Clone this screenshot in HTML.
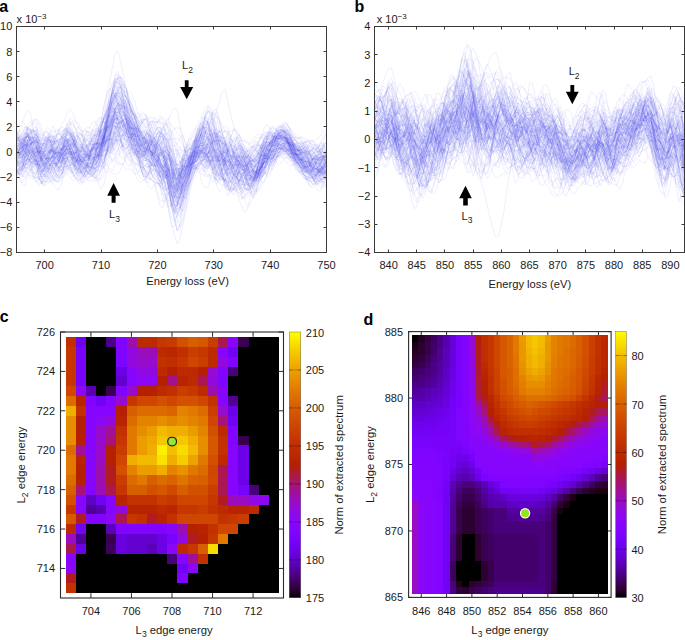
<!DOCTYPE html>
<html><head><meta charset="utf-8"><style>html,body{margin:0;padding:0;background:#fff;overflow:hidden}svg{display:block}</style></head>
<body><svg width="685" height="640" viewBox="0 0 685 640" font-family='"Liberation Sans", sans-serif'><style>.cv path{vector-effect:non-scaling-stroke}</style><g class="cv" transform="translate(16.500,0) scale(2.81818,0.25)" fill="none" stroke="#2a2ae8" stroke-opacity="0.088" stroke-width="0.9" stroke-linejoin="round" vector-effect="non-scaling-stroke"><path d="M0 681l1 12 1 0 1-26 1-13 1 16 1 22 1 13 1 14 1 9 1-2 1 1 1 0 1-17 1-17 1 9 1-6 1-39 1-25 1 9 1 15 1 11 1-1 1-17 1-12 1 3 1 1 1-6 1-6 1-4 1-14 1-44 1-65 1-46 1-31 1-20 1 0 1 8 1 9 1 19 1 21 1 9 1 4 1 23 1 43 1 45 1 22 1-8 1 0 1 13 1 3 1-2 1 8 1 29 1 41 1 45 1 37 1-7 1-47 1-58 1-34 1-3 1 10 1-8 1-27 1-19 1-9 1 15 1 42 1 16 1-19 1-7 1 6 1 7 1 14 1 5 1-2 1 8 1 5 1-5 1 10 1 35 1 44 1 32 1 12 1-18 1-40 1-47 1-53 1-46 1-21 1-2 1-6 1-5 1 6 1 7 1 5 1 7 1 19 1 20 1 9 1 9 1 25 1 33 1 10 1 11 1 16 1 5 1-21 1 14 1 17"/><path d="M0 659l1 4 1 17 1-7 1-48 1-35 1-9 1 14 1 16 1-17 1-39 1-11 1 15 1 28 1 22 1 0 1-35 1-39 1-16 1 2 1 31 1 44 1 21 1 2 1-4 1 5 1 5 1 4 1 3 1-14 1-38 1-23 1-5 1-19 1-26 1-35 1-24 1 4 1 27 1 42 1 40 1 28 1 10 1-8 1-9 1-3 1 17 1 22 1 0 1-12 1 6 1 32 1 37 1 31 1 38 1 73 1 55 1-14 1-35 1-25 1-51 1-66 1-59 1-45 1-28 1-31 1-16 1 16 1 34 1 45 1 38 1 5 1-21 1 9 1 27 1 14 1-2 1-16 1 1 1 40 1 28 1-9 1-29 1-42 1-6 1 28 1 16 1-8 1 7 1 25 1-8 1-32 1-29 1-14 1-6 1-6 1-15 1-18 1 7 1 33 1 38 1 26 1 16 1 4 1 6 1 5 1-7 1-32 1-50 1-47 1-9"/><path d="M0 683l1 18 1 8 1-25 1-17 1 22 1 23 1-1 1-5 1 1 1-14 1-26 1-15 1 2 1 7 1 11 1-6 1-29 1-31 1 1 1 22 1 13 1 3 1 12 1 15 1-8 1-43 1-46 1-15 1-3 1-23 1-17 1 5 1-6 1-25 1-18 1 4 1-3 1-24 1-9 1 24 1 39 1 30 1 10 1 8 1 15 1 28 1 42 1 26 1-2 1-2 1 6 1 11 1 21 1 10 1-15 1-13 1-3 1 16 1 47 1 27 1-16 1-32 1-23 1-10 1 5 1 8 1 8 1-6 1-9 1 1 1 10 1 12 1 11 1-3 1-36 1-47 1-8 1-12 1 10 1-2 1-12 1 4 1 16 1 10 1-2 1-11 1-15 1-22 1-35 1-31 1 0 1 7 1 0 1 7 1 12 1 11 1 11 1 19 1 19 1 18 1 25 1 20 1 7 1 7 1 14 1-3 1-26 1-31 1-19 1 5"/><path d="M0 645l1-4 1-16 1-40 1-17 1 11 1-8 1-13 1 22 1 36 1 12 1 3 1 7 1 7 1 10 1 14 1-1 1-14 1-7 1 5 1 0 1-10 1-9 1-12 1-22 1-20 1-7 1 8 1 0 1-17 1-18 1 18 1 40 1-2 1-41 1-30 1 9 1 23 1 9 1 9 1 24 1 33 1 21 1 0 1-13 1-13 1 2 1 9 1 8 1 22 1 27 1 6 1-26 1-35 1-13 1 9 1 11 1 8 1-9 1-24 1-8 1 5 1-5 1-13 1-11 1-8 1-5 1 7 1 9 1-2 1-12 1-7 1-15 1-26 1-13 1 1 1 23 1 33 1 15 1 3 1 14 1 26 1 34 1 28 1 14 1-6 1-23 1-20 1-14 1-13 1-3 1 9 1-11 1-15 1-10 1-17 1-11 1 7 1 12 1 5 1-5 1-8 1-11 1-13 1-2 1 23 1 29 1 14 1-4 1-11 1-12"/><path d="M0 648l1 2 1-16 1-32 1-25 1-3 1-8 1-1 1 21 1 19 1 13 1 23 1 24 1 8 1-12 1-12 1-3 1 1 1-1 1-5 1-5 1-7 1-12 1 5 1 31 1 35 1 13 1-6 1-33 1-46 1-24 1-28 1-65 1-60 1-26 1-21 1-25 1-17 1-5 1 11 1 34 1 43 1 49 1 64 1 56 1 19 1 2 1 5 1 8 1 14 1-3 1-26 1-16 1-3 1-1 1 28 1 69 1 63 1-1 1-35 1-35 1-36 1-23 1-5 1-12 1-16 1 16 1 27 1 0 1 2 1 21 1 26 1 25 1 1 1-25 1-24 1-12 1-22 1-38 1-29 1-4 1 0 1 6 1 6 1-6 1-2 1 9 1 23 1 19 1-2 1-24 1-30 1-22 1-11 1-8 1 4 1 28 1 39 1 29 1 11 1 2 1 9 1 5 1-2 1-2 1 11 1 19 1 11 1 2 1 2 1 1"/><path d="M0 582l1-2 1-44 1-29 1 5 1 6 1 1 1 16 1 34 1 15 1-12 1-15 1-8 1-2 1 8 1 32 1 32 1 18 1-7 1-3 1 25 1 32 1 24 1 20 1 1 1-9 1-18 1-38 1-28 1-12 1-25 1-47 1-61 1-68 1-33 1-10 1 41 1 51 1 44 1 33 1 22 1 10 1-1 1 3 1 14 1 12 1-8 1-23 1-13 1 5 1 19 1 31 1 23 1-7 1 0 1 23 1-8 1-27 1-13 1-10 1 1 1 8 1 0 1-2 1-6 1-15 1-24 1-29 1-24 1-32 1-41 1 1 1 43 1 51 1 41 1 40 1 53 1 37 1-9 1-7 1 14 1-13 1-29 1-23 1-12 1-6 1-22 1-20 1 6 1 12 1-2 1-14 1-14 1-5 1-2 1 2 1 10 1 24 1 26 1 7 1-7 1-13 1-9 1 9 1 1 1-15 1-8 1 6 1 24 1 24 1-1"/><path d="M0 555l1 10 1-4 1-12 1 0 1 11 1 23 1 53 1 57 1 15 1-7 1 6 1 17 1 7 1-20 1-21 1-12 1-16 1-30 1-18 1 10 1 18 1-8 1-11 1 17 1 20 1 1 1-15 1-28 1 4 1 42 1 9 1-60 1-63 1-35 1-15 1 13 1 19 1 11 1-15 1-23 1-10 1 3 1 36 1 31 1-7 1-4 1 31 1 30 1-7 1-1 1 36 1 28 1 8 1 37 1 54 1 26 1-12 1-45 1-54 1-36 1-12 1-16 1-41 1-52 1-33 1 4 1 39 1 35 1 29 1 56 1 42 1 0 1 7 1 26 1 23 1 3 1-1 1-17 1 4 1 12 1-2 1 0 1-9 1-21 1-15 1-28 1-44 1-28 1-21 1-24 1-7 1 10 1 12 1 8 1 11 1 17 1 8 1 3 1 12 1 8 1 7 1 27 1 31 1 15 1 0 1-13 1-7 1 12 1-1 1-16"/><path d="M0 562l1-10 1-23 1-15 1-3 1-7 1-17 1-11 1 9 1 32 1 35 1 18 1 0 1-20 1-29 1-6 1 34 1 35 1 3 1 5 1 28 1 18 1-6 1-11 1-8 1-12 1-14 1-2 1 6 1-4 1-24 1-21 1-13 1-26 1-26 1-7 1 9 1 0 1-19 1 1 1 42 1 38 1-8 1-35 1-18 1 11 1 27 1 36 1 24 1 11 1 18 1 15 1-4 1 23 1 75 1 65 1 35 1 33 1-12 1-74 1-68 1-55 1-48 1-29 1-23 1-20 1-10 1-14 1-16 1 0 1-5 1-8 1 10 1 24 1 24 1 15 1 13 1 16 1 24 1 41 1 38 1 21 1 0 1-9 1 9 1 18 1 3 1-10 1-12 1-16 1-19 1-23 1-28 1-16 1 0 1 6 1 2 1 2 1 10 1 7 1 11 1 19 1 7 1-13 1-2 1 19 1 2 1-22 1-24 1-12 1 6"/><path d="M0 620l1-19 1-41 1-32 1 6 1 26 1 4 1-2 1 12 1 2 1-2 1 6 1-1 1-2 1 14 1 22 1 6 1-3 1-8 1-11 1 5 1 19 1 6 1-26 1-50 1-24 1-2 1 13 1 12 1-6 1-16 1-14 1-37 1-56 1-45 1-37 1-26 1-6 1 14 1 32 1 37 1 32 1 31 1 28 1 9 1-11 1-3 1 39 1 61 1 46 1 33 1 41 1 51 1 41 1 35 1 46 1 20 1-30 1-40 1-32 1-39 1-40 1-32 1-11 1-4 1-5 1-11 1-18 1-16 1 6 1 42 1 17 1 19 1 6 1-7 1 5 1 29 1 27 1 5 1-5 1-4 1-8 1-19 1-22 1-7 1 0 1 0 1-7 1-19 1-27 1-27 1-19 1-21 1-28 1-21 1 1 1 10 1 10 1 20 1 26 1 10 1 0 1 8 1 18 1 23 1 18 1-7 1-27 1-16 1 4 1 7"/><path d="M0 563l1 17 1 27 1-15 1-28 1 7 1 44 1 31 1 0 1 0 1 8 1-9 1-34 1-11 1 17 1-2 1-25 1-27 1 2 1 19 1 17 1 28 1 30 1 26 1 21 1-1 1-27 1-7 1 0 1-5 1 1 1-19 1-44 1-49 1-46 1-31 1 1 1 10 1 21 1 26 1 16 1-2 1-15 1 2 1 26 1 25 1 9 1 5 1 10 1 21 1 13 1-7 1 5 1 18 1 20 1 38 1 36 1 13 1-13 1-49 1-68 1-55 1-31 1-25 1-27 1-22 1-19 1-24 1-15 1 16 1 68 1 76 1 46 1 57 1 70 1 30 1-33 1-44 1-28 1-26 1-21 1-6 1-1 1 0 1-13 1-21 1 0 1 7 1-6 1 2 1 8 1 5 1 13 1 5 1-14 1-11 1 9 1 8 1 6 1 19 1 22 1 9 1-2 1 2 1 10 1-7 1-32 1-22 1 3 1 3 1-14"/><path d="M0 592l1 12 1-1 1-44 1-46 1-13 1-17 1-8 1 29 1 32 1 8 1 10 1 15 1 2 1-7 1-2 1-11 1-14 1 3 1 1 1-10 1-1 1 17 1 20 1-6 1-11 1 5 1 17 1 4 1 0 1-3 1-30 1-38 1-12 1-16 1-40 1-25 1 7 1 15 1-5 1 8 1 34 1 30 1 23 1 51 1 89 1 57 1 29 1 7 1-19 1-7 1 13 1 12 1-2 1-6 1-16 1-43 1-47 1 5 1 32 1 8 1-10 1-12 1-14 1-19 1-12 1 13 1 26 1 9 1-17 1-21 1-7 1 5 1 9 1 3 1 12 1 28 1 21 1-18 1-38 1-13 1 20 1 31 1 30 1 13 1-17 1-36 1-27 1-16 1-18 1-21 1-13 1-12 1-13 1 1 1 7 1 12 1 24 1 32 1 29 1 21 1 15 1 1 1-12 1-9 1-5 1 4 1 8 1-4 1-9 1-12"/><path d="M0 557l1 0 1-2 1-31 1-10 1 35 1 27 1 12 1 17 1 16 1 8 1 6 1 9 1 11 1 4 1-3 1-8 1-22 1-22 1 13 1 24 1 4 1-2 1-5 1-14 1-10 1-3 1-6 1-22 1-11 1 3 1-32 1-51 1-38 1-58 1-70 1-27 1 11 1 39 1 44 1 33 1 22 1 22 1 32 1 26 1 5 1 4 1 34 1 54 1 35 1 20 1 31 1 31 1 16 1-4 1-12 1-3 1-6 1-25 1-22 1-26 1-29 1-6 1 2 1-17 1-49 1-63 1-28 1 4 1 1 1 26 1 58 1 47 1 3 1-11 1 4 1 26 1 19 1-5 1 0 1 12 1 19 1 35 1 52 1 32 1-20 1-50 1-43 1-19 1-12 1-14 1-11 1-9 1-20 1-18 1 8 1 27 1 20 1 3 1-7 1 1 1 12 1 14 1 12 1-4 1-21 1-18 1 5 1 25 1 11 1-6"/><path d="M0 534l1-12 1 34 1 28 1 2 1-8 1-15 1 5 1 35 1 47 1 16 1-8 1-15 1-18 1 0 1 3 1-26 1-30 1 9 1 26 1 22 1 20 1-1 1-20 1-8 1 11 1-16 1-32 1-23 1-21 1-35 1-37 1-29 1-37 1-44 1-36 1-11 1 18 1 45 1 52 1 53 1 45 1 22 1 1 1-6 1 10 1 2 1-15 1 6 1 6 1-17 1-1 1 9 1 8 1 33 1 27 1 19 1 43 1 20 1 2 1 7 1-19 1-38 1-20 1 5 1 0 1-10 1 10 1 7 1-21 1-14 1 1 1 3 1 16 1 32 1 35 1 23 1-2 1-2 1 16 1 18 1-3 1-29 1 2 1 12 1 1 1-31 1-38 1-19 1-2 1-8 1-18 1-23 1-24 1-15 1-10 1 0 1 14 1 26 1 33 1 30 1 21 1 15 1 9 1 0 1 9 1 15 1-4 1-18 1-10 1 13"/><path d="M0 653l1-5 1 0 1-3 1-2 1 2 1 3 1 17 1 12 1-21 1-41 1-27 1-4 1 23 1 32 1 11 1-32 1-50 1-27 1-1 1 18 1 27 1 18 1 3 1-5 1 2 1 13 1 21 1 19 1 5 1-12 1-13 1-17 1-55 1-56 1 0 1 15 1-21 1-25 1-3 1 10 1 4 1-20 1-17 1 18 1 35 1 8 1-16 1-14 1 4 1 44 1 59 1 41 1 49 1 69 1 63 1 22 1-13 1-30 1-39 1-44 1-24 1-7 1-3 1-1 1 21 1 45 1 13 1-2 1-40 1-47 1-12 1-8 1-28 1-33 1 0 1 43 1 51 1 10 1-18 1-4 1 6 1 6 1 6 1 1 1 5 1 13 1 8 1-7 1-20 1-34 1-35 1-18 1-4 1 8 1 7 1-5 1-3 1 11 1 18 1 14 1 0 1-10 1 5 1 23 1 8 1-13 1-11 1-5 1 17 1 11"/><path d="M0 608l1-10 1-12 1 8 1 35 1 30 1-10 1-13 1 19 1 23 1-2 1-25 1-33 1-18 1 11 1 21 1-1 1-16 1-14 1-22 1-19 1 2 1 10 1 12 1 9 1 0 1-29 1-45 1-24 1-21 1-2 1 17 1 1 1-12 1-12 1-2 1 35 1 61 1 48 1 17 1 19 1-5 1-25 1-8 1-4 1-9 1 5 1 14 1 5 1 15 1 30 1 42 1 45 1 13 1-15 1-5 1 7 1-14 1-46 1-37 1-11 1 4 1 2 1-2 1-4 1 3 1-2 1-6 1 11 1 0 1-23 1-2 1 29 1 38 1 37 1 19 1-15 1-43 1-36 1-11 1 0 1 15 1 10 1 2 1 17 1 25 1 6 1-27 1-48 1-38 1-2 1 16 1 10 1-1 1-10 1-11 1 2 1 12 1 17 1 9 1 8 1 25 1 24 1 9 1 6 1-4 1-8 1-7 1-16 1-28 1-37"/><path d="M0 562l1 14 1 25 1-8 1-11 1 5 1-9 1-13 1 12 1 20 1-11 1-8 1 28 1 46 1 43 1 20 1-22 1-39 1-49 1-23 1-9 1 9 1 13 1 28 1 8 1-11 1-16 1-12 1-16 1-29 1-26 1-14 1-35 1-59 1-49 1-31 1-20 1-1 1 17 1 28 1 59 1 73 1 54 1 36 1 18 1-1 1-21 1-25 1-7 1 16 1 13 1-2 1 11 1 21 1 27 1 22 1 18 1 29 1 33 1 18 1-14 1-24 1-27 1-28 1-35 1-16 1 13 1 10 1-8 1-1 1 27 1 37 1 22 1 5 1 9 1 27 1 19 1-10 1-42 1-42 1-18 1 9 1 40 1 18 1 18 1-15 1-26 1-30 1-33 1-24 1-7 1-9 1-25 1-16 1 3 1-3 1-3 1 18 1 24 1 7 1-5 1 5 1 13 1 2 1-7 1-11 1-1 1 11 1-6 1-38 1-31"/><path d="M0 674l1 13 1-6 1-23 1-1 1 26 1 22 1 21 1 16 1-15 1-53 1-49 1-23 1-14 1 5 1 29 1 20 1-5 1-20 1-11 1 4 1 6 1 16 1 31 1 31 1 25 1 4 1 1 1-11 1-15 1-23 1-27 1-34 1-30 1-25 1-4 1 11 1 25 1 14 1-13 1-7 1 4 1 13 1 24 1 25 1 10 1 2 1 7 1-5 1-19 1-1 1 11 1 6 1 17 1 35 1 29 1 16 1 1 1-22 1-30 1-10 1-8 1-22 1-27 1-38 1-32 1 4 1 23 1-6 1-18 1 7 1 43 1 51 1 31 1 18 1 5 1-1 1 8 1 18 1 19 1 17 1-3 1-18 1 1 1 11 1-17 1-47 1-48 1-23 1 2 1-2 1-33 1-41 1-23 1-10 1-8 1-3 1 17 1 33 1 20 1 3 1 2 1-1 1 9 1 27 1 21 1 6 1-8 1-19 1-19 1-4"/><path d="M0 642l1 28 1 5 1-21 1-5 1 28 1 20 1-12 1-4 1 6 1 0 1-11 1-24 1-29 1-13 1 3 1 1 1-8 1-9 1 9 1 27 1 33 1 28 1-6 1-25 1-5 1-17 1-42 1-29 1-13 1-11 1 3 1-2 1-15 1-11 1-8 1-2 1-1 1-8 1-12 1 6 1 23 1 21 1 4 1-16 1-7 1 28 1 41 1 22 1 2 1-11 1-8 1 5 1 27 1 54 1 63 1 44 1-21 1-74 1-30 1-31 1 7 1-16 1-22 1-12 1-7 1 0 1 11 1 7 1 29 1 59 1 54 1 24 1-13 1-35 1-25 1-5 1-1 1-5 1-6 1-9 1-25 1-18 1 22 1 41 1 9 1-26 1-14 1 1 1-22 1-44 1-31 1-13 1-13 1-17 1-13 1 9 1 20 1 13 1 10 1 22 1 36 1 38 1 39 1 30 1 14 1 3 1-13 1-24 1-29 1-13"/><path d="M0 689l1-7 1-15 1-20 1-15 1-24 1-13 1 19 1 21 1-3 1-8 1-10 1-15 1-17 1-18 1-4 1 10 1 23 1 23 1 7 1-3 1-12 1-13 1 12 1-2 1-27 1-15 1 1 1-9 1-30 1-36 1-23 1-24 1-39 1-31 1 15 1 39 1 8 1-2 1-6 1 11 1 25 1 42 1 43 1 17 1 4 1 8 1-11 1-17 1 16 1 22 1-11 1-15 1-7 1 11 1 44 1 46 1 19 1 4 1-2 1-10 1-14 1-18 1-22 1-29 1-28 1-43 1-52 1-18 1 10 1 24 1 38 1 39 1 36 1 24 1 11 1 15 1 31 1 40 1 10 1-12 1 5 1 7 1-2 1-1 1-2 1-9 1-27 1-36 1-26 1-8 1-5 1-9 1 5 1-2 1-11 1-24 1 3 1 25 1 22 1 7 1-4 1 1 1 13 1 33 1 27 1-1 1-4 1-4 1-8 1-3"/><path d="M0 620l1 13 1 14 1-23 1-37 1-15 1-2 1-1 1-1 1-9 1-5 1 12 1 24 1 18 1 5 1-2 1 7 1 18 1 17 1 19 1 24 1 18 1 11 1-4 1-23 1-14 1 0 1-8 1-18 1-17 1-30 1-50 1-52 1-41 1-48 1-57 1-18 1 21 1 13 1 10 1 28 1 29 1 28 1 32 1 31 1 23 1 7 1-23 1-49 1-28 1 9 1 16 1 2 1 0 1 21 1 50 1 57 1 41 1 35 1 16 1-19 1-37 1-29 1-25 1-37 1-21 1 15 1 17 1-2 1 1 1 28 1 37 1 24 1 11 1-14 1-18 1-5 1-4 1-9 1-6 1 4 1 7 1-6 1-18 1-22 1-11 1 7 1 10 1-2 1-12 1-7 1 8 1 9 1-4 1-11 1-1 1 10 1 11 1 13 1 16 1 8 1 10 1 13 1 9 1 10 1 7 1 1 1-9 1-17 1-20 1-16"/><path d="M0 643l1 26 1 33 1 7 1-9 1-11 1-46 1-45 1-7 1 23 1 11 1-17 1-27 1-3 1 9 1 5 1 10 1 2 1-20 1-9 1 8 1-10 1-30 1-3 1 9 1 35 1 11 1-4 1 7 1-5 1-51 1-84 1-66 1-33 1-17 1-12 1 0 1 16 1 24 1 24 1 37 1 24 1 7 1 22 1 37 1 45 1 34 1 6 1 0 1 16 1 42 1 27 1-9 1 3 1 44 1 52 1 39 1 37 1 3 1-33 1-49 1-45 1-34 1-23 1-8 1 13 1 5 1-17 1-21 1-8 1 3 1-5 1 11 1 42 1 40 1 15 1 3 1 4 1 9 1 10 1 7 1 21 1 27 1-12 1-34 1-35 1-39 1-35 1-30 1-23 1-25 1-23 1-14 1-12 1-7 1 13 1 18 1 5 1 3 1 7 1 15 1 20 1 8 1 10 1 27 1 39 1 26 1-18 1-22 1 7 1-4"/><path d="M0 602l1-13 1-2 1 5 1 12 1 12 1-4 1-4 1 4 1-17 1-34 1-23 1-3 1 17 1 27 1 30 1 6 1-29 1-30 1 3 1 23 1 14 1 4 1 6 1 1 1 5 1 0 1-13 1-17 1-19 1-23 1-19 1-22 1-21 1-12 1-4 1 15 1 20 1 7 1-2 1 9 1 25 1 36 1 31 1 19 1-2 1-5 1-2 1-8 1-28 1-4 1 20 1 17 1 16 1 48 1 48 1 21 1 25 1 12 1-19 1-25 1-24 1-23 1-18 1-26 1-13 1-1 1-19 1-32 1-19 1-3 1 14 1 29 1 17 1-10 1-18 1-7 1 1 1 10 1 10 1 16 1 21 1 12 1 15 1 16 1 8 1 5 1-6 1-23 1-17 1-9 1-13 1-14 1-6 1-2 1-3 1 6 1 15 1 14 1 9 1 2 1-5 1-9 1-6 1 0 1-1 1-7 1-7 1-9 1-18 1-18"/><path d="M0 513l1-15 1-13 1 10 1 41 1 58 1 40 1 8 1 1 1 0 1-16 1-18 1-1 1 12 1 13 1 12 1-3 1-17 1-29 1-31 1-15 1-7 1 2 1 24 1 36 1 23 1-5 1-8 1-14 1-31 1-40 1-19 1 5 1 0 1-43 1-75 1-44 1 17 1 36 1 35 1 50 1 50 1 40 1 24 1 0 1 10 1 32 1 19 1-12 1-1 1 39 1 38 1 29 1 36 1 7 1 0 1-38 1-39 1-47 1-39 1-13 1-9 1-24 1-37 1-35 1-7 1 50 1 63 1 21 1-7 1 10 1 20 1-2 1 13 1 29 1 20 1 18 1 12 1 4 1 18 1 15 1-18 1-31 1-35 1-35 1-34 1-34 1-7 1 11 1-7 1-12 1 2 1-9 1-31 1-18 1 4 1 7 1 11 1 18 1 16 1 3 1-2 1 8 1 11 1 5 1 11 1 5 1-3 1-2 1-2 1-6"/><path d="M0 552l1 3 1 4 1-15 1-12 1 22 1 26 1 9 1-2 1-12 1-18 1-5 1 17 1 38 1 53 1 25 1 10 1-9 1-13 1-14 1-8 1-2 1-7 1-3 1-5 1-20 1-34 1-28 1-21 1-9 1 8 1 3 1-17 1-26 1-25 1-31 1-3 1 39 1 30 1 19 1 34 1 31 1 13 1 11 1 8 1 0 1 0 1-3 1-8 1-6 1-10 1-8 1-6 1 7 1 36 1 59 1 53 1 25 1-9 1-22 1-13 1-12 1-17 1-11 1-29 1-26 1-22 1-5 1-16 1-21 1 10 1 13 1-1 1 28 1 45 1 34 1 22 1 22 1 29 1 7 1-24 1-30 1-12 1 12 1 4 1-20 1-26 1-26 1-30 1-23 1-13 1-17 1-15 1-2 1 3 1 8 1 19 1 29 1 32 1 30 1 20 1 9 1-11 1-4 1 6 1 4 1-21 1-39 1-32 1-20 1-3"/><path d="M0 576l1-1 1-1 1 6 1 22 1 21 1-5 1-9 1 9 1 19 1 6 1-25 1-40 1-14 1 12 1 3 1-3 1 9 1 3 1-8 1-3 1 29 1 53 1 33 1-13 1-18 1 4 1 8 1 6 1 10 1-8 1-13 1-6 1-30 1-62 1-70 1-57 1-39 1-4 1 29 1 15 1 6 1 10 1 38 1 43 1 15 1 9 1 15 1-3 1-11 1 21 1 53 1 40 1 22 1 3 1-14 1 9 1 22 1-6 1-12 1-8 1-20 1-19 1-15 1-26 1-17 1 13 1 12 1 2 1 31 1 45 1 20 1-9 1-10 1 11 1 20 1 26 1 20 1-17 1-39 1-32 1-1 1 34 1 29 1-4 1-27 1-32 1-51 1-41 1-1 1 22 1 22 1-6 1-17 1-24 1-15 1-7 1-6 1 7 1 20 1 19 1 6 1-14 1-11 1 21 1 25 1 11 1-1 1 8 1 24 1 14"/><path d="M0 571l1 7 1 5 1-3 1 5 1-4 1-10 1 13 1 30 1 35 1 26 1-3 1-14 1 6 1 17 1-4 1-34 1-53 1-47 1-15 1 22 1 37 1 22 1 14 1 9 1-2 1-9 1-22 1-35 1-24 1-23 1-41 1-56 1-19 1 30 1 6 1-17 1 3 1 36 1 23 1 4 1 23 1 38 1 37 1 17 1-16 1-24 1-1 1 16 1 13 1 17 1 21 1 26 1 39 1 50 1 33 1 8 1-6 1-35 1-43 1-17 1-13 1-16 1-3 1-4 1-13 1 15 1 26 1-18 1-27 1 35 1 57 1 15 1 1 1 13 1-11 1-44 1-42 1-14 1 2 1 9 1-8 1-20 1 4 1 15 1-11 1-12 1 0 1-4 1 1 1 6 1-2 1-13 1-13 1-8 1-3 1 4 1 6 1 10 1 7 1-8 1-2 1 28 1 36 1 14 1 9 1 14 1 0 1-22 1-23 1 4"/><path d="M0 649l1-22 1-4 1-5 1-18 1-24 1-23 1 9 1 33 1 42 1 27 1 2 1-14 1-13 1-10 1-13 1-20 1-22 1-15 1 5 1 13 1 16 1 29 1 32 1 17 1 5 1-1 1-12 1-39 1-41 1-13 1 5 1-13 1-43 1-47 1-22 1 10 1 14 1 8 1 15 1 22 1 39 1 47 1 36 1 33 1 30 1 6 1-16 1-42 1-26 1 1 1 17 1 19 1 29 1 42 1 21 1-8 1 0 1-4 1-38 1-48 1-27 1-20 1-36 1-43 1-17 1 23 1 40 1 24 1 40 1 48 1 16 1-14 1-2 1 21 1 37 1 22 1-10 1-21 1-13 1-4 1-7 1-11 1-12 1-2 1 1 1 22 1-2 1-28 1-42 1-41 1-26 1-23 1-21 1-8 1 2 1 6 1 19 1 27 1 29 1 29 1 30 1 20 1 6 1-3 1 5 1 10 1 1 1-2 1-6 1 8"/><path d="M0 526l1 18 1 30 1 10 1 9 1 16 1 8 1-8 1-2 1 18 1 11 1-4 1 2 1 12 1-3 1-18 1-10 1-9 1-28 1-19 1 11 1 16 1 6 1 7 1-6 1 14 1 32 1 2 1-18 1-6 1 5 1 2 1-16 1-33 1-25 1-4 1-3 1-20 1-23 1-7 1 18 1 40 1 41 1 19 1-21 1-14 1 23 1 2 1-34 1-38 1-20 1 2 1 22 1 28 1 41 1 50 1 38 1 38 1 34 1 9 1-13 1-21 1-20 1-23 1-31 1-52 1-20 1 14 1 9 1-9 1 17 1 36 1 9 1-21 1-16 1 13 1 15 1-15 1-16 1 24 1 38 1 24 1 18 1 25 1 22 1-17 1-43 1-39 1-36 1-20 1 6 1 9 1-3 1-11 1-6 1 2 1 3 1-9 1 2 1 11 1 9 1 3 1-2 1 8 1 16 1 15 1 19 1 2 1-8 1-2 1 8"/><path d="M0 690l1-17 1-34 1-36 1-25 1 4 1 26 1 21 1 4 1 14 1 25 1-7 1-26 1-25 1 0 1 2 1 13 1 16 1-4 1 3 1 14 1 15 1 2 1-23 1-25 1-8 1 22 1-2 1-49 1-33 1 10 1 3 1-17 1-12 1-3 1 11 1 11 1 6 1 7 1-6 1 13 1 25 1 10 1 11 1 15 1 21 1 28 1 26 1-5 1-15 1-55 1-43 1 21 1 48 1 14 1 11 1 13 1-6 1 0 1 13 1-5 1-20 1-27 1-34 1-36 1-29 1-40 1-45 1-29 1 12 1 37 1 28 1 23 1 23 1 36 1 45 1 22 1-7 1-41 1-47 1 9 1 36 1 3 1-17 1-10 1 2 1 1 1-12 1-11 1 2 1 4 1-3 1-1 1 2 1-6 1-6 1 0 1 7 1 15 1 8 1-5 1-5 1 3 1 10 1 19 1 23 1 8 1 5 1-1 1-17 1-24"/><path d="M0 661l1-7 1-5 1-7 1 4 1 18 1 5 1-11 1-1 1 10 1-10 1-29 1-16 1-1 1-10 1-18 1-9 1-6 1-12 1-4 1 14 1 20 1 11 1 15 1 8 1-3 1 6 1 8 1-1 1 5 1-11 1-49 1-68 1-59 1-54 1-53 1-31 1-2 1 27 1 86 1 87 1 42 1 14 1 10 1 15 1 14 1-6 1-22 1-14 1-6 1-19 1-9 1 13 1 24 1 26 1 35 1 34 1 40 1 38 1 8 1-33 1-47 1-28 1-5 1-2 1-11 1-25 1-34 1-10 1 3 1-15 1-6 1 44 1 65 1 42 1 19 1-18 1-65 1-66 1-16 1 29 1 24 1 17 1 40 1 56 1 16 1-28 1-27 1-18 1-10 1-8 1-11 1-25 1-24 1-5 1 6 1 14 1 26 1 22 1 5 1 1 1 16 1 16 1 0 1 4 1 23 1 10 1-20 1-16 1 12 1 13"/><path d="M0 621l1 9 1 0 1-9 1-16 1-5 1-14 1 5 1 50 1 22 1-21 1-8 1 9 1 10 1 4 1-8 1-8 1 1 1-12 1-20 1 2 1 20 1 12 1 3 1-5 1-8 1 2 1-1 1-19 1-45 1-61 1-42 1-20 1-25 1-32 1-17 1 10 1 15 1 23 1 53 1 63 1 37 1 5 1-2 1 4 1 12 1 3 1-3 1 16 1 24 1 12 1 18 1 28 1 20 1 18 1 24 1 1 1-46 1-49 1-36 1-40 1-24 1-5 1-11 1-23 1-9 1 1 1-2 1-12 1-11 1 17 1 36 1 19 1 4 1 7 1 10 1 13 1 12 1 11 1 16 1 15 1 22 1 23 1 6 1-11 1-25 1-30 1-26 1-31 1-32 1-13 1 1 1-1 1 2 1-3 1-16 1-9 1 7 1 21 1 17 1 0 1-4 1 5 1 6 1 3 1 5 1 7 1 14 1 11 1-5 1-12"/><path d="M0 602l1 10 1 6 1-42 1-56 1-1 1 40 1 22 1 4 1 9 1-1 1-7 1 11 1 12 1-13 1-18 1-14 1-6 1 12 1 36 1 50 1 38 1 7 1-13 1-19 1-7 1 9 1-10 1-47 1-33 1 2 1-13 1-46 1-29 1 4 1 6 1 16 1 20 1-3 1-18 1 4 1 21 1 5 1-6 1 21 1 37 1 27 1 18 1 12 1-7 1-12 1 6 1 21 1-1 1-29 1-7 1 38 1 31 1 4 1-15 1-18 1-16 1-22 1-22 1-20 1-13 1-7 1-15 1-24 1-30 1-19 1 9 1 30 1 55 1 66 1 34 1 21 1 25 1-1 1-38 1-46 1-25 1-17 1-27 1-14 1-10 1-8 1 4 1-4 1-7 1-1 1 15 1 14 1 15 1 7 1 3 1 13 1 18 1 9 1-8 1-10 1-5 1-4 1 3 1 4 1 3 1 14 1 9 1 11 1 21 1 5"/><path d="M0 600l1 22 1 7 1-1 1 8 1 4 1-7 1 24 1 55 1 26 1-26 1-42 1-20 1 7 1 5 1-16 1-24 1-16 1-10 1 2 1 26 1 35 1 24 1 14 1 0 1 7 1 8 1-11 1-14 1-22 1-66 1-79 1-59 1-50 1-36 1-3 1 37 1 54 1 29 1 22 1 25 1 22 1 14 1 19 1 23 1 12 1-23 1-22 1 9 1 9 1 25 1 9 1-4 1-7 1 15 1 23 1 35 1 53 1 24 1-12 1-39 1-44 1-34 1-19 1-7 1 13 1 32 1 36 1 8 1-8 1 7 1 12 1-2 1-16 1-14 1 9 1 14 1 3 1-4 1-20 1-11 1-2 1-11 1-18 1-11 1-7 1-12 1 2 1 15 1 0 1-19 1-17 1-12 1-10 1-9 1-6 1 5 1 10 1 2 1 3 1 19 1 35 1 31 1 18 1 16 1 21 1 13 1-15 1-36 1-17 1 22"/><path d="M0 579l1-12 1 4 1 10 1-2 1-8 1-4 1 26 1 63 1 42 1 2 1-24 1-7 1 4 1-9 1-32 1-39 1-10 1 14 1 18 1 23 1 25 1 17 1 1 1-16 1-8 1-2 1 6 1 26 1 43 1 25 1-19 1-43 1-39 1-18 1-2 1-13 1-30 1-15 1 2 1 0 1 0 1 18 1 35 1 20 1-8 1-1 1 26 1 30 1 14 1-10 1-19 1-12 1-16 1-33 1-24 1-1 1 5 1-13 1-4 1 28 1 20 1-9 1-12 1 1 1 1 1-3 1 6 1 19 1 30 1 16 1-22 1-33 1-12 1-7 1-5 1 0 1 2 1 22 1 48 1 59 1 18 1 11 1-7 1-29 1-29 1-19 1-10 1-24 1-41 1-32 1-15 1-9 1-2 1 1 1 5 1 17 1 13 1 5 1 7 1 9 1 6 1 6 1 10 1 6 1 5 1 5 1 14 1 23 1 19 1 0"/><path d="M0 656l1 13 1 7 1-10 1-14 1-21 1-31 1-5 1 26 1 21 1-14 1-35 1-10 1 47 1 37 1 3 1 14 1 14 1-20 1-10 1 21 1 19 1 23 1 7 1-23 1-37 1-58 1-60 1-24 1-11 1-27 1-22 1-13 1 0 1-9 1-23 1-9 1 1 1-2 1 16 1 53 1 46 1 10 1-1 1 9 1 28 1 34 1 14 1 8 1 17 1 31 1 22 1-12 1-12 1-3 1-34 1-34 1 2 1 10 1 18 1 15 1-7 1-30 1-29 1-8 1 9 1 7 1 15 1 10 1 1 1 15 1 6 1-10 1 6 1 11 1 10 1 3 1 9 1 30 1 16 1-4 1-6 1 7 1 0 1 3 1 10 1-8 1-36 1-66 1-75 1-27 1-11 1 8 1 20 1 18 1 11 1 13 1 6 1-2 1 5 1 21 1 35 1 33 1 34 1 35 1 5 1-13 1 0 1 12 1-6 1-39"/><path d="M0 613l1 10 1-12 1-36 1-19 1-1 1 0 1 10 1 21 1 3 1-18 1-19 1-8 1 4 1 0 1-9 1-13 1-2 1 6 1 2 1 11 1 12 1 3 1 16 1 25 1 25 1 2 1-8 1-6 1-22 1-28 1-20 1-23 1-26 1-24 1-19 1-24 1-12 1 32 1 37 1 30 1 61 1 38 1 8 1-29 1-20 1-8 1 7 1 12 1 2 1-23 1-24 1 16 1 53 1 60 1 40 1 20 1 12 1 12 1-5 1-28 1-34 1-29 1-40 1-45 1-10 1 8 1-14 1-8 1 37 1 65 1 48 1 10 1-21 1-6 1-3 1-22 1-16 1-13 1-10 1 19 1 15 1-21 1-11 1 8 1 18 1-10 1-45 1-36 1-14 1 0 1 7 1-5 1 3 1 12 1-1 1-14 1-2 1 8 1 16 1 11 1 4 1-4 1-7 1 7 1 29 1 25 1 14 1 1 1-7 1-9"/><path d="M0 594l1 7 1-8 1-24 1-8 1 1 1-10 1 3 1 20 1 18 1 22 1 11 1-20 1-31 1-13 1 16 1 19 1 10 1 23 1 34 1 18 1-8 1-25 1-5 1 17 1 1 1-27 1-34 1-39 1-36 1-7 1 27 1 16 1-29 1-54 1-11 1 47 1 33 1-9 1-9 1 24 1 34 1 23 1 19 1 4 1-9 1 9 1 13 1-7 1-29 1-47 1-33 1-16 1-34 1-7 1 66 1 89 1 56 1 25 1 7 1-18 1-34 1-34 1-26 1-32 1-47 1-31 1-4 1-8 1-22 1-14 1 4 1 34 1 48 1 19 1 1 1 26 1 38 1 20 1 10 1 5 1-3 1-8 1-11 1-6 1-7 1-18 1-22 1-25 1-22 1-15 1-3 1 7 1 11 1 13 1 14 1 14 1 15 1 22 1 24 1 15 1 8 1 9 1 6 1-5 1-2 1 12 1 16 1-1 1-21 1-30"/><path d="M0 616l1-14 1-14 1-12 1 4 1-2 1-10 1 24 1 37 1 7 1-5 1 2 1 1 1-4 1 5 1 8 1-17 1-33 1-26 1 6 1 33 1 22 1 2 1 8 1 12 1 6 1-4 1-4 1-3 1 7 1-2 1-41 1-77 1-65 1-40 1-20 1 9 1 27 1 23 1-2 1-14 1-8 1 16 1 27 1 16 1 16 1 26 1 18 1-7 1-2 1 40 1 35 1-18 1-18 1 11 1 25 1 34 1 44 1 25 1 4 1-11 1-25 1-38 1-39 1-31 1-25 1-11 1 7 1 7 1 10 1 19 1 22 1 20 1 13 1-8 1-38 1-55 1-34 1 1 1 19 1 33 1 28 1 23 1 21 1 17 1 0 1-22 1-19 1 3 1 4 1-9 1-17 1-2 1 14 1 0 1-20 1-8 1 11 1 13 1 12 1 4 1-17 1-24 1-6 1 16 1 7 1-6 1-1 1 19 1 18 1 29"/><path d="M0 685l1-8 1-14 1-22 1-23 1-10 1 2 1 22 1 47 1 30 1-2 1-3 1 15 1 20 1 14 1 4 1-24 1-40 1-34 1-23 1-2 1 10 1-2 1-6 1-2 1-9 1-20 1-16 1 1 1 33 1 18 1-36 1-45 1-21 1-14 1 12 1 50 1 43 1 5 1-25 1-11 1 8 1 8 1 1 1-3 1-6 1-1 1-4 1-27 1-25 1-4 1 17 1 13 1-10 1-9 1 9 1 17 1 18 1 16 1 16 1 13 1 6 1-1 1-14 1-32 1-46 1-24 1 12 1 18 1 5 1-5 1-3 1 20 1 42 1 29 1 16 1 1 1-10 1-3 1 4 1 3 1-5 1-9 1 6 1 23 1 11 1-7 1-20 1-39 1-47 1-27 1 9 1 23 1 10 1 1 1-3 1 5 1 18 1 24 1 28 1 21 1 1 1-19 1-20 1 0 1 18 1 12 1-1 1 0 1 8 1-3"/><path d="M0 636l1 27 1 5 1-31 1-18 1 24 1 16 1 0 1-3 1-25 1-35 1-32 1-11 1 16 1-13 1-35 1-19 1-22 1-29 1-15 1 15 1 34 1 26 1 10 1 5 1 2 1 4 1 7 1 4 1-20 1-31 1-5 1 16 1 8 1-26 1-49 1-25 1 19 1 32 1 12 1 10 1 36 1 50 1 42 1 13 1-32 1-35 1 27 1 56 1 50 1 42 1 16 1-19 1-31 1-5 1 20 1 1 1 6 1 16 1-15 1-37 1-48 1-37 1-14 1-6 1-9 1-19 1-16 1-3 1-9 1-7 1 24 1 39 1 22 1 9 1 3 1 8 1 17 1 24 1 29 1 10 1-14 1-28 1-20 1-3 1-7 1-21 1-25 1-20 1-13 1-8 1 6 1 4 1-14 1-22 1-21 1 1 1 26 1 41 1 43 1 20 1 11 1 4 1 7 1-5 1-10 1-6 1 6 1 24 1 24 1 4"/><path d="M0 594l1-17 1-2 1-28 1-47 1-16 1-5 1 11 1 57 1 57 1 25 1-12 1-19 1 9 1 18 1-4 1-19 1-23 1-12 1 32 1 48 1 29 1 3 1-22 1-15 1 2 1-16 1-32 1-22 1 4 1-1 1-48 1-52 1-60 1-57 1-35 1 10 1 18 1 8 1 20 1 30 1 41 1 45 1 12 1-4 1 32 1 47 1 27 1 24 1 23 1 9 1 7 1 24 1 59 1 89 1 59 1 2 1-19 1-28 1-22 1-35 1-64 1-58 1-60 1-72 1-49 1-26 1-2 1 17 1 55 1 72 1 30 1-5 1-2 1-7 1-26 1-15 1 12 1 21 1 11 1-4 1-4 1 24 1 46 1 27 1-21 1-46 1-38 1-26 1-19 1-7 1 3 1 1 1-12 1-13 1-1 1 14 1 15 1 14 1 22 1 20 1 21 1 25 1 16 1-3 1-14 1-10 1-1 1-16 1-27 1-22"/><path d="M0 596l1 16 1 7 1-28 1-31 1-4 1 5 1 1 1-4 1 15 1 22 1-10 1-16 1 20 1 26 1-15 1-53 1-34 1 7 1 19 1 22 1 20 1 24 1 33 1 19 1 10 1 17 1 2 1-10 1-17 1-39 1-46 1-52 1-66 1-56 1-19 1 22 1 43 1 32 1-2 1-9 1 9 1 30 1 39 1 24 1-2 1-16 1-8 1 12 1 13 1 5 1 12 1 37 1 28 1 31 1 32 1-5 1 2 1-7 1-14 1-17 1-30 1-24 1-19 1-14 1 13 1 19 1-1 1 5 1 35 1 40 1 1 1-34 1-13 1 17 1 53 1 37 1 4 1-7 1-16 1-8 1 5 1 6 1 2 1-16 1-32 1-15 1-1 1-12 1-29 1-35 1-30 1-17 1-2 1-10 1-21 1-1 1 14 1 34 1 40 1 21 1 4 1 6 1 15 1-3 1-16 1 0 1 4 1-1 1 3 1-12"/><path d="M0 678l1 29 1 25 1-18 1-43 1-12 1-12 1-23 1-25 1-24 1-5 1 10 1 17 1 29 1 28 1 6 1-17 1-22 1-9 1 12 1 21 1 19 1 9 1 6 1-4 1-9 1-7 1-5 1-12 1-19 1-21 1-22 1-19 1-6 1 5 1-11 1-50 1-65 1-25 1 14 1 31 1 19 1 20 1 44 1 36 1 21 1 27 1 24 1 16 1 15 1 17 1 18 1 9 1-25 1-28 1 22 1 60 1 16 1-53 1-46 1-21 1-20 1-17 1-15 1-23 1-27 1-20 1-20 1-16 1 13 1 28 1 17 1 25 1 37 1 25 1 11 1 11 1 12 1 17 1 18 1 20 1 24 1-6 1-30 1-4 1 18 1 11 1-26 1-41 1-27 1-21 1-35 1-31 1-17 1-2 1 4 1 19 1 17 1 9 1 7 1 11 1 17 1 17 1 9 1 10 1 18 1 5 1-13 1 2 1 13 1 6"/><path d="M0 572l1 7 1 5 1-2 1-7 1-1 1-6 1 12 1 39 1 23 1-1 1-7 1-18 1-33 1-39 1-12 1 15 1 11 1 11 1 27 1 28 1 17 1 18 1 12 1-16 1-23 1-4 1 8 1 2 1-14 1-26 1-27 1-21 1 13 1 34 1-3 1-39 1-33 1-23 1-9 1-8 1-22 1-6 1 25 1 9 1-16 1-12 1 19 1 26 1 44 1 59 1 52 1-5 1-54 1 6 1 76 1 89 1 21 1-26 1-29 1-25 1-26 1-29 1-25 1-28 1-18 1 10 1 18 1 2 1-16 1-8 1 20 1 39 1 29 1 0 1-2 1 20 1 15 1-10 1-13 1 9 1 5 1-16 1-11 1 6 1 7 1 4 1-3 1-14 1-23 1-32 1-33 1-19 1-8 1 2 1 18 1 28 1 21 1 13 1 11 1 2 1 7 1 8 1-13 1-26 1-18 1-8 1 0 1-6 1-20 1-12"/><path d="M0 631l1-2 1 6 1 4 1-5 1 7 1 19 1 33 1 26 1-17 1-43 1-19 1-5 1-16 1-21 1-16 1-19 1-14 1-10 1-5 1 20 1 50 1 45 1 24 1 15 1 11 1-7 1-34 1-36 1-33 1-36 1-9 1 10 1 5 1-19 1-37 1-34 1-26 1 6 1 42 1 42 1 21 1 10 1 9 1 11 1 10 1-2 1-12 1 6 1 26 1 24 1 28 1 19 1 10 1 41 1 69 1 68 1 49 1-16 1-77 1-59 1-44 1-46 1-29 1-16 1-6 1 5 1 8 1-11 1-9 1 27 1 37 1 24 1-2 1-20 1-10 1-2 1-3 1-7 1-9 1 10 1 32 1 32 1 10 1-11 1-36 1-44 1-33 1-31 1-34 1-21 1 13 1 29 1 15 1 9 1 13 1 15 1 18 1 3 1-11 1-29 1-15 1 18 1 35 1 23 1 2 1-3 1 7 1 13 1 6 1-8"/><path d="M0 645l1 4 1 8 1 1 1-7 1-16 1-6 1 26 1 31 1-3 1-33 1-34 1-20 1 2 1 19 1 6 1-23 1-17 1 0 1 8 1 2 1-20 1-30 1-16 1-7 1 4 1 17 1 13 1-3 1-13 1-15 1-25 1-18 1-12 1-29 1-5 1 38 1 38 1 19 1 7 1-1 1-1 1 10 1 26 1 16 1 0 1 6 1 18 1 18 1 11 1-6 1-17 1 8 1 30 1 33 1 41 1 56 1 35 1-26 1-72 1-51 1-24 1-31 1-37 1-20 1 5 1 11 1-8 1-9 1 10 1 26 1 46 1 27 1-6 1-5 1 2 1 6 1-1 1-14 1-3 1 23 1 22 1 4 1 13 1 30 1 28 1-7 1-42 1-33 1-26 1-35 1-42 1-26 1-17 1-11 1 0 1 20 1 28 1 21 1 13 1 5 1 0 1-2 1 2 1 8 1 15 1 16 1 2 1-17 1-22 1-4"/><path d="M0 565l1-5 1 24 1-2 1-22 1 13 1 16 1 7 1 28 1 22 1-4 1-12 1-17 1-12 1 0 1-3 1-32 1-44 1-24 1-1 1 3 1 14 1 31 1 27 1 7 1 17 1 35 1 22 1-16 1-31 1-15 1-9 1-12 1-9 1-15 1-28 1-26 1-1 1 18 1 12 1 6 1 10 1 3 1 11 1 26 1 7 1-16 1-2 1 15 1 13 1 30 1 60 1 17 1 12 1-29 1-3 1 23 1-6 1-36 1-39 1-33 1-7 1 12 1 11 1 6 1 7 1 7 1 5 1-1 1-5 1 8 1 2 1-15 1-16 1-39 1-36 1-6 1-7 1 9 1 45 1 32 1 1 1 10 1 19 1 12 1 5 1-5 1-8 1-5 1 4 1 3 1-5 1-16 1-19 1-15 1-10 1 3 1 26 1 29 1 11 1-2 1 4 1 8 1 17 1 23 1 20 1 7 1-13 1-8 1-7 1-17"/><path d="M0 616l1 15 1-1 1-18 1 3 1 34 1 17 1-10 1 1 1 9 1-27 1-38 1 11 1 37 1 6 1-14 1-16 1-18 1-27 1-23 1-2 1 16 1 25 1 27 1 17 1 22 1 21 1 14 1 1 1-17 1-44 1-81 1-103 1-79 1-45 1-13 1 5 1 31 1 52 1 53 1 37 1 27 1 17 1 18 1 21 1 33 1 34 1 7 1-3 1 20 1 38 1 21 1 1 1-3 1 14 1 29 1 4 1-38 1-54 1-41 1-19 1-13 1-16 1-25 1-30 1-18 1-2 1 6 1 3 1-6 1-10 1 23 1 56 1 50 1 27 1 11 1 3 1-9 1-25 1-24 1 8 1 22 1 4 1 9 1 20 1-1 1-11 1-5 1 3 1 1 1-19 1-23 1-11 1-7 1-8 1-4 1-1 1 4 1 10 1 10 1 4 1 4 1 2 1-9 1-15 1-11 1-3 1 9 1 22 1 17 1 11"/><path d="M0 686l1 5 1 10 1-20 1-54 1-36 1 10 1 29 1 11 1 22 1 30 1-6 1-29 1-10 1 6 1-8 1-33 1-44 1-44 1-32 1 1 1 19 1 14 1 11 1 4 1-4 1 4 1 3 1-3 1 4 1 2 1-25 1-57 1-46 1-19 1-10 1 4 1 27 1 14 1-19 1-15 1 14 1 33 1 28 1 13 1 21 1 19 1 10 1 7 1 4 1 7 1 6 1 8 1 12 1 39 1 51 1 30 1 29 1-3 1-30 1-21 1-19 1-32 1-31 1-34 1-36 1-36 1-33 1-12 1 4 1 4 1 10 1 23 1 38 1 40 1 11 1-9 1-9 1-10 1 10 1 30 1 20 1 7 1 18 1 21 1-11 1-39 1-32 1-17 1-12 1-5 1 0 1 7 1 14 1 3 1-15 1-9 1 5 1 16 1 29 1 7 1-19 1-4 1 18 1 8 1 7 1 11 1-11 1-10 1 2 1 19"/><path d="M0 627l1-19 1 1 1 2 1-3 1 8 1-13 1-15 1 20 1 40 1 27 1-15 1-21 1-20 1-13 1 8 1 7 1-9 1-16 1-10 1-6 1-24 1-23 1 3 1 14 1 13 1 4 1 11 1 27 1 16 1-25 1-41 1-40 1-33 1-9 1 18 1 6 1-12 1-4 1 5 1 32 1 34 1 5 1 22 1 65 1 51 1 12 1 9 1 4 1 11 1 40 1 31 1 2 1 8 1 17 1-9 1-30 1-16 1-17 1-38 1-39 1-20 1-6 1-1 1-15 1-28 1-41 1-42 1-16 1 16 1 38 1 41 1 29 1 27 1 26 1 13 1-7 1-23 1-17 1 12 1 15 1-6 1-19 1-32 1-18 1-4 1 27 1 15 1-13 1-14 1 0 1 9 1-11 1-22 1-4 1 16 1 5 1-16 1-11 1 7 1 11 1-1 1-11 1-5 1 4 1 2 1 4 1 21 1 21 1 8 1-1"/><path d="M0 555l1-7 1-9 1-17 1-11 1 12 1 14 1 4 1 20 1 40 1 11 1-33 1-40 1 3 1 37 1 29 1 14 1 22 1 32 1 15 1-2 1 2 1 1 1 1 1-5 1-26 1-50 1-18 1 15 1 8 1-28 1-34 1-11 1 39 1 27 1-18 1-28 1-11 1 2 1-8 1-2 1 12 1 20 1 37 1 19 1-17 1-22 1-5 1-10 1-25 1-10 1 2 1 1 1 5 1 24 1 56 1 61 1 27 1-16 1-29 1-12 1-5 1-19 1-25 1-22 1-13 1 2 1 26 1 31 1 26 1 11 1-12 1-20 1-7 1 13 1 24 1 19 1 3 1 4 1 34 1 32 1-26 1-48 1-27 1-11 1-11 1-13 1-14 1 1 1 21 1 14 1-1 1-12 1-22 1-24 1-21 1-7 1 12 1 19 1 23 1 18 1 5 1 0 1 13 1 22 1 7 1-10 1 4 1 17 1-2 1-6"/><path d="M0 677l1 22 1-10 1-35 1-22 1 2 1 6 1-2 1-5 1-8 1-6 1-2 1-16 1-5 1 14 1 13 1-8 1-17 1-3 1 9 1 4 1 3 1 14 1 18 1 8 1 10 1 12 1-1 1-28 1-35 1-21 1-34 1-67 1-68 1-56 1-46 1-5 1 39 1 38 1 33 1 60 1 57 1 27 1 19 1 11 1-18 1-26 1-11 1 20 1 30 1 21 1 36 1 54 1 43 1 33 1 42 1 57 1 44 1-1 1-35 1-43 1-64 1-62 1-33 1-16 1-1 1 12 1 8 1-22 1-28 1 0 1 5 1-17 1-27 1-21 1-8 1 12 1 41 1 16 1-25 1-26 1 28 1 52 1 35 1 20 1 1 1-22 1-39 1-40 1-30 1-22 1-25 1-19 1-6 1-1 1 1 1 18 1 30 1 37 1 39 1 14 1-8 1-24 1-33 1-19 1 6 1 4 1 8 1 23 1 25 1 2"/><path d="M0 670l1-12 1-6 1 6 1-6 1-21 1-34 1-12 1 19 1 15 1-8 1-12 1 3 1 11 1 2 1-3 1-3 1 7 1 14 1-2 1 1 1 22 1 41 1 28 1-21 1-30 1 2 1 22 1 15 1 6 1 4 1-17 1-73 1-105 1-74 1-36 1-29 1-19 1 22 1 33 1 13 1 7 1 27 1 47 1 33 1 8 1-2 1 13 1 32 1 34 1 29 1 32 1 8 1-20 1-24 1 19 1 18 1 0 1-4 1-11 1-30 1-23 1-10 1-9 1-20 1-31 1-43 1-32 1 16 1 49 1 46 1 34 1 27 1 39 1 49 1 14 1 6 1-17 1-38 1-23 1 2 1-11 1-26 1-7 1 1 1-1 1 5 1-6 1-19 1 1 1 19 1-6 1-22 1-10 1-8 1-15 1-7 1 7 1 8 1 8 1 6 1-4 1-9 1-2 1 16 1 14 1-14 1-20 1-1 1 6 1-1"/><path d="M0 585l1-3 1-7 1-17 1-20 1-15 1 0 1 22 1 35 1 22 1-13 1-16 1 10 1 21 1 22 1 17 1-17 1-48 1-49 1-12 1 30 1 37 1 5 1-6 1 20 1 18 1-3 1-6 1-24 1-31 1-16 1 1 1 7 1-20 1-48 1-43 1-10 1 26 1 49 1 29 1-6 1-15 1-17 1 1 1 25 1 30 1 14 1-3 1 1 1 13 1 31 1 40 1 22 1 20 1 63 1 85 1 19 1-21 1-4 1-42 1-64 1-37 1-17 1 5 1-6 1-9 1-1 1-9 1-24 1-19 1 6 1 29 1 16 1-13 1-4 1 5 1-11 1-22 1-12 1-7 1-1 1 23 1 44 1 40 1 17 1-22 1-46 1-38 1-19 1-6 1-7 1-9 1-7 1-8 1-3 1 1 1 0 1 2 1 4 1 2 1-7 1-6 1 9 1 22 1 31 1 33 1 24 1 7 1 5 1 13 1 11"/><path d="M0 587l1 19 1 5 1-27 1-15 1 28 1 44 1 23 1 7 1 0 1-13 1-14 1-10 1-12 1-13 1 3 1-12 1-45 1-39 1-8 1 22 1 40 1 51 1 41 1 11 1-14 1-43 1-28 1-7 1-10 1-18 1-16 1-21 1-16 1-17 1-37 1-12 1 26 1 26 1-1 1-12 1 17 1 28 1 40 1 19 1-25 1-17 1 7 1 38 1 22 1 23 1 37 1 49 1 41 1 25 1 12 1-5 1-25 1-32 1-27 1-26 1-32 1-36 1-33 1-23 1-11 1 8 1 26 1 33 1 10 1-13 1 5 1 12 1 9 1 23 1 20 1 17 1 13 1 6 1 15 1 33 1 26 1-5 1-35 1-30 1-11 1-11 1-31 1-43 1-30 1-17 1-22 1-15 1-7 1-14 1-17 1 3 1 17 1 13 1 10 1 9 1 13 1 26 1 29 1 19 1 11 1-9 1-25 1-14 1 8 1 16"/><path d="M0 625l1-25 1-26 1-25 1-4 1 20 1 13 1 28 1 59 1 62 1 19 1-9 1-12 1-5 1-23 1-21 1-20 1-25 1-20 1-2 1 7 1 0 1 12 1 15 1-17 1-24 1-25 1-25 1 11 1 39 1 9 1-23 1-21 1-14 1-34 1-66 1-42 1 9 1 7 1-3 1 29 1 34 1 42 1 63 1 73 1 43 1 1 1-22 1 7 1 43 1 50 1 38 1 7 1-51 1-11 1 43 1 29 1-21 1-47 1-36 1-21 1-20 1-31 1-30 1-22 1-11 1-1 1-5 1-14 1 6 1 24 1 34 1 33 1-3 1-27 1-5 1 14 1 4 1-6 1 1 1-8 1-24 1-22 1-14 1-2 1 14 1 13 1-7 1-1 1 23 1 13 1-14 1-25 1-24 1-23 1-7 1 17 1 25 1 19 1 13 1 15 1 15 1 11 1 1 1-9 1 15 1 38 1 14 1-5 1-3 1-19"/><path d="M0 586l1 19 1 1 1-24 1-27 1-13 1-20 1 0 1 46 1 38 1-2 1-23 1-20 1 0 1 5 1-11 1-10 1 12 1 5 1-8 1 10 1 32 1 34 1 17 1-9 1-12 1-14 1-32 1-52 1-45 1-16 1 10 1 7 1 4 1 7 1 12 1 26 1 19 1-10 1-3 1 23 1-5 1-33 1-18 1-4 1-16 1-16 1 26 1 57 1 42 1 26 1 42 1 50 1 25 1 14 1 19 1 17 1-4 1-54 1-90 1-49 1-12 1-2 1-17 1-23 1-2 1 25 1 23 1 21 1 16 1 6 1 3 1 14 1 4 1-10 1 0 1 1 1-14 1-18 1-13 1 3 1 20 1 18 1 12 1 16 1 19 1 24 1 24 1 0 1-30 1-46 1-27 1-10 1-18 1-23 1-13 1 3 1 11 1 4 1 0 1 9 1 9 1 16 1 25 1 11 1 7 1 14 1 21 1 23 1-6 1-38"/><path d="M0 625l1 29 1 10 1-13 1-18 1 22 1 38 1 2 1-29 1-41 1-24 1 3 1 0 1-5 1-4 1-8 1-11 1-13 1-11 1 12 1 39 1 37 1 16 1-4 1-4 1 12 1 13 1-14 1-51 1-57 1-34 1-14 1-24 1-39 1-33 1-26 1-11 1 23 1 36 1 46 1 62 1 55 1 28 1 9 1 3 1-18 1-39 1-30 1-16 1-18 1-2 1 36 1 54 1 74 1 96 1 56 1-13 1-24 1 1 1 2 1-24 1-29 1-12 1-11 1-29 1-27 1-17 1-16 1-1 1 32 1 52 1 28 1-22 1-45 1-37 1-12 1 1 1 12 1 24 1 26 1 12 1-8 1-18 1-4 1 4 1-19 1-10 1 17 1-5 1-34 1-44 1-17 1-14 1 10 1 0 1-12 1-4 1 11 1 17 1 18 1 23 1 22 1 25 1 25 1 7 1-1 1-4 1-12 1-25 1-22 1 7"/><path d="M0 562l1-10 1-2 1 15 1 17 1 15 1 15 1 12 1 14 1-7 1-37 1-36 1-16 1 11 1 18 1 1 1-17 1-22 1-8 1 19 1 36 1 28 1 11 1-21 1-42 1-13 1 0 1-18 1-11 1 1 1 27 1 38 1 31 1 18 1 11 1 7 1-12 1-29 1-38 1-49 1-32 1-9 1-7 1 18 1 10 1-9 1 15 1 44 1 45 1 30 1 21 1 19 1 22 1 11 1 8 1 16 1 22 1 24 1-22 1-57 1-23 1-2 1-9 1-6 1-6 1-12 1-5 1 16 1 17 1-13 1-3 1 20 1 15 1 10 1 4 1-12 1-4 1 18 1 23 1 8 1-19 1-24 1-4 1 11 1 10 1-2 1-12 1-20 1-18 1-21 1-29 1-25 1-18 1-8 1-1 1 2 1 16 1 23 1 19 1 10 1 8 1 16 1 23 1 10 1-10 1-23 1-15 1-7 1-6 1 4 1 18"/><path d="M0 659l1-4 1-9 1-19 1-18 1-9 1 1 1 18 1 29 1 12 1-17 1-24 1-14 1-11 1-7 1 4 1-9 1-16 1-2 1 15 1 17 1 15 1 22 1 9 1-28 1-31 1-9 1 4 1-4 1-1 1 3 1-6 1-9 1-6 1 1 1 4 1-5 1 10 1-6 1 2 1 10 1-24 1-58 1-6 1 35 1 15 1-12 1 26 1 39 1 10 1 0 1 5 1-5 1-8 1-7 1 25 1 52 1 31 1-9 1-14 1 2 1 0 1-15 1-15 1-10 1-19 1-25 1-21 1-19 1 5 1 46 1 67 1 42 1-16 1-32 1-20 1-13 1-7 1-6 1 17 1 32 1 23 1 21 1 22 1 2 1-38 1-56 1-44 1-21 1 3 1 0 1-13 1-21 1-22 1-12 1 5 1 13 1 20 1 28 1 17 1-3 1 1 1 18 1 24 1 28 1 18 1 2 1-2 1 6 1 22 1 32"/><path d="M0 658l1-1 1-14 1-23 1-41 1-28 1-1 1 28 1 51 1 33 1-8 1-13 1 4 1-2 1-13 1-12 1-21 1-25 1-38 1-45 1-4 1 37 1 40 1 23 1 12 1 17 1 27 1 38 1 32 1 18 1-20 1-47 1-89 1-77 1-63 1-52 1-32 1 0 1 13 1 31 1 66 1 64 1 37 1 24 1 43 1 42 1 29 1 15 1 7 1 8 1 5 1 1 1-2 1-1 1 2 1 36 1 53 1 5 1-42 1-49 1-30 1-31 1-32 1-16 1-6 1-15 1-11 1-1 1-22 1-35 1-11 1 38 1 74 1 54 1 10 1-8 1-16 1-27 1-1 1 39 1 25 1-20 1-30 1-34 1-34 1-10 1-15 1-28 1-32 1-15 1 17 1 35 1 2 1-19 1-11 1 6 1 26 1 32 1 16 1 2 1 1 1-2 1-10 1 4 1 19 1 10 1 18 1 18 1-6 1-20 1-17"/><path d="M0 620l1-31 1-24 1-28 1-3 1 16 1 10 1 20 1 21 1 7 1 22 1 30 1 3 1-8 1-6 1-19 1-19 1-24 1-22 1 14 1 24 1 13 1 9 1 3 1 5 1 17 1 7 1-8 1-15 1-7 1-6 1-16 1-6 1 6 1-14 1-28 1-14 1-8 1-2 1 15 1 41 1 58 1 43 1 23 1 14 1-10 1-16 1-19 1-27 1-5 1 40 1 47 1 33 1 4 1-11 1 12 1 24 1 2 1-43 1-24 1 6 1-21 1-42 1-28 1-25 1-31 1-12 1 27 1 24 1-18 1-23 1 11 1 39 1 29 1 8 1 14 1 24 1 2 1 6 1 25 1 22 1-25 1-34 1-19 1-7 1-4 1-11 1-14 1-17 1-3 1 7 1-7 1-23 1-14 1-2 1 1 1-2 1 1 1 13 1 18 1 17 1 3 1-7 1-1 1 10 1 7 1-12 1-20 1-3 1 11 1 3"/><path d="M0 542l1-15 1-28 1-41 1-16 1 13 1 62 1 54 1 23 1-8 1-21 1-17 1 13 1 50 1 57 1 23 1-12 1-12 1-1 1-5 1-4 1-4 1 6 1 4 1-16 1-11 1-2 1-1 1-5 1-20 1-36 1-46 1-49 1-48 1-23 1 11 1 5 1-28 1-20 1 16 1 33 1 25 1 26 1 37 1 32 1 7 1 6 1 21 1 2 1-19 1-1 1 30 1 56 1 50 1 29 1 26 1 22 1-21 1-83 1-36 1 16 1 22 1-16 1-26 1-21 1-25 1-45 1-38 1-4 1 19 1 34 1 44 1 33 1 14 1 2 1 7 1 1 1-8 1-4 1-11 1-25 1 2 1 26 1 18 1 1 1-16 1-20 1-17 1-18 1-9 1-15 1-19 1 0 1 3 1-3 1-5 1-1 1 16 1 34 1 32 1 22 1 16 1 1 1-4 1 13 1 22 1 9 1-9 1-25 1-31 1-19"/><path d="M0 579l1 18 1 10 1-13 1-12 1 12 1 22 1 41 1 53 1 24 1-1 1-10 1-32 1-48 1-36 1 1 1 12 1 2 1 1 1 11 1 30 1 21 1-27 1-33 1 3 1 26 1 17 1 8 1-10 1-7 1 5 1-15 1-44 1-50 1-60 1-76 1-58 1-25 1-3 1 25 1 46 1 40 1 27 1 30 1 32 1 19 1 19 1 48 1 41 1 3 1-3 1 5 1-7 1-6 1 16 1 19 1 4 1-7 1 5 1 5 1-12 1-4 1 11 1 0 1-21 1-26 1-13 1 25 1 18 1-23 1-19 1 19 1 34 1 20 1 27 1 27 1-12 1-25 1-10 1-28 1-38 1-15 1-2 1-2 1 13 1 28 1 27 1 1 1-26 1-15 1 6 1-21 1-42 1-15 1-2 1-15 1-14 1 8 1 27 1 15 1 5 1 21 1 35 1 23 1-4 1-25 1-23 1-17 1 0 1 11 1-6"/><path d="M0 647l1 3 1-12 1-39 1-38 1-26 1-24 1 0 1 23 1 19 1 6 1 6 1 4 1-10 1-7 1 5 1-3 1-8 1 8 1 19 1 32 1 37 1 13 1-11 1-7 1 16 1 16 1-8 1-28 1-31 1-30 1-30 1-33 1-4 1 14 1-10 1-7 1 8 1 19 1 17 1 3 1-9 1-4 1 8 1 9 1 6 1 14 1 19 1 19 1 5 1 12 1 33 1 10 1-27 1-24 1 9 1 29 1 33 1 14 1-30 1-32 1-4 1 1 1 0 1-4 1-10 1-29 1-34 1-17 1-11 1-7 1 8 1 15 1-2 1 8 1 49 1 48 1 17 1 7 1 27 1 26 1-17 1-50 1-39 1-18 1-17 1-26 1-15 1 17 1 34 1 2 1-18 1-29 1-12 1-3 1-4 1 8 1 7 1-1 1 0 1 2 1 5 1 21 1 36 1 43 1 31 1 10 1-8 1-16 1-16 1-15"/><path d="M0 584l1 4 1-12 1-35 1-24 1 14 1 29 1 34 1 30 1 9 1 2 1-1 1-4 1-1 1 2 1 11 1 21 1 21 1 9 1 13 1 16 1-5 1-18 1 9 1 2 1-13 1-7 1 12 1 23 1-9 1-31 1-22 1-23 1-19 1-35 1-52 1-42 1-7 1 30 1 37 1 35 1 41 1 24 1 12 1 1 1-17 1-12 1 4 1-10 1-26 1-13 1 12 1 32 1 45 1 42 1 15 1-22 1-34 1-8 1 11 1-10 1-21 1-21 1-31 1-49 1-29 1 10 1 17 1 9 1 5 1-7 1-11 1 3 1 27 1 56 1 70 1 28 1-28 1-18 1 4 1 17 1 37 1 22 1-17 1-29 1-10 1-14 1-39 1-33 1-15 1-23 1-30 1-14 1 3 1 6 1 0 1 10 1 25 1 30 1 29 1 20 1 9 1 1 1 6 1 15 1 4 1-3 1-5 1-16 1-21 1-24"/><path d="M0 591l1 18 1 15 1-9 1-16 1 1 1 9 1 29 1 47 1 35 1 8 1-5 1-7 1-17 1-41 1-29 1-16 1-33 1-21 1 7 1 16 1 17 1 27 1 15 1 9 1 37 1 11 1-15 1-26 1-23 1-38 1-71 1-93 1-50 1-8 1-21 1-26 1-3 1 15 1 23 1 52 1 58 1 31 1 9 1 7 1 36 1 38 1 9 1 8 1 32 1 5 1-35 1-6 1 30 1 34 1 54 1 48 1-17 1-47 1-50 1-54 1-30 1-11 1 2 1-7 1-34 1-23 1 21 1 6 1-43 1-33 1 21 1 45 1 28 1 5 1-6 1 11 1 25 1 30 1 18 1 9 1 21 1 25 1 37 1 30 1-11 1-35 1-21 1-12 1-29 1-49 1-31 1 2 1 21 1 13 1-4 1-9 1 8 1 18 1 19 1 19 1 20 1 14 1 6 1 5 1-7 1-13 1 5 1 15 1 2 1-29"/><path d="M0 511l1 45 1 31 1 19 1 15 1 35 1 49 1 25 1-16 1-28 1-8 1 10 1-2 1-6 1-1 1-9 1-27 1-26 1-14 1-5 1-14 1-7 1 27 1 42 1 4 1-8 1-10 1-30 1-23 1-27 1-24 1-18 1-8 1 17 1 51 1 60 1 28 1-5 1 10 1 18 1-5 1 3 1 18 1-4 1-24 1 4 1 7 1-16 1-40 1-12 1 48 1 48 1 1 1-1 1 15 1-7 1-30 1-12 1 0 1-10 1-17 1-17 1-6 1 6 1-6 1-25 1-19 1 17 1 15 1-20 1-15 1 5 1 18 1 23 1-4 1-20 1 15 1 17 1-11 1 4 1 27 1 6 1-6 1 7 1 17 1 16 1-4 1-22 1-17 1 3 1 11 1-2 1-29 1-39 1-16 1-4 1-1 1 9 1 27 1 38 1 26 1 10 1 6 1-3 1-19 1-24 1-10 1 17 1 13 1-12 1 1"/><path d="M0 632l1 2 1-30 1-46 1-13 1 28 1 22 1-2 1 2 1 8 1 12 1 29 1 13 1-10 1-17 1-23 1-27 1-24 1-22 1-11 1 12 1 27 1 15 1 11 1 24 1 24 1 8 1 2 1-7 1-24 1-37 1-29 1-23 1-44 1-47 1 1 1 44 1 36 1 23 1 36 1 42 1 26 1 7 1 4 1 20 1 24 1 11 1-15 1-24 1-13 1-1 1 10 1 17 1 28 1 36 1 35 1 46 1 53 1 27 1-33 1-70 1-72 1-62 1-51 1-43 1-25 1-12 1-11 1 4 1 10 1 7 1 3 1-11 1 11 1 13 1 32 1 31 1 24 1 12 1-8 1-17 1-2 1 10 1 0 1-10 1-2 1-7 1-28 1-32 1-16 1 5 1 12 1-12 1-25 1-6 1 16 1 23 1 23 1 18 1 15 1 13 1 12 1 9 1 13 1 14 1 13 1 22 1 11 1-22 1-31 1-12"/><path d="M0 689l1-5 1-8 1-51 1-60 1-17 1 7 1 12 1 37 1 48 1 12 1-12 1-16 1-23 1-23 1-16 1-6 1 11 1 18 1 16 1 5 1-7 1-8 1-2 1-18 1-23 1-10 1-12 1-15 1 2 1 8 1 16 1 31 1 33 1-3 1-51 1-53 1-26 1 5 1 37 1 55 1 33 1-3 1-11 1-13 1-11 1 0 1 5 1 28 1 43 1 13 1-4 1 30 1 62 1 59 1 16 1-31 1-44 1-29 1-24 1-23 1-8 1 0 1-13 1-34 1-34 1-2 1 20 1 4 1-17 1-22 1-9 1 11 1 30 1 42 1 31 1 9 1 7 1 23 1 27 1 0 1-24 1-13 1 2 1 6 1-14 1-42 1-42 1-11 1-2 1-22 1-20 1 5 1 14 1 11 1 15 1 18 1 10 1-4 1-5 1 1 1 5 1 4 1 12 1 10 1-3 1 3 1 23 1 15 1 15 1 10"/><path d="M0 552l1 17 1 7 1-9 1-8 1 10 1 0 1-7 1 9 1 4 1 0 1 18 1 28 1 8 1 8 1-5 1-5 1 15 1 20 1 13 1 18 1 8 1-19 1-19 1-9 1-1 1 4 1-8 1-27 1-28 1-16 1 4 1-11 1-37 1-39 1-21 1 4 1 15 1 13 1 7 1 11 1-4 1-12 1 7 1 12 1 13 1 22 1 26 1 30 1 38 1 51 1 22 1-27 1-34 1 15 1 54 1 46 1 34 1-2 1-50 1-51 1-36 1-21 1-13 1-26 1-39 1-39 1-37 1-19 1 37 1 50 1 8 1-12 1 7 1 27 1 31 1 35 1 34 1 26 1 21 1-6 1-13 1 9 1 9 1-29 1-30 1-28 1-56 1-50 1 1 1 24 1-2 1-27 1-20 1 4 1 8 1 18 1 21 1 18 1 12 1-14 1-9 1-15 1-14 1 7 1 13 1-1 1 8 1 22 1 20 1 1"/><path d="M0 675l1 2 1 7 1 1 1 6 1 24 1 2 1-24 1-8 1 7 1 9 1-2 1-34 1-41 1-18 1-9 1 4 1 2 1 2 1 4 1 1 1 12 1 28 1 24 1 3 1-8 1-8 1 2 1-4 1-14 1-17 1-20 1-21 1-33 1-53 1-22 1 23 1 21 1-4 1-9 1 12 1 20 1 10 1 8 1-2 1-5 1-8 1-19 1-22 1 9 1 48 1 47 1 39 1 57 1 50 1 26 1-3 1-35 1-41 1-29 1-20 1-17 1-15 1-19 1-27 1-27 1-6 1 22 1 31 1 19 1 14 1 15 1-13 1-1 1-1 1-17 1 16 1 25 1-6 1-17 1-14 1 2 1 22 1 16 1 10 1 1 1-17 1-14 1-7 1-21 1-28 1-9 1-4 1-18 1-19 1-12 1 2 1 18 1 29 1 21 1 4 1-5 1 9 1 26 1 21 1 25 1 26 1 1 1-21 1-14 1-4"/><path d="M0 575l1 14 1-9 1-26 1-22 1-8 1-1 1 16 1 24 1 3 1-16 1-2 1 20 1 20 1 11 1 16 1 29 1 12 1-13 1 13 1 39 1 21 1 6 1-12 1-36 1-37 1-29 1-21 1-21 1-31 1-31 1-26 1-26 1-35 1-43 1-31 1-10 1 3 1 54 1 97 1 67 1 26 1 7 1 23 1 34 1 26 1 13 1 16 1 21 1 8 1 4 1 16 1 9 1-18 1-16 1 26 1 59 1 47 1-11 1-51 1-52 1-50 1-40 1-35 1-46 1-45 1-19 1 8 1 22 1 41 1 47 1 15 1-23 1 3 1 47 1 41 1 24 1 10 1-13 1-11 1 8 1 1 1-12 1-4 1 5 1-13 1-12 1-14 1-43 1-33 1-6 1-9 1-6 1-2 1 6 1 9 1 1 1 2 1 22 1 18 1 8 1 18 1 32 1 28 1 6 1-4 1-14 1-31 1-18 1 6 1-2"/><path d="M0 655l1 26 1 1 1-44 1-37 1 6 1 26 1 18 1 14 1 5 1-21 1-31 1-18 1 3 1-3 1-23 1-35 1-24 1-1 1 18 1 27 1 17 1-9 1-22 1-27 1-13 1 1 1 13 1 20 1-5 1-14 1-9 1-18 1-42 1-39 1-17 1 11 1 20 1 16 1 33 1 30 1 5 1 16 1 49 1 51 1 26 1 14 1-4 1-40 1-36 1-6 1 10 1 35 1 39 1 34 1 68 1 96 1 59 1-31 1-83 1-78 1-55 1-30 1-24 1-28 1-21 1-1 1 24 1 38 1 43 1 25 1 18 1 9 1-10 1-25 1-20 1-15 1-3 1 26 1 37 1 20 1-4 1 1 1 6 1-10 1-20 1-24 1-38 1-29 1 3 1-1 1-17 1-16 1-20 1-32 1-23 1 5 1 32 1 30 1 20 1 19 1 20 1 17 1 15 1 10 1 4 1-10 1-18 1 4 1 22 1 5"/><path d="M0 591l1-16 1-15 1-9 1-4 1-12 1-19 1 15 1 54 1 40 1-16 1-39 1-10 1 33 1 50 1 33 1 8 1-7 1-12 1-5 1 0 1 2 1-8 1-19 1-20 1-11 1-3 1 8 1 15 1-2 1-35 1-54 1-49 1-18 1-2 1-10 1-7 1 1 1 11 1 17 1 23 1 31 1 42 1 48 1 35 1 25 1 9 1-6 1-8 1 5 1 4 1-10 1-12 1 4 1 12 1-1 1-2 1 11 1 14 1 13 1-9 1-19 1-24 1-22 1-13 1-8 1-11 1-29 1-34 1-12 1 11 1 5 1-4 1 6 1 17 1 29 1 27 1-11 1-26 1-1 1 26 1 21 1-1 1 8 1 27 1 10 1-13 1-11 1-10 1-24 1-23 1-41 1-26 1-12 1-13 1-17 1 7 1 22 1 32 1 17 1 8 1 4 1 3 1 15 1 24 1 7 1-18 1-25 1-12 1 13 1 23"/><path d="M0 635l1-13 1-28 1-12 1 9 1 22 1 15 1 8 1 23 1 20 1-4 1-24 1-26 1 8 1 28 1 9 1-12 1-8 1-11 1-22 1-16 1 11 1 27 1 26 1 6 1-1 1 12 1 21 1 11 1-10 1-30 1-29 1-36 1-44 1-31 1-21 1-16 1 17 1 33 1 15 1 13 1 20 1 16 1 8 1 7 1 1 1-23 1-33 1-14 1 4 1 7 1 15 1 34 1 51 1 33 1 11 1-46 1-55 1-14 1 7 1 5 1-6 1-9 1-15 1-14 1 6 1 1 1-40 1-59 1-16 1 33 1 50 1 38 1 31 1 29 1 20 1 12 1 10 1 25 1 29 1 14 1 7 1 5 1-2 1-22 1-34 1-28 1-19 1-8 1 6 1-8 1-22 1-24 1-23 1-13 1 2 1 3 1 1 1 14 1 15 1 6 1 6 1-2 1-2 1 3 1-9 1-21 1-3 1 20 1 16 1 11"/><path d="M0 547l1 16 1 5 1-23 1-32 1 5 1 34 1 34 1 28 1 30 1 18 1-19 1-35 1-2 1 20 1-8 1-10 1-18 1-29 1-18 1 14 1 36 1 32 1 28 1 10 1-10 1-22 1-18 1 7 1 5 1-8 1 9 1-8 1-42 1-66 1-73 1-26 1 26 1 25 1 18 1 25 1 11 1-4 1-7 1-13 1-8 1 10 1 23 1 20 1 1 1-6 1 16 1 39 1 52 1 67 1 60 1 35 1 27 1-12 1-61 1-54 1-36 1-36 1-41 1-36 1-13 1 8 1 1 1-10 1 2 1-1 1-6 1 6 1 18 1 31 1 44 1 17 1-21 1-31 1-1 1 30 1 23 1 18 1 27 1 19 1-8 1-14 1 0 1-7 1-27 1-30 1-28 1-26 1-18 1-7 1 1 1 12 1 16 1 12 1 8 1 5 1 10 1 12 1 10 1 3 1-1 1 13 1 26 1 24 1 34 1 14"/><path d="M0 671l1-15 1-8 1-15 1-18 1 4 1 16 1 31 1 34 1-3 1-26 1-7 1 14 1 5 1-18 1-27 1-39 1-30 1-1 1 25 1 46 1 39 1 9 1-2 1-1 1-2 1-4 1 6 1 3 1-10 1-23 1-30 1-38 1-48 1-44 1-23 1 2 1 10 1 11 1 11 1 27 1 29 1-2 1-8 1 15 1 21 1 9 1 3 1 8 1 12 1 22 1 41 1 32 1-3 1-29 1-36 1-7 1 21 1-4 1-29 1-20 1-10 1-11 1-15 1-21 1-40 1-42 1-4 1 35 1 28 1 30 1 42 1 28 1 24 1 25 1 14 1 9 1 19 1 11 1-9 1-17 1-21 1-2 1 23 1 21 1-3 1-23 1-42 1-50 1-28 1 0 1-18 1-35 1-21 1 2 1 14 1 24 1 26 1 9 1 2 1 19 1 34 1 33 1 17 1 14 1-1 1-5 1-5 1-8 1-10 1-24"/><path d="M0 644l1-18 1-28 1-33 1-26 1-7 1-4 1-6 1 0 1 17 1 31 1 9 1-10 1 1 1 15 1 14 1 1 1-6 1 5 1 19 1 12 1 4 1 6 1 5 1-6 1-13 1-21 1-9 1-3 1-9 1-9 1-11 1-3 1 4 1 18 1 21 1-8 1-35 1-32 1-21 1-4 1 9 1 21 1 29 1 33 1 25 1 14 1 4 1-23 1-32 1-1 1 9 1-2 1-7 1-20 1-29 1-20 1-3 1 2 1 29 1 33 1 22 1 0 1-9 1-3 1 3 1 17 1 36 1 29 1-15 1-36 1-24 1 8 1 26 1 6 1-11 1-3 1 2 1 5 1 1 1-5 1 22 1 32 1-11 1-38 1-24 1 11 1 7 1-15 1-6 1 3 1 0 1 0 1-8 1-10 1 0 1 14 1 20 1 26 1 31 1 13 1-5 1-7 1-7 1-10 1-6 1-11 1-21 1-15 1-7 1-14"/><path d="M0 653l1-32 1-21 1-12 1-1 1-10 1-11 1 20 1 26 1-8 1-26 1-24 1-11 1 31 1 41 1 21 1 5 1-14 1-22 1-18 1-20 1-19 1-3 1 13 1 3 1-5 1 19 1 31 1-11 1-44 1-25 1-3 1-4 1 13 1 37 1 9 1-18 1 10 1 27 1-5 1-11 1 15 1 7 1 1 1 13 1-9 1-22 1-4 1-1 1-1 1 10 1-2 1 3 1 16 1 16 1 42 1 44 1 6 1-26 1-35 1-38 1-23 1 4 1 10 1-5 1-1 1 8 1 9 1 11 1 1 1-9 1 8 1 18 1-17 1-45 1-29 1-2 1 10 1 21 1 30 1 34 1 41 1 51 1 6 1-3 1-53 1-52 1-17 1 2 1 5 1 2 1 0 1-11 1-4 1 12 1 10 1 13 1 11 1 2 1-17 1-4 1 9 1 13 1 15 1 10 1 23 1 13 1-16 1-17 1-3 1 13"/><path d="M0 625l1-4 1-29 1-36 1-16 1 26 1 43 1 29 1 34 1 41 1 9 1-17 1-16 1 0 1 18 1 17 1-17 1-46 1-38 1-9 1 13 1 22 1 12 1-8 1-11 1 0 1-15 1-25 1-13 1 22 1 29 1 9 1-15 1-25 1-27 1-52 1-12 1 41 1 66 1 26 1 15 1-20 1 13 1 36 1 16 1 9 1 2 1-31 1-57 1-48 1-24 1-7 1-3 1-10 1-15 1-5 1 25 1 44 1 49 1 37 1 18 1 3 1-16 1-32 1-28 1-2 1 19 1 15 1-14 1-36 1-6 1 31 1 24 1 0 1-9 1 1 1 6 1 20 1 27 1-5 1-19 1-16 1-23 1-16 1 0 1-19 1-38 1-19 1 0 1 10 1 14 1 12 1 4 1 4 1 10 1 7 1 0 1 2 1 6 1 5 1 1 1 1 1 3 1-1 1-8 1 5 1 17 1 6 1-10 1-4 1-4"/><path d="M0 526l1 29 1 3 1-10 1-1 1 16 1 40 1 57 1 48 1 27 1 8 1-33 1-50 1-12 1 8 1 1 1-16 1-23 1-8 1 9 1-1 1-9 1 3 1-11 1-21 1 12 1 16 1-13 1-23 1-2 1 13 1 5 1-31 1-50 1-45 1-21 1 42 1 61 1 11 1 2 1-9 1 9 1 35 1 54 1 26 1-3 1 17 1 10 1-6 1-23 1-17 1-26 1-22 1 6 1 25 1 37 1 37 1 32 1 23 1-1 1-8 1-31 1-51 1-46 1-37 1-31 1-46 1-56 1-25 1 11 1 24 1 48 1 67 1 63 1 41 1 35 1 33 1 3 1-12 1-18 1-37 1-15 1 14 1 3 1-10 1-16 1-31 1-40 1-25 1 3 1 4 1-6 1-14 1-12 1-2 1 5 1 16 1 29 1 26 1 20 1 20 1 18 1 1 1-21 1-20 1-1 1 19 1 30 1 40 1 31 1-13"/><path d="M0 548l1 43 1 34 1 3 1-7 1 8 1-1 1 15 1 31 1 19 1 5 1-10 1-23 1-28 1-21 1-8 1-8 1-13 1 6 1 22 1 29 1 29 1 16 1 0 1-12 1-17 1-9 1 6 1-1 1-16 1-14 1-6 1-3 1-15 1-32 1-15 1 19 1 13 1-6 1-13 1-15 1-18 1-8 1 0 1-2 1 11 1 27 1 10 1-9 1 27 1 71 1 45 1 19 1 22 1 24 1 38 1 35 1-9 1-45 1-54 1-52 1-33 1-22 1-15 1-5 1 8 1 11 1-1 1-16 1-44 1-23 1-15 1 19 1 16 1 16 1 32 1 46 1 23 1-14 1-28 1-18 1 17 1 43 1 12 1-21 1-18 1-3 1-1 1-23 1-35 1-18 1-12 1-11 1-15 1-23 1-12 1 13 1 15 1 9 1 16 1 33 1 36 1 30 1 22 1 10 1 13 1 2 1 9 1 7 1-2 1 0"/><path d="M0 583l1 12 1-3 1-6 1 9 1 32 1 21 1 2 1-6 1-14 1-24 1-16 1 12 1 16 1 14 1 10 1 0 1-10 1-1 1 19 1 17 1-11 1-34 1-30 1-4 1 17 1-1 1-11 1-13 1-15 1-9 1-3 1-19 1-33 1-21 1-18 1 1 1 28 1 6 1-3 1 42 1 43 1 8 1 26 1 58 1 34 1-11 1-22 1-16 1-33 1-44 1-7 1 34 1 24 1 15 1 23 1 15 1-3 1-4 1 14 1 16 1-6 1-35 1-39 1-36 1-42 1-25 1 9 1 26 1 27 1 18 1 10 1 3 1 20 1 56 1 55 1 23 1-13 1-30 1-31 1-8 1 18 1 19 1-8 1-13 1-5 1-12 1-20 1-18 1-13 1-6 1-20 1-54 1-34 1 0 1 1 1 1 1 11 1 15 1 11 1 13 1 29 1 31 1 24 1 20 1 23 1 11 1-15 1-24 1-17 1-14"/><path d="M0 613l1 33 1 8 1-29 1-29 1-13 1-27 1-22 1 11 1 8 1-22 1-3 1 45 1 49 1 11 1-17 1-24 1-9 1 15 1 24 1 22 1 32 1 34 1 8 1-22 1-29 1-46 1-31 1 11 1 21 1-1 1-25 1-34 1-6 1 20 1 1 1-30 1-38 1-4 1 28 1 31 1 35 1 32 1 12 1 2 1-6 1-28 1-35 1-33 1-26 1-5 1-1 1 3 1 17 1 33 1 20 1-1 1-7 1 16 1 29 1 2 1-19 1-26 1-14 1 1 1-7 1-14 1 3 1 13 1-5 1-30 1-11 1 15 1 0 1-7 1 8 1 14 1 9 1 2 1 11 1 20 1 28 1 23 1 14 1 18 1 23 1-11 1-40 1-22 1 4 1 10 1-4 1-24 1-29 1-21 1-7 1 8 1 26 1 27 1 8 1-3 1 7 1 24 1 35 1 21 1 3 1 3 1 13 1 9 1-3 1-17"/><path d="M0 637l1-21 1-36 1-32 1-8 1 19 1 10 1 0 1 1 1-13 1-29 1-18 1 9 1 21 1 18 1 13 1-10 1-32 1-22 1 8 1 30 1 37 1 30 1 17 1-8 1-10 1 17 1 29 1-8 1-49 1-46 1-33 1-40 1-19 1-31 1-52 1-36 1 16 1 44 1 48 1 55 1 56 1 46 1 22 1-3 1-19 1-3 1 33 1 43 1 19 1 8 1 32 1 41 1 23 1 9 1 14 1 20 1 5 1-25 1-49 1-55 1-39 1-27 1-18 1-18 1-24 1-9 1 15 1 28 1 29 1 16 1 9 1 14 1 14 1 6 1-6 1-13 1-24 1-47 1-24 1 9 1 21 1 9 1-13 1-4 1 16 1 3 1-31 1-37 1-11 1 8 1-2 1-18 1-19 1-6 1 2 1 11 1 23 1 34 1 31 1 10 1-4 1-7 1 3 1 8 1-2 1-5 1 5 1 11 1-3 1-16"/><path d="M0 606l1 6 1 30 1 30 1 18 1 14 1 1 1 5 1 7 1-5 1-13 1-20 1-5 1 17 1-3 1-40 1-54 1-41 1-20 1 2 1 9 1-16 1-23 1 25 1 41 1 19 1 18 1 22 1-10 1-36 1-30 1 0 1 23 1 17 1-7 1-24 1-5 1 17 1 11 1 7 1 10 1-10 1-28 1 1 1 30 1 28 1-23 1-36 1 4 1 17 1 4 1 9 1 9 1 0 1 10 1 33 1 40 1 22 1-14 1-22 1-2 1 2 1-14 1-23 1-25 1-32 1-37 1-36 1-2 1 54 1 44 1 37 1 39 1 0 1-22 1-16 1 9 1 6 1-10 1-9 1 1 1 20 1 21 1-3 1 7 1 20 1 4 1-9 1-10 1-14 1-10 1-6 1-20 1-29 1-21 1-6 1 13 1 14 1 13 1 22 1 14 1 1 1 3 1 16 1 9 1-15 1-7 1 18 1 4 1-9 1 13"/><path d="M0 627l1-16 1 3 1 13 1-5 1-9 1-19 1 10 1 46 1 46 1 12 1-24 1-28 1-11 1-3 1-1 1-17 1-27 1-22 1-24 1-6 1 23 1 27 1 18 1 4 1-1 1 2 1 8 1 19 1 11 1-24 1-40 1-30 1-19 1-21 1-31 1-34 1-25 1 2 1 37 1 45 1 19 1 12 1 22 1 23 1 17 1 27 1 22 1 3 1 1 1 3 1 3 1 13 1 29 1 51 1 47 1 12 1-1 1-16 1-24 1-33 1-37 1-29 1-29 1-28 1-7 1-30 1-60 1-38 1-2 1 31 1 45 1 37 1 32 1 20 1 14 1 26 1 11 1-7 1-43 1-16 1 38 1 58 1 36 1-1 1-35 1-43 1-19 1 4 1-11 1-13 1-26 1-24 1-22 1-15 1-6 1 19 1 36 1 13 1-9 1 2 1 13 1-3 1-22 1-20 1-2 1 14 1-5 1-21 1 6 1 36"/><path d="M0 495l1 7 1 5 1 1 1 2 1 9 1 8 1 26 1 51 1 41 1 20 1 18 1-5 1-21 1-7 1-3 1-19 1-23 1-11 1 6 1 23 1 17 1 1 1-6 1-16 1-29 1-16 1-15 1 16 1 3 1-26 1-29 1-22 1-13 1-4 1 4 1 4 1-8 1-4 1 35 1 37 1-5 1-8 1 21 1 26 1-4 1-10 1 11 1 20 1 15 1 3 1 0 1 9 1-5 1-9 1 16 1 48 1 52 1 19 1 3 1-17 1-33 1-30 1-14 1-16 1-25 1-8 1 27 1 19 1 0 1 5 1 6 1-10 1-8 1 11 1 5 1-21 1-47 1-46 1-2 1 50 1 46 1 20 1 12 1 17 1-6 1-29 1-42 1-36 1-30 1-11 1 5 1 2 1-12 1-13 1 8 1 29 1 25 1 15 1 19 1 18 1 15 1 14 1 1 1-19 1-14 1 0 1 8 1 3 1-11 1-15"/><path d="M0 588l1 38 1 7 1-32 1-29 1-9 1-14 1 3 1 35 1 31 1 4 1-3 1 19 1 31 1 17 1-2 1-31 1-46 1-18 1 15 1 17 1 8 1 8 1 5 1-13 1-7 1 21 1 36 1-3 1-45 1-42 1-32 1-51 1-68 1-72 1-63 1-19 1 35 1 44 1 6 1-5 1 15 1 28 1 39 1 22 1-8 1-2 1 32 1 36 1 27 1 20 1 17 1 19 1 34 1 40 1 17 1-4 1-12 1-17 1-6 1 6 1 3 1-3 1 1 1-7 1-15 1-4 1-6 1-31 1-29 1-3 1 15 1 20 1 30 1 42 1 31 1 15 1 5 1 5 1-11 1-4 1 5 1 6 1 2 1-13 1-17 1-9 1-31 1-52 1-30 1-3 1 0 1-3 1-4 1-1 1 7 1 11 1 11 1 12 1 13 1 10 1 6 1 1 1 3 1 5 1 18 1 31 1 24 1 4 1 2 1-2"/><path d="M0 700l1-3 1-27 1-26 1-6 1 1 1-17 1-9 1 18 1 25 1-2 1-29 1-24 1-16 1-16 1-9 1-4 1 10 1 22 1 7 1 27 1 5 1 14 1 26 1 8 1-4 1-4 1 5 1 2 1-16 1-31 1-41 1-41 1-30 1-33 1-31 1-16 1 3 1 12 1 10 1 17 1 24 1 22 1 2 1-19 1-23 1-9 1-2 1-2 1 5 1 18 1 24 1 51 1 58 1 53 1 29 1 11 1-4 1-23 1-17 1-8 1-9 1-20 1-32 1-43 1-34 1-6 1 6 1 6 1 11 1 21 1 14 1 4 1-10 1-5 1 14 1 14 1-5 1-18 1-1 1 21 1 50 1 41 1 24 1 14 1-9 1-29 1-38 1-38 1-22 1-11 1-8 1-7 1-8 1-1 1 2 1 6 1 7 1 4 1 2 1 1 1-7 1-2 1 13 1 21 1 42 1 34 1 12 1 1 1-11 1-13"/><path d="M0 525l1 36 1 17 1-13 1-4 1 34 1 31 1-1 1-12 1 6 1 25 1 32 1 24 1 17 1 0 1-21 1-45 1-46 1-19 1-7 1-8 1-9 1 6 1 28 1 13 1-14 1-15 1-2 1 2 1 13 1-3 1-41 1-62 1-36 1-5 1 4 1-3 1-23 1-26 1 11 1 52 1 55 1 25 1-12 1-30 1-23 1 11 1 12 1-2 1-7 1-3 1 10 1 48 1 63 1 68 1 61 1 47 1 9 1-24 1-44 1-37 1-20 1-12 1-9 1-15 1-21 1-9 1 12 1 4 1-23 1-2 1 33 1 16 1-9 1 1 1 15 1 29 1 15 1-15 1-18 1-1 1 8 1-6 1-9 1 6 1 6 1-6 1-29 1-42 1-27 1-8 1 0 1 9 1 16 1 4 1 1 1-13 1 4 1 23 1 40 1 38 1 20 1 6 1 7 1 3 1-4 1-5 1-8 1-16 1-17 1-19"/><path d="M0 552l1-9 1 29 1-14 1-18 1 10 1-4 1-14 1 7 1 28 1 16 1 17 1 21 1-11 1-2 1 17 1 0 1-18 1-24 1-12 1 16 1 25 1-5 1-18 1 17 1 42 1 26 1-2 1-13 1-16 1-29 1-24 1-37 1-82 1-73 1-25 1 2 1 23 1 50 1 41 1 16 1 13 1 0 1-6 1 19 1 24 1-10 1-18 1 39 1 69 1 39 1 27 1 9 1-14 1 16 1 36 1-4 1-30 1-22 1-13 1-20 1-27 1-2 1 29 1 22 1-13 1-28 1-6 1 11 1 19 1 23 1 4 1-11 1-19 1-17 1-2 1-10 1-21 1 6 1 33 1 32 1 28 1 26 1 0 1-45 1-42 1-33 1-26 1-36 1-9 1 11 1 0 1-10 1-4 1 4 1 3 1 17 1 23 1 20 1 9 1 10 1 32 1 42 1 18 1-9 1-6 1 29 1 30 1-3 1-40 1-44"/><path d="M0 574l1 14 1 8 1 8 1 3 1 19 1 30 1 2 1-8 1 21 1 15 1-26 1-50 1-19 1 24 1 22 1-21 1-53 1-60 1-30 1 7 1 8 1 4 1 24 1 41 1 31 1 22 1 7 1 1 1 12 1-9 1-24 1 2 1 14 1-15 1-32 1-38 1-37 1-11 1-5 1-1 1 21 1 23 1 6 1 6 1 14 1 17 1 28 1 35 1 25 1 1 1 7 1 25 1 5 1 14 1 26 1 0 1-18 1-29 1-48 1-27 1-5 1-18 1-17 1 7 1 33 1 26 1-14 1-51 1-27 1 11 1 25 1 8 1-11 1 4 1 27 1 24 1-1 1 4 1 26 1 16 1-7 1-6 1 20 1 29 1 12 1 2 1-10 1-15 1-19 1-22 1-5 1-8 1-32 1-20 1 0 1 3 1 12 1 22 1 18 1 12 1 1 1-11 1 2 1 16 1 7 1 5 1 4 1-9 1-15 1-23"/><path d="M0 652l1 5 1 10 1-7 1-30 1-32 1-25 1 2 1 33 1 11 1-25 1-31 1-38 1-21 1 27 1 52 1 18 1-16 1-13 1 13 1 21 1 26 1 27 1 19 1-7 1-27 1-21 1 1 1 19 1-4 1-35 1-24 1-25 1-30 1-19 1-1 1 24 1 17 1-4 1-19 1-17 1 0 1 12 1 24 1 25 1 28 1 18 1-12 1-36 1-14 1 35 1 26 1 3 1 16 1 29 1 40 1 56 1 43 1-12 1-60 1-53 1-31 1-19 1-8 1-2 1 12 1 9 1-15 1-11 1 9 1 41 1 46 1 12 1-2 1 5 1 3 1 3 1 14 1 24 1 33 1 30 1 21 1-11 1-57 1-40 1-12 1-24 1-51 1-58 1-36 1-15 1 2 1 4 1-2 1 0 1 13 1 28 1 22 1 2 1 0 1 6 1 9 1 16 1 14 1 0 1-7 1 2 1 2 1-6 1 8 1 22"/><path d="M0 609l1-7 1 12 1 21 1 1 1 13 1-5 1-1 1 23 1 22 1-14 1-19 1-24 1-15 1-17 1-27 1-18 1 8 1-1 1-25 1-3 1 30 1 24 1 14 1 9 1 10 1 20 1 24 1 9 1-8 1-28 1-40 1-31 1-27 1-38 1-43 1-35 1-6 1 28 1 31 1 12 1 5 1 31 1 52 1 38 1 14 1 1 1 24 1 44 1 20 1-1 1 37 1 51 1-3 1-26 1-8 1-11 1-31 1-18 1 10 1 15 1-7 1-25 1-16 1-14 1-20 1-11 1 9 1-3 1-33 1-25 1 23 1 35 1-15 1-33 1-4 1 8 1 14 1 24 1 27 1 13 1 4 1 6 1 0 1-3 1-5 1-9 1-11 1-26 1-36 1-29 1-17 1-6 1-3 1-3 1-10 1-10 1 1 1 12 1 12 1 10 1 20 1 26 1 21 1 25 1 32 1 21 1 5 1-8 1-26 1-28"/><path d="M0 539l1 26 1 21 1-7 1-6 1-9 1-25 1-2 1 20 1 23 1 3 1-17 1-21 1 8 1 46 1 32 1-11 1-29 1-23 1-9 1 0 1 17 1 42 1 38 1 19 1 16 1 5 1-6 1-22 1-36 1-40 1-45 1-34 1-22 1-42 1-53 1-29 1 9 1 44 1 55 1 57 1 34 1 26 1 40 1 30 1 23 1 14 1-5 1-13 1-6 1 11 1 21 1-9 1-61 1-31 1 45 1 66 1 26 1-21 1-26 1-22 1-36 1-39 1-28 1-24 1-20 1-11 1-8 1 5 1 15 1 12 1 20 1 50 1 51 1-6 1-51 1-28 1 7 1 12 1-9 1-12 1 10 1 18 1 2 1-13 1-13 1 5 1 16 1-10 1-12 1 7 1-1 1-2 1 2 1-9 1-1 1 21 1 11 1-9 1-5 1-4 1-10 1-8 1-2 1-3 1-1 1-2 1-8 1-12 1-18 1 1"/><path d="M0 614l1-14 1-10 1-25 1-23 1-9 1-15 1 9 1 55 1 51 1 20 1 8 1 4 1-14 1-32 1-2 1 16 1-9 1-9 1 3 1-6 1-7 1-4 1-15 1-17 1-10 1-12 1 17 1 40 1-10 1-42 1-16 1-19 1-35 1-8 1 5 1-11 1 2 1 25 1 21 1 15 1 26 1 24 1-5 1-20 1 13 1 37 1 16 1 2 1-13 1-41 1-37 1 4 1 20 1 0 1-4 1 24 1 44 1 30 1 12 1 12 1-6 1-31 1-22 1-7 1-15 1-42 1-26 1 28 1 21 1-15 1-5 1 13 1 2 1-3 1 45 1 42 1 28 1 7 1 51 1 29 1-31 1-41 1 5 1 2 1 9 1 14 1-14 1-20 1 2 1-6 1-30 1-33 1-16 1-10 1-22 1-22 1 3 1 20 1 17 1 10 1 3 1-5 1 1 1 12 1 11 1 12 1-1 1-10 1 0 1-5"/><path d="M0 578l1 16 1-7 1-32 1-23 1 2 1 8 1 16 1 40 1 38 1 16 1 21 1 31 1 18 1 0 1 10 1-11 1-47 1-36 1-6 1 3 1-8 1-1 1-1 1-18 1 3 1 19 1-7 1-15 1-23 1-7 1 8 1 4 1-13 1-21 1-38 1-50 1-33 1-11 1 9 1 33 1 35 1 24 1 14 1 6 1 9 1 5 1 0 1 10 1 12 1 25 1 6 1 0 1-8 1-14 1 5 1 23 1 32 1 61 1 69 1 14 1-36 1-47 1-36 1-36 1-29 1 2 1-1 1-43 1-50 1 4 1 48 1 39 1 15 1 11 1 12 1-7 1-20 1 6 1 40 1 44 1 32 1 19 1-1 1-17 1-28 1-31 1-21 1-13 1-7 1-16 1-36 1-34 1-14 1 4 1 9 1 8 1 8 1 22 1 28 1 27 1 25 1 27 1 18 1 4 1-10 1-23 1-22 1-3 1 8 1-6"/><path d="M0 611l1 5 1 16 1-17 1-24 1-3 1 7 1 11 1 16 1 8 1-8 1 4 1 5 1-12 1-3 1 23 1 15 1-29 1-57 1-23 1 37 1 51 1 41 1 28 1 5 1 3 1-2 1-7 1-20 1-39 1-56 1-75 1-67 1-15 1 15 1 9 1 9 1 9 1 23 1 33 1 31 1 31 1 34 1 27 1 15 1 7 1-11 1-18 1-20 1-34 1-26 1 4 1 26 1 53 1 53 1 40 1 48 1 27 1-28 1-28 1-11 1-37 1-42 1-35 1-35 1-24 1-30 1-34 1 8 1 26 1 11 1-10 1-23 1-2 1 10 1 10 1 38 1 55 1 21 1 7 1 10 1 14 1 34 1 31 1-7 1-27 1-18 1-14 1-35 1-34 1-15 1 2 1-3 1-22 1-15 1-6 1-4 1 0 1 6 1 22 1 26 1 17 1 21 1 28 1 21 1 18 1 18 1 9 1-9 1-22 1-21"/><path d="M0 566l1-3 1 5 1-11 1-12 1 24 1 42 1 33 1 6 1-24 1-38 1-28 1 2 1 30 1 30 1 22 1 13 1-2 1 1 1 15 1 2 1-17 1-11 1 2 1 11 1 10 1-2 1 3 1 7 1 6 1-9 1-29 1-42 1-48 1-56 1-70 1-43 1 6 1 27 1 34 1 52 1 42 1 31 1 39 1 40 1 10 1-12 1 8 1 30 1 24 1 20 1 0 1-30 1-20 1-1 1 14 1 14 1 2 1 8 1-10 1-35 1-30 1-29 1-43 1-51 1-31 1-4 1-3 1 10 1 49 1 50 1 32 1 48 1 44 1 7 1 2 1-3 1-19 1-51 1-40 1-7 1 0 1-2 1-14 1-10 1 12 1 21 1-14 1-34 1-24 1-2 1 4 1 5 1 0 1-9 1-4 1 13 1 15 1 10 1 7 1 5 1-3 1-2 1 16 1 23 1 10 1 0 1 4 1 3 1-5 1-14"/><path d="M0 614l1 5 1-12 1-35 1-31 1 5 1 33 1 21 1 2 1 6 1 27 1 5 1-31 1-19 1 10 1 9 1-23 1-47 1-48 1-8 1 42 1 55 1 38 1 17 1-4 1-13 1-21 1-19 1-25 1-27 1-18 1-28 1-23 1 5 1 23 1 11 1-5 1 14 1 24 1-7 1-11 1 1 1 6 1 21 1 23 1 24 1 34 1 24 1 6 1-6 1-20 1-14 1 9 1 43 1 97 1 66 1 28 1-33 1-57 1-25 1-5 1-23 1-37 1-25 1-3 1 5 1-7 1-11 1-15 1-25 1-25 1-2 1 13 1 13 1 27 1 20 1-5 1-7 1 18 1 39 1 27 1-2 1-16 1-9 1 1 1 0 1-4 1-10 1-25 1-29 1-21 1-13 1-12 1-12 1-2 1 7 1 13 1 16 1 23 1 21 1 15 1 17 1 14 1 10 1 9 1 13 1 4 1-23 1-41 1-30 1-9"/><path d="M0 690l1 8 1-22 1-49 1-47 1-30 1-21 1-5 1 12 1 4 1-13 1-2 1 25 1 24 1-1 1-14 1-14 1-11 1-9 1 2 1 29 1 49 1 51 1 40 1 4 1-9 1-6 1-24 1-42 1-49 1-73 1-75 1-45 1-22 1 7 1 27 1 14 1-7 1-12 1 1 1 24 1 33 1 18 1 10 1 8 1-3 1 5 1 9 1-2 1 0 1 0 1-3 1 16 1 30 1 45 1 83 1 73 1 14 1-35 1-33 1-8 1-6 1-26 1-45 1-44 1-10 1 2 1-14 1-6 1 25 1 37 1 16 1-7 1-5 1 17 1 27 1 22 1-1 1-5 1 26 1 48 1 36 1 2 1-23 1-19 1-16 1-13 1-4 1-14 1-42 1-34 1-7 1-7 1-12 1-6 1-1 1-3 1 2 1 18 1 31 1 22 1 8 1-3 1-5 1 9 1 21 1 17 1 7 1 1 1-15 1-12"/><path d="M0 699l1 10 1 27 1 5 1-33 1-56 1-40 1-10 1 6 1 0 1-14 1-22 1-10 1 5 1-2 1 3 1 3 1-12 1-5 1 17 1 3 1-29 1-18 1 12 1 25 1 28 1 9 1-12 1-16 1 0 1 17 1 11 1-4 1-11 1-17 1-19 1-5 1 17 1 23 1 9 1-16 1-37 1-27 1-1 1 20 1 28 1 13 1-5 1-1 1 0 1-16 1-5 1-3 1-12 1 7 1 19 1-2 1-6 1 9 1 20 1 23 1 15 1 7 1 1 1-2 1 8 1 25 1 15 1-29 1-41 1 0 1 25 1 18 1 2 1-4 1-22 1-38 1-22 1 6 1 13 1 16 1 12 1 0 1 0 1 13 1 7 1-18 1-32 1-30 1-16 1-5 1-4 1-4 1-11 1-10 1 13 1 30 1 21 1 9 1 8 1 7 1 10 1 18 1 13 1-10 1-4 1 12 1 22 1 23 1 7 1-18"/><path d="M0 622l1 7 1 11 1-3 1-26 1-35 1 0 1 44 1 39 1 3 1-11 1-7 1-16 1-3 1 33 1 27 1-19 1-35 1-3 1 30 1 21 1-26 1-35 1-12 1 13 1 14 1-11 1-33 1-26 1 16 1 45 1 46 1 20 1-5 1 7 1 6 1-4 1-16 1-24 1-30 1-10 1 6 1-13 1-21 1-8 1-20 1-28 1 8 1 28 1 13 1 2 1-3 1-17 1-47 1-25 1 8 1 16 1 18 1 11 1 25 1 37 1 39 1 18 1 6 1 7 1 3 1-5 1-17 1-38 1-45 1-22 1 11 1 5 1-16 1 5 1 37 1 24 1-13 1-7 1 27 1 30 1 26 1 30 1 12 1-12 1-12 1 5 1 1 1-28 1-44 1-35 1-31 1-25 1-19 1-3 1 9 1 6 1 3 1 15 1 21 1 17 1 21 1 16 1-1 1 5 1 26 1 19 1 5 1 12 1 15 1-12"/><path d="M0 684l1-15 1-9 1-24 1-25 1 11 1 21 1 3 1 8 1 30 1 3 1-15 1 14 1 25 1-9 1-31 1-8 1 7 1-29 1-51 1-16 1 26 1 41 1 50 1 13 1-8 1-38 1-24 1-4 1-7 1-36 1-43 1-26 1 27 1 37 1-14 1-39 1-35 1-11 1 16 1 36 1 21 1 0 1 10 1 13 1-8 1 1 1 27 1 22 1-7 1-19 1-17 1-19 1-6 1 24 1 27 1 2 1-4 1 22 1 19 1-3 1-13 1-8 1-10 1-31 1-34 1-18 1 10 1 21 1-3 1-21 1 15 1 42 1 20 1 3 1 7 1 10 1 9 1-5 1-6 1 4 1-6 1-9 1-6 1-7 1-9 1-13 1-2 1 8 1-5 1-25 1-23 1-17 1-12 1 4 1 19 1 32 1 25 1 25 1 25 1 21 1 13 1-2 1-2 1 16 1 28 1 5 1-33 1-19 1 14 1-6"/><path d="M0 665l1 35 1-10 1-21 1 6 1 9 1-21 1-27 1-10 1-10 1-16 1-13 1-4 1-8 1-13 1-1 1-7 1-6 1 12 1 21 1 27 1 25 1 11 1 3 1 9 1 11 1 0 1 1 1-15 1-40 1-35 1-35 1-54 1-45 1-33 1-30 1-12 1 9 1 39 1 65 1 57 1 0 1-11 1 32 1 45 1 33 1 4 1-43 1-36 1 4 1 59 1 54 1 19 1 1 1 7 1 17 1 40 1 43 1-16 1-59 1-39 1-24 1-23 1-14 1-14 1-18 1 3 1 19 1-11 1-11 1 13 1 2 1-11 1 4 1 4 1-3 1-8 1-9 1 25 1 34 1 14 1-2 1 0 1 14 1 21 1-2 1-46 1-37 1-13 1 1 1 2 1-10 1-9 1 13 1 2 1-9 1 9 1 23 1 19 1 8 1 5 1 19 1 27 1 22 1 20 1 0 1-29 1-22 1-7 1-13 1-19"/><path d="M0 589l1 7 1-6 1-10 1-21 1-37 1-30 1 17 1 46 1 41 1 29 1 15 1-6 1-4 1 8 1 10 1-1 1 2 1 19 1 17 1 0 1-4 1 7 1 13 1-6 1-19 1-20 1-20 1-29 1-22 1-7 1-5 1-9 1-6 1-8 1-26 1-29 1-7 1 9 1 3 1-3 1-3 1 10 1 23 1 24 1 25 1 13 1 5 1 14 1 34 1 42 1 39 1 32 1 10 1-15 1-25 1-24 1-32 1-25 1 12 1 12 1-29 1-41 1-29 1-21 1-11 1-2 1-4 1 7 1 4 1-13 1 0 1 29 1 21 1 3 1 12 1 12 1-14 1-14 1 15 1 16 1 15 1 20 1 19 1 16 1 6 1-7 1-8 1-3 1-7 1-21 1-28 1-29 1-18 1-11 1-4 1 4 1 7 1 17 1 23 1 21 1 18 1 11 1 10 1 5 1-12 1-4 1 1 1-16 1-6 1 29"/><path d="M0 609l1 8 1 20 1-27 1-47 1-14 1 2 1 0 1 6 1 18 1 28 1 10 1-12 1 3 1 9 1-6 1-12 1-5 1-6 1-7 1 15 1 38 1 40 1 19 1-8 1 4 1 17 1 4 1-18 1-23 1-18 1-14 1-25 1-22 1-12 1-9 1-3 1 0 1 20 1 28 1 27 1 20 1 15 1 12 1 3 1-8 1-10 1-3 1-11 1-31 1-10 1 28 1 36 1 37 1 40 1 31 1 6 1-24 1-54 1-62 1-32 1-2 1-7 1-3 1 10 1-9 1-28 1-8 1 7 1-10 1 6 1-27 1-24 1 11 1 40 1 37 1 41 1 42 1 31 1 27 1 16 1-3 1-18 1-34 1-18 1 6 1-1 1-8 1-27 1-39 1-32 1-21 1-2 1 8 1-1 1-10 1-2 1 15 1 24 1 10 1 8 1 23 1 26 1 12 1-11 1-18 1 3 1 12 1 0 1-5 1 3"/><path d="M0 701l1-18 1-28 1-32 1-19 1-23 1-31 1-12 1 17 1 2 1-13 1 12 1 24 1 6 1-11 1-5 1 12 1 18 1 14 1 3 1 12 1 34 1 24 1-9 1-33 1-24 1-5 1 2 1-21 1-49 1-44 1-27 1-11 1 4 1-7 1-4 1 26 1 24 1-11 1 8 1 10 1-2 1 18 1 40 1 12 1-11 1 8 1 17 1 18 1 19 1 4 1 9 1 23 1 17 1 4 1 10 1 34 1 45 1 45 1 19 1-27 1-54 1-57 1-47 1-44 1-40 1-7 1 14 1 7 1-8 1-22 1 19 1 29 1 14 1 36 1 40 1-5 1-26 1-20 1 1 1 12 1-1 1-13 1 7 1 21 1-2 1-19 1-22 1-38 1-48 1-34 1-8 1 8 1 20 1 23 1 21 1 25 1 23 1 7 1 6 1 13 1 35 1 29 1 3 1-19 1-20 1-6 1 6 1-1 1-9 1-8"/><path d="M0 644l1-7 1 14 1 19 1-1 1-18 1-8 1 29 1 25 1-10 1-27 1-17 1 4 1-4 1-14 1-1 1 6 1 1 1-1 1 6 1 18 1 18 1 4 1-13 1-34 1-20 1-6 1-5 1 14 1 18 1-18 1-46 1-62 1-65 1-59 1-23 1 28 1 27 1 14 1 24 1 22 1 17 1 16 1 7 1 5 1 20 1 30 1 35 1 5 1-46 1-37 1-2 1 23 1 32 1 27 1 65 1 78 1 46 1-12 1-35 1-27 1-22 1-22 1-21 1-35 1-47 1-26 1 11 1 22 1 28 1 31 1 21 1 19 1 24 1 16 1-5 1-5 1 5 1-9 1-19 1-12 1-1 1 15 1 35 1 36 1 9 1-13 1-16 1-22 1-26 1-25 1-30 1-37 1-22 1 2 1 3 1-6 1-7 1 14 1 27 1 23 1 18 1 15 1 18 1 29 1 22 1-5 1-19 1-11 1 6 1 8"/><path d="M0 584l1 35 1-12 1-39 1-24 1 18 1 35 1 40 1 27 1-17 1-31 1 11 1 15 1-19 1-8 1 18 1 2 1-9 1-4 1 6 1 3 1-19 1-17 1-3 1-20 1-25 1-18 1-10 1 1 1-10 1-25 1 5 1 20 1-2 1-12 1-21 1-30 1-14 1 24 1 36 1 20 1 2 1-2 1 28 1 64 1 38 1 0 1 1 1 11 1 9 1-19 1-35 1-10 1 10 1 31 1 38 1 51 1 59 1 4 1-47 1-42 1-40 1-41 1-35 1-24 1-12 1-29 1-53 1-28 1 28 1 40 1 13 1 6 1 26 1 38 1 42 1 26 1 10 1 2 1-2 1 5 1 12 1-5 1-22 1-18 1-13 1-18 1-29 1-22 1-16 1-11 1-6 1 21 1 9 1-2 1-6 1 6 1 20 1 26 1 15 1 9 1 14 1 21 1 15 1-9 1-20 1-1 1-1 1-18 1-2 1 15"/><path d="M0 602l1-9 1 1 1 11 1 15 1 23 1 20 1 20 1 28 1 22 1-10 1-35 1-26 1-1 1 4 1-3 1-12 1-15 1 2 1 16 1 8 1-15 1-13 1 11 1 18 1 0 1-14 1 5 1 5 1-22 1-37 1-41 1-19 1 0 1-25 1-35 1-8 1 15 1 3 1-3 1 18 1 10 1 0 1 10 1 11 1 9 1 26 1 36 1 19 1-12 1-41 1-40 1 1 1 37 1 54 1 40 1 9 1 2 1 1 1-8 1-14 1-10 1-13 1-14 1-10 1-3 1 4 1 8 1 0 1-28 1-35 1-16 1-10 1-13 1-10 1 8 1 50 1 59 1 11 1 15 1 10 1 18 1 12 1 8 1 12 1-13 1-32 1-24 1-4 1-2 1-27 1-37 1-10 1 8 1 5 1 6 1 13 1 14 1 12 1 3 1-1 1 3 1 1 1 3 1 21 1 28 1 14 1 0 1-4 1-12 1-22"/><path d="M0 550l1 0 1-8 1-9 1 4 1 12 1-3 1 3 1 41 1 43 1 18 1 1 1 4 1 18 1 20 1 10 1 6 1-3 1-16 1-29 1-27 1-5 1 17 1 10 1-23 1-23 1-9 1-5 1 0 1-6 1-17 1-23 1-46 1-70 1-76 1-58 1-5 1 49 1 53 1 19 1 1 1 9 1 34 1 55 1 37 1 1 1-18 1-16 1 9 1 49 1 66 1 40 1 41 1-24 1-27 1 34 1 50 1 47 1 28 1-19 1-44 1-45 1-50 1-49 1-43 1-34 1-33 1-21 1 9 1 21 1 30 1 50 1 59 1 50 1 32 1 18 1-8 1-36 1-33 1-30 1-32 1-14 1 17 1 33 1 23 1 4 1-18 1-33 1-26 1-14 1-22 1-20 1-22 1-20 1-3 1 8 1 15 1 20 1 23 1 26 1 14 1 0 1-2 1 4 1 35 1 40 1 9 1-9 1-7 1-18 1-27"/><path d="M0 544l1 12 1 5 1-4 1 24 1 41 1 2 1-17 1 1 1 7 1-9 1-12 1-3 1-14 1-28 1-27 1-14 1 5 1 2 1-3 1 14 1 30 1 25 1-3 1-29 1-23 1-17 1-18 1-6 1 25 1 42 1 29 1-8 1-28 1-16 1 2 1 10 1 9 1 3 1-17 1-18 1-10 1 7 1 30 1 27 1-4 1-31 1-40 1-13 1 22 1-14 1-29 1 18 1 78 1 72 1 15 1 7 1 22 1 15 1 12 1 9 1-3 1-17 1-16 1-9 1-8 1-23 1-35 1-21 1-9 1 1 1 31 1 50 1 11 1-35 1-37 1-7 1 30 1 32 1 9 1 3 1 5 1-5 1-3 1 10 1 3 1-1 1-1 1-11 1-16 1-16 1-22 1-23 1-9 1-2 1-9 1-6 1 4 1 17 1 8 1-5 1 5 1 18 1 6 1 14 1 13 1 13 1 26 1 14 1-23 1-47"/><path d="M0 677l1 20 1 9 1-10 1-37 1-32 1-28 1-11 1 24 1 22 1-14 1-18 1-7 1-1 1-1 1 9 1 17 1 3 1-10 1-6 1 10 1 25 1 12 1 4 1 12 1 15 1 3 1-18 1-26 1-4 1 9 1-13 1-25 1-26 1-32 1-20 1-7 1 33 1 37 1 26 1 8 1-7 1-2 1 6 1 13 1 14 1 8 1 8 1 11 1 4 1 4 1 4 1-16 1-25 1 8 1 26 1 26 1 43 1 42 1 10 1-26 1-26 1-28 1-31 1-29 1-13 1 1 1 10 1 24 1 29 1 11 1-39 1-31 1 0 1 17 1 12 1 9 1 3 1-19 1-26 1 6 1 17 1-5 1-7 1 20 1 26 1-5 1-22 1 6 1 5 1-27 1-30 1-10 1 2 1-2 1 0 1 4 1-1 1-2 1 15 1 24 1 15 1 2 1 7 1 2 1-13 1-23 1-7 1 24 1 30 1 10"/><path d="M0 672l1 1 1 8 1-15 1-30 1-11 1 5 1 17 1 31 1 13 1-20 1-38 1-37 1-31 1-27 1-7 1 16 1 3 1-21 1-2 1 38 1 32 1 8 1 10 1 4 1 5 1-2 1-15 1-11 1-2 1-6 1-20 1-55 1-69 1-40 1-17 1-6 1 22 1 13 1-16 1 14 1 37 1 18 1 1 1-13 1-6 1 7 1 51 1 50 1 26 1 11 1 6 1-6 1-13 1 12 1 52 1 49 1 10 1 27 1 30 1-20 1-61 1-48 1-16 1-9 1-11 1 4 1 20 1-9 1-41 1-16 1 10 1-5 1-11 1 10 1 5 1 4 1 33 1 60 1 77 1 52 1 1 1-8 1-8 1-17 1-35 1-43 1-26 1-21 1-33 1-35 1-13 1 2 1-1 1 4 1 6 1-1 1 2 1 17 1 13 1 1 1 15 1 30 1 17 1 11 1 15 1-4 1-17 1-11 1 3 1-3"/><path d="M0 573l1 2 1 15 1 3 1-1 1 7 1 8 1 20 1 18 1-6 1-4 1 6 1 19 1 38 1 28 1 0 1-26 1-33 1-11 1 23 1 28 1-7 1-25 1-19 1-22 1-8 1 2 1-3 1-19 1-37 1-56 1-41 1-20 1-20 1-29 1-29 1-14 1 23 1 41 1 18 1 13 1 36 1 44 1 39 1 26 1 7 1-18 1-16 1 3 1 9 1 14 1 13 1 11 1 20 1 41 1 61 1 66 1 29 1-7 1-35 1-42 1-47 1-67 1-55 1-34 1-3 1 19 1 15 1 4 1-1 1 21 1 21 1-2 1-16 1-23 1-17 1 7 1 27 1 29 1 24 1 29 1 13 1 1 1-16 1-8 1-15 1-15 1-19 1-33 1-22 1-5 1-11 1-5 1 3 1-7 1 0 1 2 1 2 1 10 1 21 1 17 1 15 1 22 1 15 1-3 1-12 1-6 1 0 1-2 1-3 1-10"/><path d="M0 542l1 21 1 30 1 14 1-15 1-17 1-11 1-8 1 26 1 50 1 27 1-5 1-16 1-17 1-13 1-1 1-9 1-28 1-12 1 29 1 40 1 15 1-8 1-22 1-32 1 2 1 23 1-4 1-23 1-21 1-39 1-46 1-26 1-26 1-48 1-31 1 18 1 40 1 49 1 21 1-2 1 30 1 68 1 44 1-3 1-2 1 15 1 7 1-23 1-25 1-2 1 9 1 20 1 45 1 79 1 83 1 29 1-27 1-77 1-86 1-50 1-42 1-22 1-18 1-4 1-7 1-20 1-10 1 16 1 26 1 16 1 14 1 14 1 22 1 28 1 31 1 31 1 19 1 17 1 13 1-17 1-37 1-23 1 10 1 25 1 8 1-16 1-24 1-17 1 1 1-1 1-6 1-1 1-6 1-11 1 1 1 11 1-2 1-10 1 3 1 12 1 12 1 9 1-9 1-13 1-6 1 6 1 1 1-17 1-24 1-19"/><path d="M0 644l1 16 1 12 1-21 1-28 1 24 1 37 1 30 1 18 1-1 1-22 1-8 1 12 1-15 1-30 1-26 1-24 1-14 1-8 1 1 1 20 1 22 1 25 1 24 1 3 1-5 1 9 1 14 1 3 1-34 1-54 1-70 1-76 1-47 1 0 1 24 1 23 1 24 1 9 1-14 1-3 1 5 1 7 1 21 1 25 1 17 1-3 1 13 1 34 1-2 1-21 1 12 1 27 1 35 1 52 1 61 1 46 1-2 1-57 1-53 1-23 1-31 1-36 1-16 1 5 1 24 1 28 1 27 1 11 1 5 1 10 1-2 1-18 1-16 1-24 1-14 1 6 1 9 1 5 1 8 1 4 1-10 1 4 1 19 1 9 1-5 1-8 1-14 1-23 1-21 1-2 1-7 1-31 1-36 1-18 1-3 1 16 1 33 1 28 1 9 1 4 1 17 1 20 1 13 1-1 1-22 1-25 1 6 1 18 1 4 1 5"/><path d="M0 649l1-3 1-5 1-14 1-19 1-2 1 17 1 16 1 19 1 24 1 0 1-12 1 12 1 32 1 15 1-16 1-49 1-55 1-28 1 5 1 20 1 10 1 1 1 12 1 14 1 15 1 23 1 14 1-6 1-19 1-15 1-4 1 4 1 22 1 5 1-25 1-12 1 14 1-3 1-36 1-12 1 7 1-4 1 1 1 4 1 0 1-11 1-31 1-51 1-28 1-7 1-11 1-8 1 15 1 41 1 58 1 53 1 47 1 30 1-11 1-24 1-14 1-23 1-23 1-8 1-2 1-6 1 13 1 42 1 24 1-12 1-21 1-12 1-8 1-19 1-10 1 10 1 5 1-5 1 3 1 16 1 10 1-14 1-24 1-18 1-9 1-7 1-19 1-18 1 3 1 4 1 8 1 7 1 20 1 15 1 7 1 17 1 16 1 16 1-4 1-11 1-15 1-11 1 5 1 11 1 5 1 16 1 37 1 26 1-1 1-12"/><path d="M0 547l1 24 1 17 1 6 1 5 1-1 1-2 1 17 1 18 1 13 1 27 1 28 1-8 1-35 1-11 1 27 1 11 1-42 1-62 1-17 1 15 1 9 1 23 1 37 1 0 1-32 1-34 1-24 1-5 1 21 1 27 1 9 1-12 1 17 1 37 1-19 1-36 1-30 1-41 1-38 1-6 1 10 1 11 1 20 1 35 1 37 1 29 1 10 1-12 1 2 1 37 1 46 1 17 1-8 1-2 1 11 1 21 1 9 1 3 1 32 1 6 1-44 1-53 1-28 1-13 1-20 1-30 1-14 1-4 1-25 1-32 1 8 1 25 1 9 1 18 1 24 1 20 1 16 1-8 1-17 1 9 1 18 1-5 1-7 1 5 1 1 1 4 1 17 1 2 1-26 1-21 1-3 1-9 1-15 1-7 1-6 1-10 1 2 1 16 1 23 1 31 1 31 1 15 1-3 1-5 1 3 1-1 1 3 1 0 1 7 1-6"/><path d="M0 560l1 3 1 14 1 0 1 2 1 13 1 0 1 5 1 19 1 24 1 14 1 12 1 10 1-5 1-17 1-2 1-2 1-11 1-9 1-1 1 16 1 15 1 13 1 18 1 1 1-23 1-23 1-4 1-4 1-13 1-18 1-25 1-35 1-32 1-17 1-8 1 5 1-2 1-18 1 0 1 26 1 25 1 31 1 31 1 13 1 4 1 3 1-1 1-4 1-1 1 22 1 34 1 23 1 5 1-10 1 13 1 44 1 34 1 11 1-7 1-15 1-18 1-25 1-32 1-27 1-2 1 7 1 15 1 3 1-39 1-57 1-21 1 3 1 9 1 5 1 4 1-2 1-16 1-3 1 23 1 26 1 14 1 9 1 18 1 15 1-3 1-22 1-28 1-18 1-1 1 10 1 18 1 24 1 14 1-7 1-19 1-4 1 16 1 11 1 0 1-9 1-12 1-1 1 19 1 26 1 28 1 25 1 5 1-20 1-35 1-27"/><path d="M0 698l1-12 1-23 1-21 1-2 1 11 1 3 1 0 1 15 1 13 1-19 1-16 1 16 1 20 1 11 1 13 1-7 1-39 1-41 1-21 1-11 1-23 1-14 1 24 1 29 1 4 1-25 1-35 1-23 1-7 1 7 1 29 1 41 1 1 1-45 1-27 1 16 1 17 1 2 1 5 1 22 1 12 1-12 1-21 1-22 1-18 1-1 1 17 1 9 1-19 1-18 1 18 1 28 1 33 1 37 1 23 1 34 1 51 1 19 1-20 1-20 1-16 1-25 1-23 1-12 1-14 1-29 1-6 1 34 1 25 1 23 1 44 1 9 1-14 1 13 1 12 1-14 1-19 1-8 1-11 1-15 1-9 1 14 1 27 1 14 1-6 1-8 1 3 1-12 1-46 1-54 1-26 1-11 1-3 1-12 1 1 1 21 1 30 1 36 1 31 1 10 1-2 1-11 1 2 1 17 1 3 1-19 1-15 1 13 1 23 1 6"/><path d="M0 615l1-16 1-16 1-21 1 21 1 36 1 8 1-3 1-12 1-25 1-19 1-18 1-20 1-7 1 2 1-1 1 0 1-4 1 2 1 17 1 18 1 13 1 18 1 20 1 12 1 10 1 4 1 8 1-18 1-12 1-45 1-16 1 13 1 30 1 23 1 0 1-16 1-15 1-4 1 1 1 7 1 6 1 4 1 5 1-6 1 1 1 18 1 4 1-10 1-12 1-17 1-33 1-36 1-18 1 7 1 31 1 31 1 9 1-22 1-12 1 35 1 54 1 22 1-10 1-23 1-6 1 7 1 6 1 14 1 12 1-4 1-6 1 2 1 2 1-14 1-38 1-43 1-30 1 5 1 20 1 16 1 6 1 6 1 10 1 5 1-2 1-7 1 4 1 12 1-7 1-16 1-10 1-5 1-8 1-10 1 0 1 19 1 18 1 5 1-3 1-10 1 1 1 18 1 6 1-22 1-8 1 19 1 25 1 13 1 12 1 28"/><path d="M0 539l1-2 1 14 1 21 1 25 1 31 1 21 1 6 1 5 1 13 1-2 1-21 1-10 1 1 1-7 1 1 1 8 1 17 1 16 1 1 1 13 1 17 1 10 1 14 1-5 1-30 1-18 1-27 1-48 1-36 1-23 1-25 1-9 1-3 1-19 1-15 1-5 1-5 1 5 1 16 1 8 1-5 1 1 1 29 1 54 1 46 1 12 1-9 1 3 1 1 1-3 1 20 1 29 1-1 1-12 1 24 1 34 1-1 1-18 1-16 1-37 1-40 1-18 1-10 1-28 1-35 1-12 1 19 1 29 1 22 1 20 1 16 1 6 1 8 1 4 1 1 1 2 1 2 1 7 1 9 1 22 1 26 1 9 1 1 1-2 1-14 1-37 1-29 1 7 1 8 1-25 1-33 1-6 1 5 1-1 1 7 1 14 1 14 1 10 1 13 1 6 1 8 1 19 1 2 1-12 1 9 1 19 1 14 1 5 1-16 1-22"/><path d="M0 604l1 10 1 7 1-26 1-23 1 20 1 27 1 7 1-9 1-20 1-23 1-9 1-4 1-11 1-10 1-3 1-3 1 8 1 24 1 30 1 35 1 19 1-18 1-26 1-12 1-9 1-21 1-18 1-10 1 1 1 9 1-19 1-33 1-16 1 6 1 14 1 9 1 14 1 31 1 12 1-18 1-16 1 24 1 50 1 28 1-5 1-18 1-12 1-27 1-43 1-9 1 11 1-9 1-4 1 33 1 57 1 39 1 16 1-5 1-15 1-8 1-6 1-15 1-11 1-10 1-7 1-4 1 0 1-2 1-11 1-4 1 5 1 16 1 33 1 23 1 18 1 4 1 8 1 17 1 21 1-4 1-4 1 16 1 0 1-15 1-21 1-36 1-47 1-29 1 2 1-4 1-25 1-16 1-2 1 1 1 9 1 26 1 31 1 33 1 23 1 8 1 8 1 18 1 7 1-28 1-26 1 10 1 11 1-6 1-7 1-12"/><path d="M0 658l1-16 1-26 1-20 1 5 1 22 1 11 1 14 1 26 1 15 1-7 1-15 1-11 1 12 1 29 1 15 1-18 1-18 1-11 1-17 1-18 1-20 1-22 1-4 1 13 1 18 1 14 1 9 1-9 1-25 1-29 1-25 1-25 1-6 1 9 1 12 1 7 1 14 1 27 1 20 1 9 1-24 1-49 1-26 1 13 1 33 1 27 1 16 1 5 1 3 1 21 1 45 1 25 1-4 1 14 1 30 1 8 1-16 1-21 1-33 1-35 1-18 1-7 1-11 1-7 1 6 1-1 1-2 1 3 1-20 1-10 1 31 1 17 1-20 1-8 1 16 1 28 1 22 1-4 1-30 1-33 1-8 1 9 1-6 1-20 1-22 1-5 1 1 1-7 1 3 1 5 1-2 1-7 1-10 1-4 1-3 1 9 1 20 1 15 1 5 1 8 1 16 1 27 1 39 1 29 1 15 1 13 1 8 1-7 1-23 1-33"/><path d="M0 593l1 19 1 14 1-21 1-39 1-17 1-1 1 29 1 51 1 38 1 36 1 16 1-16 1-37 1-14 1-2 1-19 1-23 1 2 1 18 1 19 1 3 1-1 1 17 1 11 1 7 1 15 1 9 1-21 1-52 1-49 1-16 1-6 1-21 1-37 1-46 1-11 1 16 1 24 1 40 1 37 1 25 1 17 1 21 1 36 1 40 1 28 1-7 1-40 1-28 1-6 1 0 1 27 1 36 1-15 1-24 1 17 1 9 1-17 1-2 1 0 1-27 1-28 1-14 1-8 1-13 1-19 1-5 1 17 1 24 1 22 1 0 1-20 1 4 1 45 1 40 1 18 1 11 1 7 1-4 1-17 1-26 1-11 1-4 1-19 1-30 1-28 1-9 1 23 1 40 1 27 1-3 1-22 1-23 1-8 1-5 1-5 1 14 1 30 1 17 1 10 1 16 1 14 1 6 1-13 1-26 1-37 1-46 1-31 1-19 1-21"/><path d="M0 621l1-19 1-45 1-23 1 5 1 25 1 6 1-22 1-3 1 16 1 2 1-3 1 0 1 6 1 10 1 13 1 7 1-8 1-15 1-21 1-14 1 19 1 33 1 2 1-12 1 8 1 21 1 20 1-15 1-36 1-19 1-7 1-17 1-35 1-45 1-32 1 8 1 50 1 45 1 25 1 22 1-4 1-13 1 24 1 41 1 7 1-17 1-1 1 17 1 18 1-5 1-5 1 13 1 18 1 41 1 71 1 65 1 26 1-28 1-44 1-48 1-45 1-39 1-47 1-47 1-11 1 35 1 42 1 8 1-9 1 12 1 34 1 16 1-20 1-35 1-18 1-18 1 2 1-10 1-15 1-1 1 12 1 8 1 16 1 26 1 8 1-2 1 1 1 0 1-9 1-23 1-17 1-6 1-3 1-1 1 6 1 3 1-4 1-2 1 7 1 20 1 30 1 21 1-7 1-20 1 4 1 5 1-18 1-13 1 0 1-1"/><path d="M0 579l1 9 1 10 1 13 1 11 1 9 1 9 1 4 1-2 1-5 1-3 1-1 1-3 1-3 1-2 1 0 1 0 1-5 1-8 1-5 1-2 1-6 1-11 1-12 1-7 1-5 1-6 1-7 1-13 1-23 1-38 1-49 1-51 1-46 1-59 1-59 1-8 1 47 1 55 1 52 1 60 1 56 1 38 1 20 1 16 1 16 1 14 1 11 1 2 1-7 1-14 1-13 1-3 1 18 1 37 1 38 1 14 1-2 1 3 1 3 1-2 1-5 1-3 1-6 1-11 1-16 1-18 1-17 1-17 1-16 1-8 1 3 1 10 1 12 1 16 1 16 1 17 1 12 1 8 1 6 1 7 1 6 1-4 1-14 1-12 1-7 1-7 1-12 1-13 1-8 1-1 1 4 1 7 1 2 1-2 1 0 1 3 1 3 1 2 1 3 1 3 1 1 1 2 1 6 1 5 1 2 1 2 1 5 1 6 1 3 1-1"/><path d="M0 615l1 2 1 0 1-3 1-3 1-2 1-3 1-2 1 0 1 5 1 4 1 0 1-5 1-4 1 2 1 3 1 3 1 2 1 1 1 0 1-2 1-3 1-2 1-5 1-8 1-13 1-14 1-13 1-11 1-11 1-11 1-8 1-3 1-5 1-4 1 3 1 6 1 3 1 8 1 8 1 8 1 8 1 10 1 11 1 11 1 14 1 15 1 13 1 16 1 22 1 25 1 25 1 33 1 48 1 55 1 47 1 50 1 34 1-19 1-54 1-55 1-50 1-54 1-48 1-33 1-21 1-19 1-18 1-15 1-14 1-9 1-4 1-3 1 4 1 15 1 22 1 19 1 11 1 12 1 15 1 10 1-1 1-8 1-10 1-8 1-6 1-8 1-4 1-2 1-5 1-5 1-3 1-4 1-3 1-2 1 1 1 3 1 6 1 6 1 5 1 1 1-5 1-5 1-2 1-2 1-3 1 0 1 4 1 4 1 1 1-2"/><path d="M0 607l1-3 1 0 1 0 1 0 1 0 1 1 1 3 1 0 1-1 1-2 1-1 1 1 1 0 1-5 1-5 1 1 1 4 1-2 1-4 1-3 1-7 1-7 1 0 1 2 1 1 1 0 1-1 1-2 1-3 1-4 1-14 1-25 1-30 1-28 1-20 1-6 1 14 1 28 1 34 1 31 1 24 1 8 1-3 1-4 1-4 1-7 1-7 1-3 1-5 1-15 1-18 1-12 1-11 1-21 1-27 1-17 1 7 1 63 1 64 1 42 1 35 1 17 1-6 1-15 1-16 1-13 1-20 1-32 1-39 1-40 1-36 1-33 1-43 1-8 1 46 1 52 1 45 1 45 1 39 1 37 1 28 1 12 1-3 1-10 1-9 1-10 1-5 1-3 1-5 1-9 1-5 1 1 1 4 1 4 1 1 1-1 1 0 1 2 1 3 1-4 1-5 1 1 1 3 1 0 1-1 1-3 1-3 1-1 1 2 1 5"/></g>
<rect x="16.5" y="26.5" width="310.0" height="226.0" fill="none" stroke="#3a3a3a" stroke-width="1"/>
<line x1="44.5" y1="252.5" x2="44.5" y2="249.5" stroke="#3a3a3a" stroke-width="1"/>
<line x1="44.5" y1="26.5" x2="44.5" y2="29.5" stroke="#3a3a3a" stroke-width="1"/>
<text x="44.68" y="269.4" font-size="11" text-anchor="middle" font-weight="normal" fill="#1a1a1a" >700</text>
<line x1="101.5" y1="252.5" x2="101.5" y2="249.5" stroke="#3a3a3a" stroke-width="1"/>
<line x1="101.5" y1="26.5" x2="101.5" y2="29.5" stroke="#3a3a3a" stroke-width="1"/>
<text x="101.05" y="269.4" font-size="11" text-anchor="middle" font-weight="normal" fill="#1a1a1a" >710</text>
<line x1="157.5" y1="252.5" x2="157.5" y2="249.5" stroke="#3a3a3a" stroke-width="1"/>
<line x1="157.5" y1="26.5" x2="157.5" y2="29.5" stroke="#3a3a3a" stroke-width="1"/>
<text x="157.41" y="269.4" font-size="11" text-anchor="middle" font-weight="normal" fill="#1a1a1a" >720</text>
<line x1="213.5" y1="252.5" x2="213.5" y2="249.5" stroke="#3a3a3a" stroke-width="1"/>
<line x1="213.5" y1="26.5" x2="213.5" y2="29.5" stroke="#3a3a3a" stroke-width="1"/>
<text x="213.77" y="269.4" font-size="11" text-anchor="middle" font-weight="normal" fill="#1a1a1a" >730</text>
<line x1="270.5" y1="252.5" x2="270.5" y2="249.5" stroke="#3a3a3a" stroke-width="1"/>
<line x1="270.5" y1="26.5" x2="270.5" y2="29.5" stroke="#3a3a3a" stroke-width="1"/>
<text x="270.14" y="269.4" font-size="11" text-anchor="middle" font-weight="normal" fill="#1a1a1a" >740</text>
<line x1="326.5" y1="252.5" x2="326.5" y2="249.5" stroke="#3a3a3a" stroke-width="1"/>
<line x1="326.5" y1="26.5" x2="326.5" y2="29.5" stroke="#3a3a3a" stroke-width="1"/>
<text x="326.5" y="269.4" font-size="11" text-anchor="middle" font-weight="normal" fill="#1a1a1a" >750</text>
<line x1="16.5" y1="252.5" x2="19.5" y2="252.5" stroke="#3a3a3a" stroke-width="1"/>
<line x1="326.5" y1="252.5" x2="323.5" y2="252.5" stroke="#3a3a3a" stroke-width="1"/>
<text x="12.3" y="256.4" font-size="11" text-anchor="end" font-weight="normal" fill="#1a1a1a" >−8</text>
<line x1="16.5" y1="227.5" x2="19.5" y2="227.5" stroke="#3a3a3a" stroke-width="1"/>
<line x1="326.5" y1="227.5" x2="323.5" y2="227.5" stroke="#3a3a3a" stroke-width="1"/>
<text x="12.3" y="231.29" font-size="11" text-anchor="end" font-weight="normal" fill="#1a1a1a" >−6</text>
<line x1="16.5" y1="202.5" x2="19.5" y2="202.5" stroke="#3a3a3a" stroke-width="1"/>
<line x1="326.5" y1="202.5" x2="323.5" y2="202.5" stroke="#3a3a3a" stroke-width="1"/>
<text x="12.3" y="206.18" font-size="11" text-anchor="end" font-weight="normal" fill="#1a1a1a" >−4</text>
<line x1="16.5" y1="177.5" x2="19.5" y2="177.5" stroke="#3a3a3a" stroke-width="1"/>
<line x1="326.5" y1="177.5" x2="323.5" y2="177.5" stroke="#3a3a3a" stroke-width="1"/>
<text x="12.3" y="181.07" font-size="11" text-anchor="end" font-weight="normal" fill="#1a1a1a" >−2</text>
<line x1="16.5" y1="152.5" x2="19.5" y2="152.5" stroke="#3a3a3a" stroke-width="1"/>
<line x1="326.5" y1="152.5" x2="323.5" y2="152.5" stroke="#3a3a3a" stroke-width="1"/>
<text x="12.3" y="155.96" font-size="11" text-anchor="end" font-weight="normal" fill="#1a1a1a" >0</text>
<line x1="16.5" y1="126.5" x2="19.5" y2="126.5" stroke="#3a3a3a" stroke-width="1"/>
<line x1="326.5" y1="126.5" x2="323.5" y2="126.5" stroke="#3a3a3a" stroke-width="1"/>
<text x="12.3" y="130.84" font-size="11" text-anchor="end" font-weight="normal" fill="#1a1a1a" >2</text>
<line x1="16.5" y1="101.5" x2="19.5" y2="101.5" stroke="#3a3a3a" stroke-width="1"/>
<line x1="326.5" y1="101.5" x2="323.5" y2="101.5" stroke="#3a3a3a" stroke-width="1"/>
<text x="12.3" y="105.73" font-size="11" text-anchor="end" font-weight="normal" fill="#1a1a1a" >4</text>
<line x1="16.5" y1="76.5" x2="19.5" y2="76.5" stroke="#3a3a3a" stroke-width="1"/>
<line x1="326.5" y1="76.5" x2="323.5" y2="76.5" stroke="#3a3a3a" stroke-width="1"/>
<text x="12.3" y="80.62" font-size="11" text-anchor="end" font-weight="normal" fill="#1a1a1a" >6</text>
<line x1="16.5" y1="51.5" x2="19.5" y2="51.5" stroke="#3a3a3a" stroke-width="1"/>
<line x1="326.5" y1="51.5" x2="323.5" y2="51.5" stroke="#3a3a3a" stroke-width="1"/>
<text x="12.3" y="55.51" font-size="11" text-anchor="end" font-weight="normal" fill="#1a1a1a" >8</text>
<line x1="16.5" y1="26.5" x2="19.5" y2="26.5" stroke="#3a3a3a" stroke-width="1"/>
<line x1="326.5" y1="26.5" x2="323.5" y2="26.5" stroke="#3a3a3a" stroke-width="1"/>
<text x="12.3" y="30.4" font-size="11" text-anchor="end" font-weight="normal" fill="#1a1a1a" >10</text>
<text x="187.6" y="284.9" font-size="11.2" text-anchor="middle" font-weight="normal" fill="#1a1a1a" >Energy loss (eV)</text>
<text x="16.6" y="23" font-size="11" fill="#1a1a1a">x 10<tspan font-size="8" dy="-4.2">−3</tspan></text>
<text x="-0.8" y="11.6" font-size="16" text-anchor="start" font-weight="bold" fill="#000" >a</text>
<g class="cv" transform="translate(374.500,0) scale(2.81818,0.25)" fill="none" stroke="#2a2ae8" stroke-opacity="0.088" stroke-width="0.9" stroke-linejoin="round" vector-effect="non-scaling-stroke"><path d="M0 547l1-16 1 4 1 36 1 31 1-12 1-13 1 25 1 54 1 42 1-10 1-47 1-18 1 8 1 6 1 32 1-10 1-45 1-40 1-23 1-5 1 17 1 18 1-4 1-23 1-21 1-15 1-15 1 3 1 24 1 28 1 19 1-4 1-37 1-62 1-53 1-28 1 3 1 23 1 21 1 37 1 35 1 14 1 6 1 8 1 21 1 10 1-27 1-30 1 13 1 31 1 5 1-21 1-28 1-10 1-17 1-11 1-3 1-28 1-28 1 3 1 17 1 23 1 34 1 36 1 30 1 28 1 27 1 20 1 25 1 7 1-38 1-50 1-17 1 3 1-7 1-5 1 1 1 14 1 14 1-8 1 5 1 36 1 40 1 21 1-38 1-65 1-36 1 5 1 19 1 31 1 12 1-36 1-45 1-34 1-33 1-16 1 13 1 22 1 16 1 18 1 7 1-7 1 10 1 12 1-13 1-9 1 6 1 18 1 12 1-18"/><path d="M0 492l1-37 1-16 1-24 1-45 1-26 1 9 1 56 1 65 1 34 1-9 1-9 1 41 1 67 1 50 1 38 1 28 1 26 1 3 1-23 1-5 1-20 1-77 1-67 1-39 1-49 1-21 1 1 1 5 1-5 1-20 1 13 1 39 1 12 1-32 1-54 1-23 1 20 1-6 1-38 1-22 1 29 1 60 1 26 1-14 1-16 1-30 1-41 1 4 1 61 1 63 1 44 1 18 1-38 1-85 1-82 1 3 1 49 1 56 1 17 1-46 1-32 1 27 1 38 1 57 1 62 1 27 1 30 1 48 1 29 1 4 1-20 1-58 1-49 1-12 1 0 1 26 1 16 1-39 1-59 1-42 1-15 1 15 1 48 1 43 1 12 1-25 1-33 1 5 1 22 1-10 1-46 1-29 1-3 1 2 1 6 1-4 1-25 1-16 1 21 1 31 1 6 1 8 1 19 1 6 1 9 1 18 1 16 1 21 1 40 1 46"/><path d="M0 566l1 2 1-3 1 7 1 15 1-13 1-14 1-1 1-20 1-35 1-19 1-9 1-7 1 32 1 25 1-21 1 7 1 58 1 45 1 10 1-3 1-19 1-17 1 23 1 31 1 14 1-16 1-30 1-10 1-21 1-81 1-102 1-55 1-37 1-16 1 81 1 101 1 53 1 40 1 9 1-18 1-5 1 5 1-12 1-30 1-15 1 19 1 6 1-2 1 24 1 21 1 34 1 55 1 16 1-51 1-66 1-44 1-30 1-25 1 5 1 22 1 8 1 22 1 26 1-14 1-28 1 26 1 49 1 10 1-5 1 5 1 0 1-22 1-32 1-6 1 8 1 8 1 0 1 0 1 32 1 56 1 32 1-5 1-12 1 2 1 1 1-9 1-16 1-10 1-18 1-30 1-11 1-19 1-36 1-12 1 15 1 22 1 2 1-18 1 8 1 36 1 35 1 38 1 6 1-48 1-45 1 15 1 72 1 91 1 49 1 41"/><path d="M0 463l1-23 1 22 1 45 1 37 1 26 1 21 1 7 1 7 1-12 1-43 1-38 1-19 1 6 1 54 1 64 1 19 1-6 1 1 1-23 1-55 1-59 1-32 1-3 1-4 1-14 1 2 1 8 1 4 1 20 1 9 1-22 1-23 1-8 1-7 1-18 1-6 1 11 1-30 1-55 1-18 1 0 1-1 1 32 1 48 1 47 1 28 1 20 1 30 1 57 1 72 1 38 1-18 1-40 1-17 1 20 1 33 1-22 1-30 1-53 1-33 1-17 1 11 1 23 1 7 1-9 1-5 1-6 1 3 1 29 1 31 1 4 1-26 1-32 1-13 1 5 1 14 1 44 1 56 1 2 1-57 1-6 1 63 1 55 1-5 1-31 1-23 1-48 1-52 1-20 1-2 1-6 1-2 1 17 1-14 1-64 1-61 1-29 1 20 1 44 1 22 1-22 1 6 1 52 1 63 1 39 1 9 1-18 1-15 1 29 1 57"/><path d="M0 589l1-12 1-16 1-32 1-33 1-43 1-26 1 10 1 34 1 27 1 6 1-15 1-12 1 45 1 65 1 43 1 22 1-21 1-51 1-46 1-3 1 7 1 9 1-3 1-15 1-6 1 9 1-5 1-30 1-37 1-41 1-27 1 16 1 26 1 25 1 61 1 50 1-9 1-19 1 20 1 6 1-62 1-55 1 17 1 58 1 20 1-14 1-3 1 22 1 10 1-15 1 0 1 16 1-11 1-28 1-22 1-17 1-5 1 21 1 39 1 20 1-22 1-27 1 13 1 43 1 13 1-24 1-19 1-4 1-5 1 4 1-2 1-12 1-13 1-2 1 44 1 43 1-2 1-25 1-8 1-1 1-9 1 8 1 42 1 49 1 24 1 14 1 16 1-3 1-38 1-62 1-58 1-20 1-8 1-25 1-14 1 24 1 31 1 28 1 25 1 23 1 32 1 39 1 5 1-24 1 2 1 35 1 45 1 4 1-63 1-60"/><path d="M0 536l1 22 1 27 1-1 1-39 1-50 1-11 1 46 1 55 1 11 1-9 1 13 1 37 1 22 1-5 1-1 1 0 1-19 1-40 1-45 1-48 1-20 1 43 1 65 1 11 1-45 1-54 1-26 1-1 1-7 1-23 1-43 1-36 1 7 1 47 1 69 1 27 1-7 1-27 1-41 1-16 1 31 1 36 1 17 1 10 1 5 1-11 1-20 1-26 1-26 1-26 1-37 1-30 1 6 1 26 1 43 1 56 1 52 1 42 1 35 1 29 1 9 1-8 1-5 1-8 1-8 1-1 1-5 1-34 1-28 1-3 1 4 1 5 1 20 1 35 1 8 1-22 1-11 1 10 1 1 1-8 1 4 1 25 1 22 1 11 1 8 1-8 1-16 1-14 1-13 1 0 1 10 1 2 1-31 1-54 1-44 1-33 1-33 1-14 1 9 1 26 1 36 1 21 1 3 1-19 1-33 1-37 1-18 1 19 1 51 1 71"/><path d="M0 585l1-15 1-3 1 0 1-2 1-14 1-24 1-20 1 38 1 80 1 52 1 11 1-10 1-22 1-15 1-17 1 4 1 21 1-15 1-22 1-11 1-27 1-30 1-30 1-34 1-27 1-29 1-14 1 4 1-18 1-33 1-2 1 36 1 18 1-8 1 24 1 57 1 46 1 26 1-19 1-31 1 3 1 43 1 17 1-9 1-50 1 2 1 30 1 27 1 45 1 39 1-12 1-51 1-19 1 17 1-17 1-40 1 10 1 49 1 12 1 2 1 15 1-12 1-25 1-9 1 3 1 5 1 6 1 8 1 24 1 28 1-11 1-52 1-27 1 29 1 41 1 3 1-19 1 19 1 38 1 13 1 7 1 26 1 13 1-16 1-2 1 27 1 17 1-24 1-49 1-39 1-26 1-22 1 2 1 28 1-29 1-26 1-16 1-34 1-11 1 35 1 70 1 47 1 5 1 8 1 16 1 16 1-7 1-43 1-47 1-22"/><path d="M0 601l1 38 1-3 1-56 1-82 1-43 1 6 1 13 1 8 1 15 1 6 1-2 1-15 1-16 1 21 1 22 1 1 1-28 1-58 1-50 1 1 1 33 1 48 1 37 1 22 1-17 1-23 1 20 1 42 1-10 1-44 1 11 1 25 1-59 1-123 1-86 1-23 1 13 1 23 1 39 1 45 1 52 1 39 1 22 1 1 1-10 1 3 1 6 1 3 1-5 1-18 1-19 1 3 1 16 1 52 1 86 1 19 1 17 1-19 1-48 1-14 1 5 1-18 1-40 1-4 1 34 1 35 1 33 1 48 1 45 1 28 1 16 1-9 1-3 1 2 1-28 1-66 1-54 1-16 1 12 1 31 1 47 1 35 1 10 1-2 1-35 1-66 1-67 1-32 1 16 1-4 1-47 1-27 1 17 1 11 1-17 1-10 1-15 1 0 1 38 1 37 1 16 1 18 1 19 1-5 1-18 1-3 1-30 1-65 1-24 1 38"/><path d="M0 634l1-25 1-30 1-35 1-37 1-19 1 17 1 15 1-19 1-12 1-3 1-20 1-41 1-26 1 9 1 49 1 56 1 27 1 8 1-5 1 15 1 35 1 24 1 4 1-34 1-68 1-3 1 11 1 39 1 37 1-4 1-26 1-4 1-6 1-25 1-22 1-7 1 13 1 19 1-19 1-22 1 3 1-22 1-47 1-16 1 26 1 34 1 6 1-2 1-13 1-25 1 12 1 54 1 40 1 9 1-1 1-21 1-35 1-5 1 11 1-26 1-46 1 2 1 42 1 31 1 26 1 37 1 12 1-1 1 19 1 24 1 2 1-24 1-19 1 15 1 18 1-11 1-13 1 22 1 23 1-8 1-15 1 16 1 24 1-5 1-16 1-1 1 9 1 6 1 13 1 0 1-26 1-17 1-14 1-25 1-35 1-27 1-7 1 32 1 58 1 33 1-1 1-3 1-2 1 0 1 14 1 26 1 32 1 31 1 27 1 34"/><path d="M0 520l1-16 1-8 1-13 1-25 1-26 1 30 1 68 1 30 1-3 1-8 1-20 1-22 1-10 1-1 1-1 1 18 1 30 1-2 1-52 1-58 1-7 1 26 1 31 1 17 1-17 1-34 1-29 1-18 1 15 1 31 1 21 1 3 1-26 1-23 1 47 1 107 1 50 1 20 1 21 1-4 1-24 1-50 1-84 1-55 1-11 1-4 1-11 1 10 1 52 1 63 1 44 1 19 1 8 1 5 1-5 1-36 1-59 1-39 1 1 1 27 1 38 1 26 1-10 1-11 1-3 1 0 1 8 1 6 1 11 1 15 1 8 1-1 1 22 1 62 1 49 1-16 1-48 1-17 1 49 1 43 1-22 1-17 1-32 1-25 1-9 1-2 1-9 1-24 1-26 1-20 1 10 1 27 1-6 1-36 1-28 1-25 1-62 1-52 1 13 1 48 1 51 1 38 1 6 1-16 1-21 1-7 1 33 1 52 1 31 1 45"/><path d="M0 426l1 5 1-9 1-29 1-18 1-19 1-20 1-6 1 17 1 24 1 33 1 49 1 62 1 52 1 32 1 26 1 42 1 39 1 25 1 2 1-11 1-12 1-10 1-23 1-85 1-75 1-10 1 1 1-18 1-31 1-36 1-36 1 6 1 42 1 23 1-2 1-32 1-23 1 26 1 31 1 3 1 2 1-3 1-29 1-7 1 9 1-9 1-4 1-9 1 6 1 45 1 29 1-1 1-16 1-13 1-2 1 1 1-4 1-5 1-5 1-4 1 11 1 12 1 10 1 27 1 22 1 10 1-2 1-10 1-8 1-2 1-18 1-33 1 3 1 24 1-26 1-67 1-28 1 14 1 9 1 18 1 43 1 46 1 25 1 12 1 14 1 8 1 1 1 5 1-23 1-39 1-18 1-8 1-15 1-8 1 18 1 25 1 19 1 12 1 11 1-34 1 1 1 38 1 17 1-30 1-33 1 9 1 14 1-10 1-19 1 1"/><path d="M0 419l1 3 1 13 1 30 1 15 1-8 1 7 1 42 1 43 1 15 1-7 1 5 1 14 1-4 1 6 1 44 1 42 1-9 1-38 1-29 1-27 1-51 1-54 1-42 1-17 1 11 1 20 1 5 1 24 1 59 1 48 1-14 1-59 1-38 1 9 1 24 1 16 1 20 1 24 1-1 1-15 1 0 1 21 1 23 1 1 1-34 1-51 1-30 1 0 1 19 1 40 1 39 1 14 1-7 1-9 1-8 1 0 1 14 1 8 1-16 1-23 1-21 1-14 1-6 1-20 1-22 1 29 1 77 1 75 1 38 1 7 1-16 1-14 1 21 1 18 1-1 1-7 1-8 1-28 1-54 1-47 1-23 1 4 1 11 1 22 1 23 1-16 1-35 1 2 1 22 1-1 1-26 1-43 1-42 1-27 1-18 1-1 1-16 1-30 1-5 1 34 1 39 1 45 1 83 1 55 1-14 1-45 1-32 1-8 1 1 1-9"/><path d="M0 576l1-17 1-54 1-23 1 0 1-16 1 15 1 53 1 47 1 19 1 14 1 32 1 38 1 40 1 40 1-8 1-29 1-26 1-26 1-27 1-19 1-13 1-15 1-19 1-25 1-18 1-8 1-29 1-20 1 3 1-16 1-12 1 57 1 105 1 51 1-31 1-68 1-78 1-56 1-11 1 3 1-8 1-19 1-18 1 1 1 37 1 53 1 27 1 15 1 18 1-11 1-24 1-8 1-12 1-19 1-4 1 4 1-9 1-16 1-2 1 26 1 49 1 42 1 24 1 14 1 8 1 3 1 26 1 50 1 2 1-10 1-60 1-29 1 3 1 14 1 23 1 36 1-4 1-5 1-55 1-30 1 16 1 52 1 40 1 4 1-13 1-23 1-27 1-21 1-19 1-16 1-21 1-32 1-28 1-13 1-12 1-33 1-23 1 11 1 36 1 39 1 15 1-6 1-8 1-26 1-22 1 14 1 19 1 2 1 6 1 33"/><path d="M0 574l1-24 1-30 1-6 1 17 1-1 1 1 1 22 1 42 1 43 1 20 1 2 1-25 1-38 1-15 1 6 1 8 1 5 1 17 1 18 1-18 1-51 1-59 1-46 1-8 1 51 1 57 1 16 1 6 1 26 1 27 1 8 1 9 1 4 1-43 1-55 1-41 1-74 1-88 1-65 1-2 1 13 1-8 1 2 1 17 1 51 1 75 1 59 1 40 1 13 1-23 1-26 1-18 1-7 1 14 1 37 1 41 1 22 1 3 1-5 1-28 1-40 1-23 1 4 1 28 1 26 1 23 1 26 1 27 1 21 1 3 1-14 1-4 1 3 1-24 1-51 1-40 1-25 1-15 1-2 1-9 1 8 1 43 1 17 1-6 1 9 1 16 1 10 1-6 1-29 1-37 1-15 1-1 1 8 1 17 1 14 1-13 1-26 1-3 1 26 1 19 1-16 1-18 1 8 1 5 1 7 1 31 1 39 1 28 1 23 1 13"/><path d="M0 579l1-17 1-33 1-33 1-21 1-18 1 12 1 38 1 23 1-1 1 8 1 45 1 60 1 64 1 63 1 28 1-10 1-20 1-17 1-15 1-26 1-42 1-35 1-20 1-55 1-93 1-84 1-50 1-19 1 20 1 49 1 40 1 4 1-26 1-6 1 33 1 39 1 31 1 23 1 6 1 10 1 25 1 0 1-42 1-40 1-14 1-12 1-14 1 13 1 34 1 20 1-1 1-20 1-26 1-26 1-3 1 32 1 41 1 47 1 37 1 2 1-20 1-12 1 3 1-9 1-22 1 4 1 25 1 13 1-6 1-15 1-3 1 3 1-5 1 4 1 15 1 26 1 33 1 25 1 19 1-5 1-40 1-44 1-7 1 22 1 12 1-21 1-44 1-24 1 9 1 23 1 9 1-13 1-16 1-15 1-43 1-61 1-41 1-4 1 33 1 38 1 26 1 32 1 35 1 2 1-39 1-44 1-9 1 3 1 7 1 41"/><path d="M0 617l1 12 1-6 1-29 1-44 1-57 1-10 1 43 1 41 1 18 1-20 1-57 1-18 1 24 1-7 1-11 1 54 1 91 1 28 1-9 1-69 1-22 1-5 1-36 1-37 1-24 1-25 1-35 1-8 1 35 1 4 1-44 1-13 1 13 1 3 1 72 1 97 1 50 1 43 1 27 1 11 1-39 1-93 1-69 1-28 1-15 1 0 1 15 1 9 1 1 1 23 1 44 1 46 1 44 1 34 1 4 1-22 1-19 1 9 1 3 1-23 1-24 1-16 1-26 1-25 1 0 1 0 1 16 1 51 1 42 1 38 1 26 1-14 1-27 1-16 1-41 1-50 1-19 1 4 1 16 1 15 1 4 1-1 1-3 1-13 1-23 1-11 1-17 1-14 1 20 1 20 1-2 1-17 1-37 1-28 1 6 1 14 1-11 1-15 1 25 1 65 1 54 1 38 1 43 1 25 1 3 1 10 1-3 1-3 1 33 1 43"/><path d="M0 647l1-32 1-47 1-14 1 18 1 9 1 5 1 34 1 55 1 23 1-7 1-19 1-45 1-32 1 16 1 25 1 3 1-27 1-34 1-18 1 0 1 7 1 15 1 5 1-20 1-31 1-58 1-65 1-14 1 17 1 6 1 6 1 19 1 22 1 17 1 20 1-10 1-42 1-43 1-11 1 28 1 5 1-26 1-30 1-11 1 43 1 68 1 62 1 43 1 32 1 28 1 12 1-18 1-21 1 2 1 3 1-16 1-7 1 25 1 37 1 13 1-8 1-8 1-26 1-50 1-41 1-20 1-3 1 17 1 16 1-8 1-19 1-28 1-24 1-9 1 1 1 17 1 24 1 22 1 28 1 33 1 21 1 30 1 50 1 25 1-34 1-77 1-66 1-43 1-18 1 2 1 9 1-3 1-19 1-23 1-7 1 28 1 36 1 22 1 23 1 19 1 3 1 15 1 28 1 0 1 0 1 17 1-1 1 2 1 21 1 20"/><path d="M0 397l1 31 1 31 1-1 1-19 1-42 1 9 1 51 1 72 1 100 1 75 1 9 1-29 1-10 1 24 1 37 1 4 1-42 1-39 1-5 1 0 1-44 1-55 1 7 1 10 1-32 1-35 1-21 1-24 1-13 1 0 1-12 1-20 1-44 1-30 1 31 1 43 1 13 1 13 1 51 1 54 1 17 1-29 1-7 1 25 1 32 1 31 1 10 1-22 1-30 1-13 1 3 1 3 1 0 1 9 1-2 1-20 1-27 1-24 1-5 1 14 1 13 1-11 1-38 1-39 1 4 1 29 1 12 1 3 1 18 1 17 1 0 1 8 1 25 1 16 1-1 1-8 1 3 1 18 1 6 1-1 1 10 1 18 1 36 1 26 1-3 1-27 1-72 1-43 1-13 1-3 1 11 1 9 1-25 1-55 1-41 1 6 1 41 1 43 1 21 1-8 1-3 1 19 1 17 1-14 1-39 1-22 1 10 1 23 1 68 1 115"/><path d="M0 476l1-11 1-16 1-1 1 27 1 13 1-8 1-6 1 19 1 25 1 7 1 17 1 37 1 23 1-8 1-2 1 44 1 36 1-11 1-38 1-20 1 3 1-35 1-66 1-47 1-17 1 10 1 25 1 27 1 38 1 31 1 25 1 43 1 36 1 14 1-8 1-63 1-60 1-5 1 8 1 30 1 51 1 23 1-8 1-18 1-41 1-37 1-12 1 5 1 15 1 16 1-4 1-7 1-5 1-14 1-22 1-25 1-33 1-12 1 30 1 38 1 23 1 11 1 6 1-1 1 11 1 24 1 54 1 42 1 5 1-25 1-27 1-20 1-12 1 7 1 5 1-28 1-29 1 1 1 5 1-20 1-32 1-7 1 34 1 50 1 43 1 28 1 9 1-7 1-33 1-42 1-29 1-16 1-19 1-18 1 2 1 4 1-12 1 16 1 56 1 52 1 19 1-32 1-52 1-53 1-47 1 3 1 44 1 27 1 3 1 46"/><path d="M0 409l1 6 1-26 1-32 1 15 1 33 1 24 1-7 1-15 1 26 1 32 1 1 1 1 1 39 1 35 1-23 1-56 1-22 1 46 1 56 1 32 1 23 1 13 1-2 1-8 1-16 1-27 1-23 1-20 1-36 1-55 1-58 1-37 1-22 1-14 1 18 1 16 1 4 1 45 1 88 1 60 1 4 1-5 1 12 1 23 1 20 1-29 1-41 1-8 1-10 1-43 1-33 1 10 1 33 1 17 1 6 1 30 1 44 1 26 1 9 1 0 1-13 1-1 1-5 1-42 1-35 1 21 1 46 1 28 1 27 1 39 1 12 1-6 1 10 1-2 1-46 1-42 1 1 1 19 1-11 1-26 1-18 1-7 1 30 1 42 1-14 1-41 1-29 1-33 1-41 1-36 1-10 1 20 1 42 1 8 1-32 1-45 1-22 1 16 1 32 1 34 1 43 1 60 1 54 1 5 1-36 1-43 1-30 1-16 1-33 1-8"/><path d="M0 411l1-11 1 2 1 5 1-25 1-51 1 2 1 48 1 77 1 74 1 30 1 5 1-18 1-61 1-47 1 19 1 41 1-10 1-27 1-19 1-21 1-2 1-2 1-5 1-7 1 20 1 28 1 14 1 12 1 0 1 6 1 21 1-42 1-96 1-32 1 45 1 59 1 53 1 48 1 20 1-16 1-35 1-13 1 8 1 13 1 7 1-23 1-52 1-30 1-13 1-29 1-32 1-10 1 15 1 15 1 7 1 3 1 20 1 47 1 42 1 5 1 0 1 36 1 53 1 13 1-15 1 0 1 10 1 10 1 13 1 14 1-8 1-25 1 1 1 22 1-14 1-30 1 27 1 65 1 41 1-7 1-40 1-30 1-6 1-6 1-32 1-29 1 3 1 17 1 12 1-13 1-38 1-54 1-49 1-33 1-8 1 7 1 20 1 40 1 39 1 29 1 49 1 56 1 17 1-41 1-68 1-42 1-3 1 22 1 88 1 83"/><path d="M0 429l1 22 1 2 1-21 1-19 1-15 1 0 1 31 1 70 1 39 1-1 1-14 1-19 1 14 1 20 1 37 1 26 1 30 1 37 1 1 1-48 1-34 1 1 1-2 1-18 1-7 1 15 1 3 1-27 1-39 1-15 1 19 1 11 1-13 1-45 1-27 1 38 1 47 1 22 1 16 1 38 1 24 1-26 1-32 1-8 1 4 1 4 1-7 1-10 1 2 1 5 1-5 1-19 1-20 1-9 1 0 1 17 1 30 1 23 1 12 1 7 1 13 1 29 1 24 1 4 1-11 1-18 1-8 1-1 1 11 1 15 1-20 1-42 1-19 1 14 1 11 1-14 1-25 1 13 1 11 1 27 1 33 1 45 1 40 1 6 1 4 1 3 1-32 1-46 1-45 1-34 1-32 1-38 1-33 1-18 1 13 1 15 1-7 1-11 1 7 1 14 1 14 1 20 1 19 1 8 1 14 1 21 1-2 1-16 1 16 1 43"/><path d="M0 626l1-18 1-33 1-30 1-32 1-22 1 19 1 35 1 33 1 30 1 35 1 51 1 43 1-13 1-28 1 18 1 32 1-29 1-80 1-77 1-53 1-34 1-27 1 2 1 33 1 11 1-13 1 5 1 22 1 25 1-14 1-47 1 0 1 19 1-22 1-20 1 4 1 23 1 28 1-12 1-36 1-11 1 31 1 49 1 13 1-13 1 17 1 7 1-25 1-23 1 3 1-1 1-38 1-27 1 18 1 37 1 61 1 26 1-24 1-34 1-23 1-17 1 25 1 80 1 77 1 11 1-8 1 32 1 22 1-34 1-53 1-30 1-9 1 12 1 56 1 76 1-5 1-75 1-26 1 18 1 25 1-2 1-35 1-36 1-42 1-59 1-29 1 1 1 0 1-3 1-9 1-29 1-17 1 19 1 0 1-15 1 32 1 67 1 49 1 35 1 39 1 22 1-8 1-35 1-52 1-56 1-59 1-37 1-12 1-5 1 24"/><path d="M0 559l1-10 1 18 1 44 1 3 1-64 1-63 1-28 1-6 1 6 1 26 1 24 1 5 1 13 1 2 1-20 1-18 1-14 1-4 1 13 1 36 1 26 1 3 1-3 1 3 1 19 1 5 1-81 1-112 1-56 1-38 1-59 1-19 1 59 1 64 1 53 1 65 1 82 1 61 1-13 1-60 1-35 1 21 1 55 1 28 1-13 1-20 1 6 1 23 1 6 1-24 1-41 1-48 1-19 1 24 1 12 1-13 1 20 1 47 1 39 1 20 1 10 1 15 1 16 1-12 1-29 1-17 1 10 1 38 1 45 1 15 1-20 1-34 1-36 1-18 1 17 1 21 1-19 1-47 1-14 1 18 1 13 1 10 1 18 1 29 1 41 1 16 1-28 1-36 1-30 1-23 1-26 1-19 1-24 1-30 1-18 1 0 1 3 1-6 1 2 1-2 1-27 1-18 1 12 1 33 1 41 1 62 1 51 1 34 1-10 1-41"/><path d="M0 550l1-21 1-23 1-20 1-11 1 0 1 19 1 36 1 41 1 21 1-12 1-17 1-1 1 21 1 43 1 35 1-19 1-61 1-52 1-7 1 37 1 29 1-10 1-11 1 17 1 40 1 31 1-2 1-35 1-55 1-50 1-27 1-8 1 21 1 24 1 2 1 18 1 35 1 3 1-46 1-40 1 10 1 17 1-12 1-9 1-5 1-12 1-2 1 0 1 15 1 25 1 4 1-14 1-23 1-19 1 3 1 11 1-5 1-9 1-11 1-7 1 8 1 29 1 51 1 42 1 22 1 32 1 34 1 11 1-6 1-14 1-29 1-33 1 19 1 58 1 18 1-15 1-6 1-13 1-35 1-34 1-37 1-28 1-5 1-4 1-22 1-25 1-28 1 1 1 38 1 30 1 7 1 27 1 45 1-14 1-44 1-76 1-67 1-5 1 30 1 33 1 30 1 49 1 83 1 29 1-19 1 11 1 26 1-8 1-28 1 8"/><path d="M0 424l1 5 1 11 1 14 1 25 1-11 1-50 1-36 1 10 1 42 1 35 1 27 1 36 1 37 1 41 1 43 1 9 1-18 1 4 1 3 1-16 1-11 1 6 1 17 1-14 1-78 1-119 1-82 1-20 1 33 1 42 1 28 1 22 1 32 1 2 1-39 1-19 1 23 1 39 1 11 1-14 1 1 1 20 1 9 1-7 1 10 1 51 1 38 1-8 1-27 1-37 1-34 1 26 1 46 1-4 1-7 1 12 1-7 1-14 1-9 1-18 1-17 1-2 1 3 1-5 1-19 1-21 1-29 1 22 1 23 1 47 1 25 1 2 1 11 1 31 1 21 1 2 1-9 1-15 1 11 1 36 1 27 1 2 1-8 1-9 1-33 1-39 1-3 1 4 1-27 1-31 1-7 1-20 1-44 1-25 1 18 1 38 1 21 1 20 1 41 1 43 1 5 1 5 1 49 1 23 1-43 1-20 1 26 1 26 1 11 1 25"/><path d="M0 490l1 53 1 61 1 16 1-32 1-31 1-26 1-11 1 13 1 48 1 25 1-10 1-22 1-26 1-20 1 19 1 55 1 47 1-3 1-38 1-22 1-13 1-26 1-16 1-12 1-25 1-24 1-1 1 10 1-9 1-11 1 10 1 22 1 56 1 86 1 27 1-17 1-95 1-89 1-62 1-23 1-8 1-10 1-11 1 6 1 45 1 42 1 5 1 7 1 38 1 20 1-20 1-18 1 3 1 1 1-2 1 8 1 29 1 26 1 15 1 11 1 4 1 17 1 26 1 22 1 38 1 43 1 13 1-23 1-22 1-4 1-10 1-25 1-31 1-33 1-22 1 4 1 37 1 32 1 27 1 45 1 23 1-3 1-15 1-11 1-22 1-38 1-70 1-60 1-7 1 27 1 27 1-2 1-17 1-2 1 11 1 11 1 7 1 36 1 53 1 18 1-9 1-3 1-14 1-45 1-52 1-60 1-88 1-45 1 17 1 41"/><path d="M0 532l1 39 1 27 1 7 1 30 1 9 1-37 1-53 1-4 1 39 1 39 1 42 1 34 1-12 1-34 1-13 1-7 1-49 1-71 1-39 1 20 1 46 1 15 1-21 1-18 1-3 1-8 1-37 1-58 1-50 1-54 1-70 1-15 1 48 1 44 1 65 1 99 1 67 1 25 1-6 1-14 1 9 1 19 1 8 1-14 1-14 1 25 1 43 1 19 1-12 1-24 1-13 1-4 1-11 1-18 1-1 1 12 1-1 1 2 1 9 1 8 1 19 1 6 1-19 1 12 1 50 1 18 1-19 1-10 1 3 1 27 1 30 1 10 1 14 1-4 1-24 1-16 1 4 1-9 1-43 1-55 1-13 1 24 1 21 1-13 1-28 1 10 1 23 1-16 1-54 1-48 1-17 1-23 1-37 1-12 1 21 1 47 1 2 1-2 1 66 1 94 1 45 1 7 1-18 1-59 1-61 1-6 1 24 1-9 1-18 1-8"/><path d="M0 324l1 29 1 22 1 55 1 68 1 44 1 60 1 58 1 22 1-12 1-26 1-23 1-38 1-42 1-14 1 17 1 39 1 44 1 31 1 6 1 11 1 17 1-20 1-63 1-66 1-41 1-24 1-14 1-24 1-6 1 37 1 31 1 4 1 4 1-7 1 1 1 19 1-4 1-6 1-16 1-29 1-14 1 27 1-12 1-62 1 6 1 52 1 37 1 23 1 15 1-5 1-13 1 8 1-5 1-9 1 10 1 17 1 25 1 13 1-29 1-45 1-3 1 26 1 15 1 6 1-6 1 5 1 16 1-3 1 11 1 13 1-16 1-13 1 18 1 42 1 40 1 15 1-11 1-23 1-44 1-54 1-31 1 12 1 31 1 8 1-24 1-9 1 21 1 17 1-8 1-35 1-62 1-63 1-11 1 17 1-3 1 9 1 13 1 1 1 10 1 17 1 21 1 17 1 2 1 9 1 11 1-28 1-52 1-2 1 16 1 12"/><path d="M0 523l1-28 1-18 1-8 1-9 1-3 1 34 1 47 1 47 1 35 1 30 1 4 1-12 1-44 1-14 1 46 1 49 1 1 1-36 1-35 1-6 1 26 1 13 1-24 1-26 1 24 1 54 1 3 1-8 1-18 1-50 1-96 1-104 1-83 1-21 1 61 1 66 1 12 1-5 1 16 1 29 1 21 1 1 1-7 1-24 1-36 1-19 1 1 1 13 1 40 1 70 1 36 1-35 1-37 1 19 1 29 1-18 1-39 1-16 1 21 1 83 1 90 1 35 1 25 1 29 1-4 1-11 1-58 1-46 1-7 1 17 1 24 1 21 1-7 1-26 1 4 1 22 1 8 1-4 1-11 1 7 1-4 1-11 1 8 1-4 1-35 1-25 1 0 1 8 1 2 1-2 1 9 1-5 1-36 1-46 1-46 1-34 1 9 1 61 1 47 1-6 1-16 1 20 1 37 1-1 1-40 1-16 1 43 1 69 1 47 1 16"/><path d="M0 475l1 8 1 23 1 9 1-10 1-21 1-15 1 10 1 22 1 1 1-25 1-6 1 25 1 38 1 28 1 19 1 9 1-26 1-28 1-17 1-2 1-3 1-8 1 7 1 7 1-19 1-26 1-13 1-7 1-23 1-40 1-62 1-57 1 17 1 85 1 81 1 61 1 48 1 28 1-6 1-26 1-27 1-19 1-17 1-47 1-36 1 7 1 5 1-7 1-17 1-18 1 9 1 14 1-4 1-13 1-1 1 3 1 8 1-3 1-10 1 6 1 41 1 56 1 57 1 57 1 41 1 19 1 3 1 9 1 29 1 24 1-1 1-28 1-47 1-55 1-39 1-22 1 5 1 35 1 42 1 39 1 39 1 20 1-14 1-18 1-27 1-47 1-49 1-16 1 12 1-6 1-35 1-24 1 0 1 9 1-18 1-45 1-15 1 30 1 29 1 15 1 48 1 41 1 60 1 26 1-14 1-19 1-15 1-9 1 30 1 69"/><path d="M0 432l1 26 1 27 1 26 1 20 1 9 1 18 1 19 1 5 1-23 1-19 1 9 1 6 1 7 1 24 1-2 1-31 1-26 1-19 1-17 1-8 1 10 1 22 1 13 1-11 1-40 1-42 1-14 1-20 1-67 1-51 1 0 1 18 1 40 1 59 1 62 1 33 1-14 1-3 1 15 1 20 1 3 1-47 1-57 1-9 1 28 1 24 1 12 1 12 1 17 1 22 1-1 1-13 1 8 1 6 1-17 1-33 1-38 1-14 1 31 1 42 1 26 1 20 1 23 1 41 1 60 1 67 1 47 1 12 1-28 1-37 1-18 1 6 1-5 1-11 1-16 1-6 1-5 1-30 1-59 1-67 1-24 1 22 1 27 1 9 1-14 1-31 1-25 1-23 1-30 1-30 1-19 1 3 1 29 1 40 1 14 1-13 1-4 1 18 1 17 1 18 1 44 1 76 1 68 1-1 1-55 1-46 1-50 1-77 1-46 1 11"/><path d="M0 551l1 24 1 18 1 11 1-17 1-44 1-40 1-67 1-77 1-25 1 17 1 38 1 42 1 21 1 20 1 58 1 45 1-3 1-17 1-1 1 24 1 8 1-41 1-56 1-24 1 13 1 29 1 35 1 31 1 10 1 0 1-8 1-13 1-8 1-11 1-2 1 24 1 25 1 7 1-3 1-8 1 6 1 11 1 2 1-15 1-43 1-45 1 1 1 13 1-18 1-38 1-16 1 34 1 31 1 1 1 10 1 16 1 16 1 24 1 31 1 15 1-32 1-53 1-26 1 11 1 21 1 7 1-13 1 13 1 35 1 24 1-21 1-36 1-20 1-12 1 0 1-9 1-34 1-35 1-12 1 25 1 44 1 18 1 0 1-3 1-9 1 4 1 23 1 9 1-21 1-49 1-27 1-20 1-10 1 7 1 19 1 27 1 28 1 54 1 79 1 46 1-14 1-26 1 1 1-6 1-25 1-19 1-14 1-15 1 3 1-11"/><path d="M0 721l1-29 1-37 1 10 1-1 1-56 1-68 1-41 1-10 1 15 1 25 1 19 1-18 1 3 1 69 1 67 1 33 1 22 1-3 1-26 1-25 1-27 1-38 1-14 1 1 1 6 1 17 1-6 1-47 1-43 1-32 1-29 1-44 1-65 1-27 1 59 1 78 1 66 1 59 1 1 1-34 1-41 1-44 1-41 1-8 1 19 1 30 1 29 1 2 1-22 1-13 1 12 1 25 1 17 1 15 1 32 1 48 1 54 1 31 1 1 1-29 1-50 1-43 1-22 1-16 1-16 1 11 1 41 1 40 1 39 1 49 1 20 1-39 1-57 1-11 1 31 1 20 1-13 1-23 1-50 1-89 1-73 1-14 1 30 1 29 1 12 1 18 1 20 1 24 1 31 1 25 1-3 1-8 1-6 1-24 1-32 1-4 1 36 1 32 1-3 1 14 1 60 1 54 1 9 1-33 1-37 1-23 1-21 1 10 1 28 1 4"/><path d="M0 383l1-20 1-4 1 31 1 54 1 20 1-5 1 18 1 56 1 45 1-11 1-70 1-54 1 17 1 33 1 17 1 13 1 13 1 12 1-3 1-23 1-2 1 55 1 57 1-6 1-46 1 9 1 34 1-8 1-50 1-45 1 5 1-13 1-28 1-13 1-2 1-6 1 3 1 26 1 4 1 0 1 30 1 57 1 15 1-51 1-27 1 17 1 13 1-3 1-16 1-31 1-17 1 10 1-11 1-31 1-4 1 6 1-5 1-2 1 24 1 60 1 65 1 22 1-26 1-18 1 6 1-21 1-25 1 3 1 10 1 3 1-14 1-7 1 19 1 17 1 5 1 14 1 31 1 16 1-22 1-31 1-34 1-30 1 2 1 17 1 3 1-7 1-18 1-25 1 12 1 33 1 17 1 13 1-2 1-42 1-35 1 2 1 18 1 13 1 10 1 0 1 7 1 32 1 12 1-15 1-7 1-8 1-10 1 16 1 33 1-1"/><path d="M0 388l1-7 1 16 1 33 1 35 1 36 1 18 1 23 1-15 1-50 1-19 1 53 1 54 1-1 1 5 1 37 1 16 1-16 1-13 1-12 1-21 1-42 1-47 1-13 1 12 1 20 1 28 1 12 1-19 1-52 1-46 1-28 1-16 1 8 1 70 1 66 1 49 1 70 1 45 1 22 1-11 1-43 1-77 1-49 1-21 1 1 1 33 1 23 1 10 1 47 1 62 1 23 1-15 1-31 1-38 1-32 1-21 1-7 1-1 1-3 1-16 1-17 1-3 1 22 1 30 1 17 1 21 1 36 1 14 1-9 1 0 1 10 1 9 1-12 1-34 1 1 1 55 1 12 1-56 1-51 1-38 1-42 1-9 1 21 1 12 1-4 1-4 1 14 1 11 1-23 1-38 1-8 1 29 1 16 1-18 1-15 1 0 1 2 1 13 1 23 1 52 1 54 1 14 1-5 1-26 1-45 1-38 1-29 1-42 1-38 1 10"/><path d="M0 413l1-20 1 2 1 39 1 43 1 31 1 36 1 21 1-11 1-8 1 21 1 41 1 47 1 18 1-4 1-6 1-9 1-24 1-12 1 6 1-10 1-17 1-2 1 9 1 7 1-18 1-32 1-57 1-83 1-39 1 0 1 31 1 44 1 57 1 51 1 18 1-25 1-8 1 7 1-30 1-28 1 12 1 28 1 23 1 12 1 29 1 41 1 4 1-18 1-15 1-15 1 4 1 40 1 40 1 8 1-18 1-6 1 15 1 7 1-45 1-59 1-56 1-25 1 14 1 26 1 19 1 6 1 10 1 15 1 0 1-5 1-7 1-3 1 4 1 6 1 15 1 23 1-4 1-20 1-7 1 9 1 10 1 11 1 8 1-5 1-13 1-30 1-44 1-38 1-37 1-30 1 9 1 45 1 45 1 17 1 10 1 12 1-6 1-6 1 1 1 1 1 20 1 27 1-14 1-68 1-58 1 2 1 34 1 30 1 43 1 107"/><path d="M0 633l1-31 1-28 1-16 1-36 1-46 1-9 1 5 1-20 1-41 1-1 1 28 1 49 1-6 1 1 1 32 1 30 1 36 1 62 1 46 1 3 1-1 1 24 1 18 1-26 1-52 1-43 1-53 1-78 1-91 1-65 1-9 1 52 1 40 1 13 1 32 1 11 1-11 1 16 1 47 1 58 1 29 1-16 1-35 1-20 1 14 1 46 1 41 1 18 1 14 1 16 1-5 1-40 1-57 1-35 1-16 1-13 1 5 1 16 1 16 1 32 1 40 1 19 1-11 1-29 1-14 1 18 1 41 1 19 1-7 1 9 1 11 1-18 1-30 1-29 1-6 1 13 1 11 1 23 1 11 1-33 1-25 1 21 1 22 1-29 1-45 1-48 1-52 1-6 1 21 1-15 1-56 1-47 1-12 1-7 1-12 1-6 1-6 1 24 1 59 1 64 1 47 1 21 1 20 1 15 1-16 1-36 1-12 1 13 1 15 1 22"/><path d="M0 391l1-6 1 11 1 14 1 11 1 12 1 46 1 56 1 48 1 46 1 26 1-6 1-61 1-57 1 19 1 36 1 39 1 32 1-9 1-42 1-43 1-47 1-27 1 14 1-18 1-76 1-66 1-27 1-10 1 16 1 48 1 45 1 13 1 8 1 39 1 56 1 33 1 5 1-2 1-13 1-16 1 15 1 51 1 56 1 13 1-36 1-47 1-21 1 19 1 15 1 1 1 7 1 7 1 14 1-3 1-4 1-39 1-37 1-17 1-17 1-26 1-18 1-9 1 3 1 38 1 52 1 27 1-8 1-30 1-27 1-3 1 19 1 24 1 17 1-7 1-20 1 6 1 9 1 1 1 22 1 23 1 26 1 27 1-26 1-54 1 0 1 20 1-21 1-37 1-15 1 11 1 6 1-24 1-26 1 1 1 7 1-7 1-36 1-47 1-8 1 19 1 8 1 14 1 36 1 15 1 7 1 37 1 12 1-18 1 13 1 55"/><path d="M0 558l1 3 1 28 1 12 1-36 1-86 1-59 1 26 1 42 1 0 1 9 1 4 1-31 1-11 1 55 1 68 1 14 1-32 1-22 1 15 1 3 1-43 1-11 1 72 1 40 1-59 1-49 1 3 1-14 1-49 1-20 1 18 1 10 1-15 1 9 1 84 1 82 1-7 1-61 1-52 1-41 1-42 1-43 1-53 1-4 1 19 1 65 1 67 1 43 1 11 1 36 1 41 1 8 1-12 1-28 1-31 1-39 1-28 1 15 1 39 1 24 1 6 1 9 1 31 1 12 1 6 1 45 1 51 1 40 1 17 1-35 1-59 1-42 1-13 1 7 1 4 1 17 1 45 1 51 1 13 1-28 1-27 1-30 1-25 1-9 1-13 1-12 1 9 1 12 1-8 1-40 1-39 1 1 1 10 1 2 1 2 1 0 1-3 1 11 1 29 1 27 1 19 1 2 1-28 1-40 1-10 1-14 1-25 1 13 1 45 1 5"/><path d="M0 545l1-26 1-33 1-7 1 32 1-4 1-28 1 8 1 27 1 4 1 7 1 25 1 9 1-2 1 5 1 19 1 32 1 5 1-19 1-40 1-57 1-31 1 6 1 8 1-23 1-28 1 5 1 26 1 24 1 4 1-25 1-48 1-55 1-56 1-28 1 27 1 45 1-1 1-26 1-34 1 8 1 24 1 19 1 21 1 26 1 3 1 8 1 14 1-8 1-28 1-25 1 2 1 28 1 14 1-5 1 18 1 38 1 11 1-16 1-13 1 7 1 24 1 3 1-6 1 39 1 43 1 47 1 10 1-27 1-19 1 4 1-6 1-15 1 7 1 11 1-12 1-2 1 2 1-13 1 5 1 5 1-25 1-24 1-1 1-5 1-20 1-15 1 19 1 17 1 17 1-22 1-27 1-30 1-51 1-43 1-2 1 5 1-19 1-9 1 38 1 86 1 92 1 59 1 29 1 1 1 10 1 19 1 8 1-3 1-26 1-36"/><path d="M0 491l1 38 1 31 1 15 1-19 1-46 1-18 1 4 1 15 1 35 1 29 1 0 1-28 1-41 1-33 1-16 1 15 1 38 1 61 1 39 1-18 1-34 1-9 1 24 1 28 1 5 1-6 1-4 1-13 1-27 1 7 1 23 1 29 1 41 1-32 1-46 1-33 1-29 1-9 1 8 1 1 1-8 1-33 1-31 1 26 1 74 1 35 1-12 1 9 1 2 1-40 1-53 1-28 1-3 1 17 1 31 1 6 1-29 1-18 1 18 1 19 1-19 1-29 1-15 1-19 1 23 1 46 1 53 1 25 1 43 1 51 1-4 1-33 1 11 1 25 1-7 1-25 1-37 1-12 1 26 1 9 1-24 1-11 1 6 1-2 1-22 1-44 1-51 1-11 1 28 1-2 1-51 1-44 1-13 1 7 1 33 1 57 1 61 1 61 1 55 1 29 1-5 1-4 1-18 1-45 1-32 1 6 1 22 1 4 1-3 1 43"/><path d="M0 592l1-18 1-29 1-36 1-2 1 41 1 41 1-22 1-72 1-55 1-7 1 32 1 56 1 31 1 5 1 13 1 18 1 9 1 9 1-16 1-42 1-9 1 22 1 4 1-7 1 13 1 5 1-35 1-42 1-22 1-4 1 16 1 33 1 12 1-46 1-68 1-45 1 3 1 28 1 47 1 69 1 32 1 2 1 41 1 55 1-9 1-15 1 15 1 12 1-1 1 15 1 35 1 8 1 0 1-46 1-59 1-52 1-8 1-7 1 44 1 20 1-25 1-37 1-20 1-14 1 1 1 26 1 9 1-6 1 14 1 31 1 31 1 11 1-6 1 0 1-6 1-10 1 4 1 5 1-7 1-10 1-16 1-9 1 15 1 36 1 29 1 23 1 18 1-4 1-8 1-4 1-20 1-40 1-51 1-61 1-59 1-37 1-12 1 10 1 41 1 67 1 69 1 52 1 19 1-3 1 8 1 24 1 28 1 18 1 5 1 13"/><path d="M0 511l1-22 1 0 1 10 1 0 1-48 1-42 1 19 1 60 1 44 1-1 1-11 1 15 1 18 1 22 1 32 1 12 1-12 1-11 1-33 1-40 1 11 1 29 1-32 1-71 1-47 1-35 1-21 1 16 1 70 1 107 1 65 1-16 1-56 1-53 1 7 1 44 1 18 1 0 1-11 1-34 1-37 1 24 1 64 1 37 1 5 1-9 1-25 1-37 1-23 1 22 1 48 1 5 1-44 1-43 1-6 1 15 1 14 1 3 1 5 1 5 1 5 1 1 1 9 1 44 1 24 1-1 1 38 1 36 1-26 1-37 1-22 1-29 1-34 1-48 1-51 1 7 1 51 1 18 1-26 1-16 1 4 1 20 1 32 1 8 1-27 1-23 1 24 1 41 1 6 1-15 1 7 1 15 1-16 1-33 1-19 1-3 1 13 1 17 1 4 1 6 1 2 1 38 1 32 1 21 1-12 1-8 1-23 1-52 1-75 1-50"/><path d="M0 466l1 57 1 47 1 28 1 0 1-39 1-40 1-12 1 9 1 5 1-6 1-18 1-31 1-12 1 25 1 44 1 58 1 53 1 28 1 6 1-2 1 21 1 20 1 0 1-38 1-73 1-63 1-57 1-25 1 43 1 65 1 6 1-41 1-47 1-66 1-40 1 26 1 52 1 8 1-46 1-37 1-12 1-25 1-47 1-19 1 11 1 42 1 54 1 40 1 25 1 21 1 38 1 23 1-9 1-27 1-16 1 24 1 42 1 21 1 4 1 18 1 30 1 0 1-36 1-54 1-40 1-13 1 20 1 54 1 51 1 37 1 11 1-17 1-17 1 2 1 2 1-5 1-13 1-22 1-10 1 5 1 25 1 34 1-7 1-40 1-39 1-42 1-28 1 2 1 22 1 36 1 28 1 1 1-21 1-12 1 1 1-5 1-28 1-9 1 32 1 30 1-7 1-25 1 2 1-11 1-15 1 54 1 105 1 98 1 61 1 13"/><path d="M0 531l1-3 1 20 1 53 1 39 1-10 1-36 1-27 1 2 1 16 1-12 1-36 1-22 1 19 1 26 1 14 1 30 1 31 1-18 1-77 1-58 1-7 1 13 1 8 1-17 1-1 1 45 1 33 1-15 1-28 1 1 1-7 1-60 1-23 1 58 1 72 1 14 1-36 1-20 1 23 1 29 1-8 1-15 1 11 1 10 1-10 1 6 1 31 1 37 1 58 1 49 1-15 1-47 1-27 1-2 1 15 1-23 1-42 1 29 1 62 1-13 1-79 1-76 1-14 1 29 1 17 1 23 1 43 1 50 1 41 1 11 1-16 1-18 1-16 1-27 1-17 1 8 1 19 1-15 1-46 1-7 1 12 1-12 1-24 1-43 1-33 1 3 1 17 1 12 1 12 1 10 1 12 1 26 1 4 1-52 1-55 1-3 1 30 1 22 1-11 1-17 1 22 1 47 1 14 1-10 1 22 1 69 1 90 1 62 1-34 1-22"/><path d="M0 485l1-47 1-63 1-44 1-34 1-23 1-2 1 41 1 80 1 69 1 9 1-2 1-49 1-34 1 22 1 74 1 77 1 17 1-28 1-22 1 13 1 28 1-2 1-27 1-20 1-20 1-15 1 12 1 38 1 26 1-3 1-14 1-8 1 1 1-13 1-28 1-13 1 29 1 12 1-17 1-11 1-9 1-29 1-50 1-40 1 2 1 45 1 57 1 21 1-3 1 8 1 12 1 1 1 1 1 14 1 15 1 8 1-5 1 2 1 18 1 2 1-36 1-32 1 10 1 36 1 38 1 12 1-13 1-3 1 22 1 26 1 25 1 23 1-28 1-84 1-75 1-18 1 31 1 32 1 3 1-20 1-14 1 18 1 26 1 15 1 6 1-5 1 3 1 21 1 9 1-15 1-20 1-13 1-25 1-33 1-34 1-43 1-10 1 39 1 57 1 60 1 68 1 66 1 33 1-17 1-53 1-53 1-39 1-27 1-23 1-20"/><path d="M0 657l1 3 1-18 1-40 1-45 1-29 1-23 1-24 1 26 1 58 1 17 1 18 1 71 1 81 1 40 1 16 1-5 1-60 1-33 1 21 1-18 1-61 1-51 1-33 1-20 1-21 1-35 1-37 1-18 1-19 1-40 1-18 1 46 1 61 1-5 1-53 1-53 1-7 1 46 1 61 1 62 1 34 1 6 1-22 1-27 1-12 1-29 1-29 1 23 1 42 1 3 1-31 1-16 1 32 1 63 1 30 1 9 1-25 1-19 1-1 1 8 1 10 1-4 1-9 1 18 1 28 1-2 1-7 1 26 1 35 1 23 1 3 1-31 1-60 1-84 1-69 1 19 1 61 1 14 1-10 1 25 1 38 1 18 1 8 1-3 1-35 1-40 1-25 1-8 1 14 1-4 1-24 1 3 1 18 1 0 1-7 1 16 1 37 1 35 1 44 1 50 1 27 1-7 1-35 1-46 1-38 1-15 1-16 1-11 1 13 1 31"/><path d="M0 526l1-2 1 5 1 15 1-3 1-53 1-39 1 7 1-5 1-30 1-24 1 12 1 44 1 51 1 73 1 65 1 0 1-48 1-40 1-26 1-24 1-6 1-17 1-17 1 23 1 38 1 49 1 6 1-39 1-46 1-12 1-14 1-23 1-3 1 11 1 35 1 38 1 21 1-24 1-85 1-65 1 0 1 44 1 58 1 52 1 50 1 35 1-1 1-41 1-38 1 16 1 42 1 3 1-34 1-40 1-53 1-39 1 23 1 72 1 43 1 23 1 70 1 75 1 11 1-25 1-5 1 18 1 5 1-26 1-46 1-26 1 1 1-19 1-27 1 14 1 17 1-21 1-11 1 40 1 35 1-1 1-26 1-45 1-15 1 26 1 3 1-52 1-55 1-23 1-9 1-19 1-20 1-5 1 30 1 29 1-8 1-16 1 9 1 34 1 41 1 29 1 22 1 24 1 18 1-16 1-51 1-35 1 4 1-2 1 33 1 101"/><path d="M0 620l1-23 1-21 1-15 1-6 1-13 1-24 1-11 1 24 1 48 1 56 1 45 1-28 1-65 1 1 1 69 1 47 1-29 1-60 1-39 1-9 1 12 1 11 1 6 1 6 1 0 1-14 1-34 1-49 1-40 1-9 1 9 1-5 1-39 1-54 1-30 1 2 1 33 1 20 1-10 1 12 1 59 1 69 1 31 1 16 1 42 1 40 1-8 1-30 1-14 1 3 1 0 1-7 1-25 1-49 1-32 1-13 1-27 1-3 1 39 1 23 1-6 1-11 1-3 1-5 1-21 1-17 1 31 1 62 1 49 1 21 1 12 1 14 1 10 1 10 1-10 1-31 1-33 1-20 1 1 1 11 1 26 1 39 1 9 1-9 1-10 1-7 1 4 1-6 1-37 1-40 1-11 1 2 1-12 1-22 1-3 1 7 1 1 1 22 1 11 1 27 1 3 1 17 1 51 1 11 1-48 1-31 1-1 1-18 1-17 1 42"/><path d="M0 582l1-16 1-9 1-10 1-19 1-4 1 12 1 16 1 50 1 81 1 35 1 12 1 26 1 12 1-51 1-56 1-22 1-10 1-20 1-34 1-34 1-47 1-19 1 59 1 85 1 50 1 13 1-25 1-56 1-51 1-21 1-27 1-42 1-41 1-59 1-51 1 11 1 71 1 73 1 30 1-14 1-12 1 14 1-12 1-62 1-55 1-10 1 29 1 48 1 28 1 1 1 3 1 7 1 32 1 63 1 25 1 1 1-25 1-31 1-11 1-2 1-5 1-2 1-10 1-5 1 35 1 58 1 41 1 22 1 33 1 40 1 7 1-37 1-42 1-6 1 24 1 26 1-4 1-24 1-19 1-12 1-7 1-15 1-19 1-16 1-27 1-21 1 20 1 36 1 16 1-12 1-20 1-13 1-10 1-5 1 2 1-5 1 9 1 42 1 22 1-10 1-5 1 0 1-34 1-64 1-33 1 24 1 32 1 19 1 32 1 42"/><path d="M0 467l1-1 1-22 1-15 1-38 1-65 1-15 1 40 1 39 1 29 1 32 1 19 1-20 1-26 1 0 1 21 1 29 1 33 1 39 1 32 1 27 1 22 1 20 1 11 1-26 1-60 1-59 1-43 1-53 1-64 1-25 1 41 1 98 1 48 1-21 1-16 1 11 1 40 1 77 1 4 1-39 1-81 1-45 1-21 1-14 1 1 1-7 1-20 1 6 1 19 1 6 1-2 1 4 1 32 1 19 1-23 1-11 1 1 1-19 1-24 1-12 1-7 1 5 1 24 1 13 1 17 1 57 1 56 1 25 1 27 1 40 1 15 1-30 1-52 1-26 1 3 1 24 1 35 1 0 1-33 1-5 1 28 1 16 1 8 1 1 1-19 1-39 1-45 1-18 1 5 1 15 1 8 1-30 1-65 1-12 1 12 1 25 1 16 1 47 1 52 1 27 1 0 1-7 1-3 1 3 1 10 1-8 1-31 1-25 1-11 1-10"/><path d="M0 502l1-11 1-23 1-2 1 18 1 1 1-5 1-10 1-30 1-35 1-9 1 29 1 19 1-13 1-12 1 7 1 10 1 6 1 7 1-4 1 12 1 60 1 71 1 34 1-9 1-18 1 11 1 28 1 4 1-13 1-4 1-21 1-75 1-88 1-47 1-10 1 24 1 14 1-1 1 28 1 37 1-4 1-3 1 23 1 14 1-25 1-50 1-5 1 52 1 33 1 5 1-2 1 1 1 23 1 43 1 27 1-16 1-43 1-45 1-49 1-33 1-12 1 10 1 32 1 54 1 66 1 54 1 27 1 2 1-9 1-17 1-25 1-15 1-9 1-24 1-46 1-47 1-12 1 19 1 21 1 12 1-15 1-27 1 3 1 12 1 2 1 6 1 4 1-5 1-15 1-3 1-1 1-14 1-19 1-35 1-29 1 26 1 56 1 31 1 8 1 11 1 37 1 72 1 57 1 9 1 5 1 21 1-2 1-30 1-27 1 12"/><path d="M0 529l1-45 1 9 1 45 1 58 1 13 1 16 1 39 1 32 1 3 1-26 1-9 1-12 1-29 1 6 1 64 1 76 1 23 1-20 1-40 1-62 1-50 1-15 1 5 1-17 1-52 1-23 1 23 1 9 1-5 1 22 1 40 1 55 1 31 1-17 1-17 1 10 1 9 1 10 1-14 1-24 1-36 1-60 1-47 1-48 1-52 1 11 1 60 1 42 1 22 1 10 1-7 1 2 1 32 1 34 1 1 1 6 1 24 1-3 1-25 1-11 1 9 1 2 1-2 1 4 1 7 1 10 1-7 1-33 1-37 1-8 1 22 1 33 1 31 1 1 1-34 1-23 1 14 1 16 1-12 1-25 1 2 1 43 1 42 1 12 1-16 1-42 1-38 1-6 1-16 1-51 1-13 1 35 1 0 1-38 1-15 1 1 1-16 1 15 1 73 1 97 1 67 1 22 1-3 1-28 1-34 1-46 1-66 1-6 1 72 1 54"/><path d="M0 500l1 0 1 10 1 39 1 35 1 11 1-3 1-28 1-29 1 5 1 39 1 28 1-19 1-19 1 48 1 86 1 43 1-19 1-31 1-30 1-14 1 13 1 30 1 6 1-50 1-64 1-49 1-36 1-23 1-20 1-48 1-67 1-24 1 18 1-2 1 11 1 41 1 46 1 42 1 20 1-12 1-1 1 10 1-7 1 6 1 5 1-14 1-14 1 11 1 38 1 31 1-19 1-26 1 12 1 16 1-19 1-23 1 17 1 57 1 68 1 40 1 15 1 4 1-13 1-44 1-48 1-21 1-6 1 12 1 19 1 5 1-13 1-22 1-3 1 20 1 50 1 35 1 1 1-42 1-64 1-41 1 16 1 38 1 17 1-2 1-5 1-29 1-61 1-53 1-26 1 1 1 8 1 2 1 10 1 24 1 47 1 67 1 58 1 15 1 4 1 22 1 15 1-4 1-5 1-18 1-70 1-83 1-40 1 34 1 65 1 57"/><path d="M0 615l1 3 1-9 1 2 1 23 1-15 1-53 1-47 1-17 1 19 1 54 1 53 1 17 1-18 1 2 1 35 1 45 1 35 1-6 1-44 1-23 1 10 1 1 1-27 1-41 1-36 1-2 1 1 1-45 1-51 1 2 1 39 1 33 1 23 1 33 1 4 1-40 1-17 1 34 1 24 1 15 1-15 1-71 1-49 1 36 1 52 1 6 1-17 1-11 1-16 1-15 1-9 1-8 1-10 1-10 1-18 1-26 1-23 1-35 1-30 1 15 1 79 1 81 1 65 1 36 1 5 1-17 1-5 1 1 1-7 1-4 1-5 1-10 1-27 1-50 1-27 1-3 1-4 1 23 1 17 1 24 1 24 1 18 1 26 1 44 1 27 1-23 1-32 1 2 1 8 1-17 1-39 1-41 1-26 1-16 1-2 1 14 1-14 1-28 1-11 1-11 1 4 1 11 1-4 1-1 1 31 1 63 1 70 1 42 1-13 1-32"/><path d="M0 686l1-2 1-48 1-77 1-103 1-86 1-30 1 31 1 54 1 8 1-30 1-20 1 0 1-10 1-9 1 7 1 30 1 35 1 75 1 42 1-25 1-26 1 43 1 67 1-9 1-67 1-47 1-19 1-9 1-20 1-45 1-15 1 65 1 80 1 5 1-28 1 9 1 34 1 12 1-23 1-23 1-9 1-6 1-2 1 12 1 0 1-19 1-43 1-19 1 1 1 10 1 38 1 25 1-20 1-29 1-2 1 18 1 32 1 25 1 7 1 5 1 10 1 15 1 18 1-5 1-27 1-23 1-6 1 16 1 28 1 8 1-25 1-25 1-17 1-6 1 3 1 9 1 20 1 12 1-28 1-29 1 37 1 73 1 50 1 4 1-40 1-45 1-1 1 37 1 11 1-28 1-5 1 9 1 10 1-1 1-37 1-27 1 11 1 4 1-4 1 21 1 35 1 30 1 21 1-1 1-32 1-29 1-6 1-8 1-5 1 33"/><path d="M0 543l1 53 1 24 1-13 1-14 1-31 1-44 1-25 1 17 1 45 1 27 1-14 1-21 1 2 1 17 1 19 1 8 1-15 1-30 1-16 1 28 1 36 1 8 1-15 1-34 1-38 1-12 1 18 1 8 1-34 1-34 1 4 1 17 1-19 1-39 1-46 1-36 1 7 1 42 1 35 1 37 1 22 1-3 1-5 1 10 1 20 1 23 1 19 1 6 1 5 1 10 1-12 1-43 1-48 1-28 1-3 1 8 1 7 1-5 1 7 1 47 1 66 1 27 1-27 1-51 1-6 1 57 1 71 1 53 1 37 1 17 1-28 1-48 1-28 1 4 1-15 1-25 1-5 1 2 1-24 1-35 1-7 1 44 1 68 1 40 1-23 1-38 1-40 1-5 1 40 1-6 1-55 1-70 1-61 1-21 1 16 1 12 1 11 1 39 1 61 1 58 1 30 1 17 1 15 1-11 1-39 1-30 1-4 1-8 1-17 1-10"/><path d="M0 555l1 32 1 22 1-31 1-21 1 0 1-13 1 7 1 46 1 44 1 15 1-3 1-19 1-7 1 34 1 37 1 22 1 26 1 3 1-55 1-47 1 5 1 21 1 3 1-35 1-49 1-37 1-28 1-25 1-8 1 23 1 14 1-1 1 53 1 80 1 42 1-37 1-71 1-26 1-23 1-47 1-60 1-14 1 15 1 61 1 40 1 10 1 10 1 25 1 6 1-47 1-56 1-17 1 26 1 29 1 20 1 14 1 16 1 25 1 30 1 23 1 8 1-9 1-23 1-34 1-2 1 35 1 18 1-3 1-23 1-37 1-34 1-22 1-6 1 17 1 14 1 1 1 19 1 19 1-10 1-18 1-13 1 9 1 31 1 2 1-34 1-44 1-46 1-23 1-7 1 5 1 3 1-11 1-3 1 28 1 21 1-5 1 9 1 34 1 49 1 63 1 23 1 20 1-14 1-26 1-16 1 8 1-12 1-38 1 2 1 53"/><path d="M0 502l1 25 1 10 1-2 1 18 1-6 1-19 1 13 1 47 1 39 1-6 1-36 1-52 1-28 1-1 1 1 1 22 1 24 1 13 1 6 1 0 1-6 1-5 1-5 1-27 1-9 1 9 1-24 1-33 1-26 1-39 1-24 1 49 1 69 1 6 1-50 1-48 1-1 1 29 1 36 1 4 1-24 1-29 1-26 1-4 1 21 1 13 1-17 1-13 1 11 1 18 1 9 1 28 1 31 1 12 1 16 1 7 1-18 1-31 1-7 1 34 1 34 1 25 1 32 1 25 1 9 1 9 1 5 1 3 1-9 1-7 1-5 1-22 1-1 1 42 1 24 1-25 1-36 1-22 1-32 1-39 1-25 1 17 1 63 1 68 1 37 1-5 1-42 1-21 1 6 1-34 1-72 1-30 1-27 1-1 1 18 1 38 1 54 1 37 1 27 1 31 1 30 1 17 1 3 1 8 1-7 1-35 1-51 1-42 1-28 1-11"/><path d="M0 367l1 22 1 52 1 53 1 13 1-32 1-14 1 55 1 100 1 46 1 2 1-24 1 22 1 25 1-17 1-4 1 13 1-27 1-61 1-40 1 3 1 5 1 3 1 29 1 25 1-5 1-7 1 8 1 17 1 17 1-10 1-42 1-38 1-2 1-21 1-65 1-46 1 36 1 86 1 12 1-59 1-30 1 0 1-8 1 4 1 46 1 48 1-9 1-42 1-32 1 4 1 38 1 53 1 58 1 44 1 28 1 28 1-11 1-33 1-61 1-33 1-18 1-11 1 9 1 8 1 1 1 26 1 34 1 5 1-12 1-13 1-16 1-15 1 1 1 14 1 9 1 8 1 13 1 2 1-30 1-40 1-34 1-24 1 8 1 27 1 3 1-28 1-32 1-18 1-2 1 14 1 12 1-11 1-22 1-15 1-9 1-14 1-20 1 7 1 25 1 25 1 47 1 73 1 55 1-11 1-45 1-31 1-12 1-9 1-22 1-4"/><path d="M0 557l1 6 1-13 1-28 1-6 1 29 1 51 1 34 1 0 1-22 1-36 1-41 1-39 1-37 1-15 1 27 1 27 1 15 1 22 1-17 1-83 1-37 1 25 1 65 1-5 1-45 1-28 1 7 1 25 1 10 1-6 1-7 1-10 1-6 1 10 1 25 1 23 1 26 1 37 1-5 1-59 1-48 1-5 1 5 1 3 1 11 1 4 1-17 1-22 1-19 1 0 1 33 1 32 1 1 1-18 1-12 1-8 1-8 1 15 1 35 1 37 1 57 1 60 1 37 1 12 1 6 1-5 1-2 1 8 1 7 1-18 1-25 1-33 1-49 1-62 1-22 1 31 1 5 1-38 1-2 1-5 1 21 1 28 1 46 1 30 1-17 1-34 1-10 1 19 1-1 1-39 1-54 1-36 1-4 1 2 1-14 1 10 1 52 1 34 1 26 1 57 1 56 1 21 1 0 1-18 1-42 1-42 1-38 1-33 1-13 1 15"/><path d="M0 519l1 28 1 4 1-35 1-8 1 31 1 44 1 13 1 0 1-23 1-24 1-14 1 15 1 36 1 4 1-34 1-18 1 14 1 34 1 8 1-34 1-22 1 30 1 7 1-44 1-8 1 48 1 22 1-12 1-58 1-28 1 20 1 15 1-24 1-33 1-8 1-9 1-16 1 9 1-2 1-36 1-42 1-42 1-39 1 4 1 38 1 34 1 33 1-6 1-42 1-20 1 16 1 55 1 37 1-9 1-26 1 15 1 41 1 25 1-1 1-19 1-28 1-10 1 27 1 56 1 62 1 35 1 6 1-1 1 13 1 7 1-22 1 3 1 57 1 41 1-16 1-10 1 16 1-14 1-56 1-54 1-7 1 37 1 31 1-9 1-56 1-63 1-15 1 25 1 20 1 0 1 4 1-11 1-29 1-24 1-18 1-8 1 2 1 2 1 23 1 46 1 34 1 17 1 31 1 9 1-30 1-28 1-2 1 35 1 65 1 34"/><path d="M0 625l1-34 1-40 1-17 1 3 1 18 1 26 1-5 1-38 1-52 1-51 1-15 1 28 1 33 1 35 1 59 1 58 1 30 1 35 1 64 1 7 1-34 1-24 1 8 1 1 1-5 1-32 1-47 1-50 1-38 1-29 1-12 1 33 1 15 1-33 1-13 1 25 1 18 1 18 1 32 1 5 1-6 1 4 1-2 1 0 1 0 1-10 1-10 1 9 1 32 1 32 1 10 1 8 1 18 1 3 1 0 1-46 1-17 1 25 1 7 1-46 1-41 1 7 1 32 1 20 1 4 1-17 1-30 1-16 1 9 1 4 1-9 1-14 1-20 1 2 1 32 1 13 1 4 1 23 1 3 1-52 1-70 1-4 1 45 1 27 1-6 1-11 1-11 1-23 1-27 1-13 1 3 1 2 1-5 1-1 1 18 1 31 1 22 1 12 1 12 1 12 1-3 1-13 1-26 1-50 1-51 1-16 1 43 1 54 1 28 1 46"/><path d="M0 454l1 4 1 43 1 22 1-9 1 9 1 33 1 15 1-5 1-10 1-11 1-3 1-20 1-19 1 13 1 19 1-3 1-24 1-2 1 7 1-16 1-4 1 40 1 39 1-26 1-48 1 0 1 15 1-8 1-6 1 24 1 41 1 30 1 19 1 18 1 25 1 23 1 23 1 11 1-45 1-69 1-34 1-36 1-81 1-35 1-18 1 13 1 45 1 20 1 4 1 29 1 64 1 43 1-4 1-23 1-26 1-32 1-12 1 5 1 1 1-8 1-13 1-9 1-9 1 7 1 43 1 57 1 32 1-10 1-7 1 18 1 28 1 28 1 20 1-4 1-10 1-9 1-6 1-1 1-15 1-36 1-14 1 29 1 37 1 16 1-9 1-30 1-37 1-27 1 13 1 40 1 27 1 6 1-12 1-16 1 8 1 3 1-25 1-11 1-23 1-9 1 26 1 19 1-34 1-64 1-27 1 13 1-1 1-15 1 19 1 83"/><path d="M0 468l1-13 1-20 1 3 1 4 1-24 1-3 1 54 1 72 1 23 1-2 1 16 1-3 1-43 1-39 1 2 1 40 1 55 1 52 1 28 1-17 1-48 1-19 1 11 1 2 1 0 1-10 1-44 1-17 1 7 1-42 1-74 1-27 1 5 1 52 1 44 1-16 1-36 1 22 1 57 1 6 1-63 1-38 1 31 1 59 1 66 1 57 1 34 1 0 1-11 1-9 1 16 1 6 1-26 1-30 1-10 1-18 1-24 1-6 1 5 1 11 1 17 1 23 1 16 1-18 1-41 1-14 1 4 1 1 1 22 1 29 1 22 1 21 1 10 1-18 1-52 1-63 1-44 1-43 1-66 1-14 1 47 1 82 1 86 1 52 1 22 1 5 1-39 1-58 1-35 1-2 1 20 1 6 1-49 1-85 1-72 1-12 1 23 1 33 1 54 1 53 1 29 1 6 1 1 1-6 1 10 1 49 1 53 1 27 1 10 1 18"/><path d="M0 491l1-13 1-30 1-24 1-3 1-11 1-13 1 1 1 38 1 67 1 35 1-10 1-19 1-17 1-2 1 21 1 36 1 25 1-12 1-35 1-25 1 4 1 27 1 16 1-24 1-18 1 17 1 26 1 30 1 22 1 10 1 0 1-14 1-45 1-91 1-58 1 21 1 61 1 63 1 19 1-46 1-54 1 0 1 23 1-26 1-49 1 10 1-4 1-14 1 5 1 13 1 24 1 50 1 54 1 13 1 9 1 34 1 11 1-12 1-4 1-1 1 4 1 26 1 36 1 11 1-21 1-12 1-3 1-8 1 0 1-1 1-14 1-22 1-23 1-6 1 21 1-4 1-23 1-28 1 1 1-4 1-11 1 11 1 25 1 12 1-9 1-28 1-41 1-23 1 7 1-11 1-56 1-44 1 34 1 58 1 8 1-18 1-24 1 9 1 50 1 52 1 12 1-2 1 23 1 3 1-27 1-17 1 7 1 35 1 26 1 3"/><path d="M0 618l1 12 1-16 1-20 1-8 1-27 1-15 1 15 1 29 1 39 1 21 1-24 1-43 1-10 1 26 1 25 1-4 1-16 1-17 1-14 1-5 1-12 1-30 1-65 1-87 1-10 1 9 1 81 1 84 1 21 1-35 1-56 1-37 1 9 1 13 1-51 1-48 1 33 1 61 1 36 1 17 1 20 1 21 1 18 1 14 1-3 1-9 1 9 1 45 1 47 1 10 1-4 1-8 1-10 1-13 1-50 1-69 1-54 1-27 1 0 1 0 1-2 1 29 1 54 1 49 1 24 1 9 1 9 1-8 1-29 1-27 1-28 1-36 1 0 1 16 1-13 1-7 1 34 1 34 1 11 1 24 1 34 1 28 1 25 1 5 1-21 1-12 1 9 1 16 1 5 1-25 1-56 1-63 1-24 1 5 1-19 1-20 1 22 1 46 1 25 1-1 1 4 1 20 1 18 1-16 1-29 1-10 1-1 1 16 1 58 1 80"/><path d="M0 548l1-9 1-14 1-17 1-12 1 5 1 26 1 26 1 28 1 40 1 26 1 4 1 4 1 26 1 42 1 35 1 20 1 0 1-19 1-22 1 15 1 25 1-19 1-51 1-51 1-28 1-15 1-8 1-3 1-3 1-55 1-108 1-90 1-33 1-8 1 22 1 62 1 93 1 68 1 40 1 22 1 0 1-38 1-61 1-30 1 20 1 26 1-11 1-34 1-24 1-8 1 0 1 7 1 20 1 23 1 17 1 9 1 0 1-20 1-16 1 4 1-11 1-23 1 14 1 46 1 30 1 14 1 21 1 21 1 23 1 25 1 19 1 14 1 6 1-14 1-32 1-16 1 8 1 19 1 10 1-9 1-22 1 3 1 27 1 13 1-13 1-39 1-35 1-15 1-19 1-33 1-35 1-23 1-7 1-1 1 11 1 11 1-10 1-2 1 41 1 67 1 47 1 35 1 20 1-47 1-87 1-53 1-2 1 4 1-18 1 14"/><path d="M0 468l1 19 1-3 1-20 1-18 1-1 1 5 1-2 1 3 1 2 1-12 1-12 1 13 1 40 1 59 1 45 1 34 1 53 1 47 1 6 1-5 1-8 1 0 1 19 1-18 1-52 1-63 1-67 1-47 1 0 1 31 1 8 1-19 1-21 1-33 1 12 1 43 1 6 1-19 1-14 1 1 1 7 1-6 1-2 1-6 1-6 1 36 1 57 1 22 1-15 1-22 1-8 1-12 1-25 1-9 1 17 1 14 1 9 1 7 1 0 1 7 1 4 1-7 1 0 1-1 1 18 1 17 1 13 1 9 1-4 1-5 1-15 1-54 1-49 1 1 1 9 1-18 1-19 1-2 1 45 1 29 1-11 1 37 1 84 1 38 1-22 1-44 1-34 1 1 1 21 1 15 1-17 1-50 1-57 1-28 1-8 1-8 1 6 1 33 1 56 1 83 1 86 1 44 1-14 1-43 1-42 1-12 1 11 1-5 1-12 1-7"/><path d="M0 515l1-29 1-12 1 22 1 36 1 12 1 11 1 27 1 41 1 11 1-42 1-67 1-30 1 25 1 56 1 59 1 44 1 15 1-4 1-12 1 2 1 22 1 0 1-40 1-48 1-20 1-7 1-17 1 2 1 1 1-31 1-20 1-6 1-35 1-27 1 44 1 60 1 12 1-43 1-80 1-22 1-17 1-9 1-5 1 6 1-11 1-18 1 3 1 38 1 69 1 50 1 10 1-5 1 0 1 26 1 28 1 6 1 3 1-28 1-74 1-38 1 1 1-17 1-33 1-15 1 13 1 61 1 57 1 10 1-5 1 16 1 22 1-3 1-29 1-24 1 19 1 54 1 22 1-17 1-18 1-9 1 6 1 36 1 19 1-19 1-13 1-18 1-33 1-14 1-4 1-9 1 1 1 4 1-5 1-8 1 3 1 12 1-4 1 10 1 51 1 48 1 11 1-9 1-47 1-105 1-82 1-22 1 46 1 35 1 0 1-33"/><path d="M0 502l1 10 1-14 1-45 1-53 1-22 1 25 1 41 1 13 1-22 1 2 1 52 1 58 1 50 1 45 1-1 1-13 1-2 1-15 1-22 1-28 1-39 1-51 1-37 1 13 1 38 1-2 1-29 1-8 1 18 1-25 1-29 1-61 1-10 1 6 1 27 1 38 1 18 1 3 1 13 1 16 1 16 1 31 1 26 1-7 1-13 1 8 1 16 1 8 1-6 1-22 1-27 1-35 1-36 1-28 1-15 1 14 1 7 1-11 1 20 1 43 1 34 1 33 1 28 1 11 1 21 1 52 1 76 1 26 1-13 1-5 1 4 1-11 1-32 1-41 1-30 1-33 1-37 1-7 1 26 1 29 1 22 1 38 1 36 1-3 1-48 1-68 1-73 1-50 1-19 1-11 1-5 1-3 1-2 1 8 1 7 1-4 1 1 1 44 1 71 1 59 1 39 1 34 1 12 1-38 1-44 1-12 1 4 1-6 1-13 1 7"/><path d="M0 535l1-5 1 41 1 38 1 1 1-51 1-35 1 36 1 41 1-20 1-66 1-79 1-50 1-13 1 15 1 30 1 13 1-29 1-27 1 28 1 66 1 60 1 42 1 3 1-64 1-92 1-73 1-45 1 2 1 80 1 121 1 85 1 1 1-58 1-97 1-30 1 53 1 32 1-39 1-61 1-36 1-16 1-16 1-6 1 7 1 13 1 22 1 48 1 69 1 35 1-9 1 0 1-14 1-47 1-27 1 9 1 33 1 27 1 17 1-5 1-1 1 35 1 23 1-22 1-25 1 0 1 7 1 15 1 16 1 9 1 25 1 30 1 30 1 7 1-21 1-31 1-13 1 12 1-1 1-43 1-45 1-28 1-8 1 6 1-6 1 6 1 11 1-3 1 6 1 16 1 4 1-2 1-11 1-25 1-30 1-25 1-15 1-6 1 25 1 73 1 105 1 94 1 51 1-6 1-62 1-73 1-54 1-6 1 52 1 76 1 85"/><path d="M0 443l1 8 1 15 1-3 1 19 1 32 1 19 1 24 1 22 1 0 1 12 1 41 1-20 1-12 1-4 1 9 1 9 1 14 1 54 1 67 1 25 1-28 1-64 1-80 1-72 1-52 1-60 1-50 1-6 1 25 1 15 1-32 1-50 1-2 1 49 1 83 1 61 1-1 1-15 1-17 1-19 1 22 1 49 1 28 1 15 1 20 1 6 1-28 1-16 1 3 1 3 1 19 1 25 1 6 1-9 1-22 1-35 1-26 1-4 1-8 1-10 1 18 1 34 1 34 1 28 1 25 1 14 1-5 1-15 1-24 1-29 1-25 1-28 1-39 1-33 1-2 1 37 1 57 1 32 1 26 1 7 1 20 1 16 1 31 1 35 1 15 1-24 1-37 1-43 1-46 1-32 1-22 1-25 1-19 1-21 1-18 1-15 1-26 1-7 1 38 1 71 1 81 1 60 1 29 1 6 1-11 1-12 1-41 1-40 1-3 1 3"/><path d="M0 513l1 30 1 17 1 14 1 2 1-10 1 3 1 13 1 22 1-4 1-30 1-3 1-15 1-38 1-27 1-8 1 13 1 11 1-3 1-8 1 3 1 19 1 26 1 38 1 33 1 26 1 21 1-12 1-15 1-6 1-33 1-88 1-76 1 4 1 40 1 16 1-27 1-13 1 3 1-6 1 8 1 5 1-24 1-33 1-11 1 22 1 31 1 32 1 41 1 48 1 48 1 29 1 2 1-8 1 2 1 10 1 15 1 30 1 26 1 23 1-2 1-21 1-30 1-56 1-46 1-3 1 5 1-9 1 25 1 56 1 28 1-13 1-14 1 5 1-2 1-28 1-36 1-12 1 19 1 1 1-13 1 14 1 9 1-56 1-73 1-34 1-14 1 15 1 35 1 41 1 20 1-6 1-7 1-34 1-36 1-23 1-17 1-7 1 27 1 65 1 68 1 37 1 22 1 31 1 2 1-39 1-26 1 24 1 60 1 49 1 23"/><path d="M0 564l1-7 1-4 1 1 1-8 1-57 1-64 1-19 1 23 1 18 1-14 1 0 1 59 1 67 1 10 1-14 1 12 1 45 1 18 1-55 1-75 1-41 1-24 1-10 1 34 1 27 1-15 1-31 1-6 1-14 1-51 1-68 1-61 1-3 1 56 1 70 1 56 1-3 1-33 1 25 1 42 1 21 1 29 1 17 1 10 1 26 1 23 1 21 1 4 1-34 1-37 1-25 1-3 1 24 1 11 1-19 1-38 1-37 1-7 1 21 1 25 1 43 1 57 1 14 1-6 1 32 1 28 1-4 1-1 1 30 1 40 1 7 1-23 1-1 1 9 1-4 1-4 1-18 1-41 1-51 1-59 1-1 1 43 1-12 1-54 1-35 1-1 1 4 1-4 1 19 1 22 1-7 1-15 1 0 1 6 1 0 1-20 1-19 1 25 1 38 1 25 1 30 1 25 1 5 1-26 1-32 1 12 1 40 1 27 1 23 1 24"/><path d="M0 576l1-7 1-1 1-4 1 26 1 20 1 2 1 8 1 18 1 12 1 13 1 6 1-35 1-68 1-37 1 6 1 5 1-9 1-30 1-14 1 38 1 31 1-11 1-20 1-40 1-22 1-9 1-1 1-4 1-4 1-12 1-25 1-41 1-16 1 43 1 60 1 23 1 5 1 13 1 36 1 69 1 66 1 23 1 19 1 5 1-14 1-5 1-9 1-18 1-3 1-9 1-35 1-23 1-3 1 22 1 26 1-17 1-32 1 5 1 24 1 1 1-8 1 13 1 31 1 30 1 11 1-10 1-10 1-17 1-17 1 4 1 1 1-22 1-16 1-6 1-19 1-12 1 12 1 9 1-32 1-51 1-11 1 27 1 32 1 20 1 15 1 22 1 18 1-6 1-27 1-9 1 7 1-7 1-29 1-40 1-53 1-67 1-38 1 28 1 100 1 117 1 77 1 45 1 16 1-35 1-25 1 19 1 29 1 9 1 9 1 27"/><path d="M0 517l1-14 1 16 1 40 1 23 1 10 1-16 1-55 1-19 1 31 1 17 1-19 1-2 1 32 1 36 1 9 1-11 1 15 1 45 1 23 1-12 1-39 1-57 1-54 1-40 1-36 1-13 1-5 1-39 1-44 1 11 1 36 1 43 1 23 1 15 1-40 1-19 1-3 1-7 1 16 1 25 1-2 1 8 1 11 1 3 1 25 1 52 1 39 1 8 1-7 1-17 1-36 1-59 1-23 1 41 1 44 1 1 1-31 1-35 1 8 1 67 1 99 1 83 1 14 1-14 1-9 1 10 1-6 1-33 1-13 1 20 1-3 1-30 1-3 1 9 1-30 1-59 1-31 1 2 1-5 1-21 1-24 1 16 1 72 1 47 1-37 1-39 1 12 1 19 1-26 1-56 1-51 1-40 1-8 1 28 1 23 1 9 1-10 1 1 1 34 1 21 1 5 1 38 1 42 1-14 1-43 1-4 1 33 1-3 1-34 1-10"/><path d="M0 594l1 11 1-11 1-18 1-37 1-57 1-9 1 37 1 36 1 53 1 79 1 30 1-4 1-15 1-24 1-17 1-2 1-33 1-64 1-25 1 11 1-22 1-33 1 11 1 32 1 23 1-2 1-31 1-32 1-27 1-6 1 13 1 0 1-3 1 8 1 31 1 87 1 95 1 17 1-35 1-2 1-7 1-86 1-84 1-2 1 19 1-7 1 21 1 60 1 53 1 18 1-11 1 26 1 43 1-9 1-37 1-53 1-63 1-30 1 4 1 23 1 29 1-7 1-33 1-7 1 25 1 32 1 34 1 40 1 18 1-19 1-75 1-64 1-19 1 8 1 32 1 40 1 29 1 37 1 28 1 10 1 15 1 23 1 5 1-26 1-59 1-66 1-37 1 12 1 20 1-28 1-72 1-49 1-3 1 10 1 3 1 0 1 2 1 15 1 37 1 49 1 38 1 9 1-9 1-29 1-39 1-25 1 1 1 14 1 15 1 16"/><path d="M0 618l1-30 1-10 1-9 1-45 1-71 1 4 1 59 1 119 1 63 1-6 1-28 1-13 1 8 1 29 1 3 1-24 1-29 1-17 1 0 1-6 1-13 1 19 1 57 1 15 1-42 1-42 1-40 1-41 1-28 1-30 1-57 1-42 1 30 1 73 1 65 1 46 1 15 1 0 1-44 1-65 1-12 1 33 1 46 1 36 1 23 1 16 1 7 1-24 1-22 1-28 1-25 1-18 1-19 1 14 1 43 1 53 1 67 1 33 1-38 1-53 1-20 1 9 1 14 1 12 1 14 1-4 1-28 1-23 1-8 1-1 1 7 1 32 1 36 1-20 1-57 1-35 1-17 1-36 1-45 1-50 1-43 1 15 1 58 1 37 1 23 1 16 1 10 1 11 1 5 1-9 1-23 1-16 1 11 1 2 1-9 1 19 1 20 1 8 1 23 1 31 1 7 1 2 1 22 1-5 1-38 1-17 1 8 1 22 1 33 1 52"/><path d="M0 359l1 9 1-11 1-13 1 7 1 18 1 47 1 44 1 38 1 24 1 15 1 15 1 25 1 50 1 33 1 2 1-3 1-12 1-28 1-16 1 10 1 7 1-36 1-67 1-68 1-41 1 11 1 56 1 19 1-20 1-31 1 8 1 21 1 10 1-19 1-7 1 25 1 20 1-18 1-29 1-16 1-10 1-15 1-41 1-32 1 26 1 18 1-26 1-14 1 32 1 77 1 73 1-4 1-54 1-19 1 17 1 15 1 10 1-13 1-37 1-26 1 25 1 42 1 3 1 2 1 31 1 41 1 54 1 63 1 39 1 1 1-6 1-20 1-49 1-52 1-23 1-2 1-20 1-45 1-20 1-16 1 21 1-3 1 3 1 17 1-9 1-39 1-18 1 44 1 57 1 5 1-8 1 26 1-9 1-15 1-50 1-17 1 13 1 5 1 8 1 29 1 27 1 0 1-25 1-49 1-49 1-42 1-26 1 13 1 36 1 38"/><path d="M0 599l1-20 1-29 1-27 1-4 1-6 1-26 1-27 1-5 1-1 1 1 1 31 1 34 1 35 1 37 1 5 1-26 1-25 1 0 1 19 1 10 1-23 1-20 1 12 1-21 1-58 1-26 1 16 1 31 1 26 1 6 1 14 1 29 1-5 1-42 1-24 1-9 1 4 1 42 1 25 1-1 1 1 1 7 1 5 1-4 1 0 1-4 1-17 1-25 1-11 1 15 1 14 1-1 1-27 1-28 1-18 1-12 1-1 1 12 1 14 1 19 1 17 1 1 1 6 1 37 1 53 1 33 1 18 1 3 1-25 1-29 1-1 1 22 1 23 1-2 1-53 1-47 1 25 1 38 1-7 1-28 1-5 1 26 1 46 1 39 1 23 1-13 1-60 1-89 1-67 1-23 1 1 1 6 1-6 1-24 1-31 1-13 1 16 1 12 1-14 1-7 1 6 1 39 1 62 1 33 1-15 1-14 1 14 1 57 1 82 1 52"/><path d="M0 477l1-50 1-27 1 20 1 33 1 15 1 37 1 80 1 46 1-30 1-59 1-32 1-13 1-3 1 21 1 40 1 56 1 59 1 22 1 5 1-2 1-33 1-13 1 22 1-3 1-59 1-60 1-49 1-46 1-39 1-13 1 23 1 41 1 37 1 33 1 4 1-39 1-27 1 0 1 4 1 13 1 14 1 3 1-12 1-13 1-23 1-27 1 23 1 42 1 90 1 78 1 31 1-6 1-11 1-10 1-8 1 11 1 2 1-43 1-35 1 18 1 26 1-12 1-19 1 0 1-5 1-26 1-18 1 13 1 13 1 8 1 4 1 6 1 11 1 25 1 39 1 23 1 5 1 8 1-17 1-70 1-67 1 3 1 45 1 36 1 22 1 8 1-30 1-44 1-29 1-31 1-45 1-43 1-28 1-4 1 21 1 23 1 8 1-3 1 9 1 42 1 44 1 15 1 4 1-11 1-28 1 2 1 39 1 28 1-18 1-5"/><path d="M0 642l1-17 1-48 1-67 1-38 1 16 1 39 1 29 1 10 1-8 1-8 1-15 1-8 1 17 1 21 1 25 1 13 1-9 1-9 1 9 1 38 1 32 1 13 1 18 1 2 1-37 1-60 1-34 1-3 1-30 1-55 1-41 1-25 1-39 1-43 1-1 1 32 1 1 1-39 1-45 1-23 1 24 1 33 1 24 1 51 1 44 1 18 1 30 1 17 1-26 1-27 1-6 1 0 1 13 1 50 1 60 1 27 1 11 1 4 1-2 1 16 1 16 1 22 1 37 1 5 1-14 1-5 1-1 1-8 1-11 1-39 1-69 1-63 1-42 1-1 1 33 1 42 1 36 1 26 1 23 1 44 1 43 1 29 1 20 1-5 1-33 1-48 1-58 1-51 1-40 1-20 1-2 1 11 1 13 1-13 1-26 1 0 1 11 1 12 1 23 1 43 1 65 1 52 1-2 1-62 1-49 1-12 1 20 1 106 1 69 1-43"/><path d="M0 541l1 10 1-4 1 5 1 15 1 0 1-3 1-21 1-29 1-8 1 24 1 29 1 9 1 24 1 64 1 54 1-3 1-18 1-19 1-34 1-54 1-72 1-40 1 15 1 25 1 8 1-11 1-28 1-18 1 19 1 31 1 16 1 3 1-16 1-11 1 20 1 37 1 31 1 10 1-5 1 0 1 9 1 7 1-24 1-17 1 36 1 26 1-24 1-31 1-1 1 6 1 3 1 27 1 22 1-6 1-16 1-24 1-29 1-11 1 13 1 8 1-1 1-4 1 15 1 39 1 16 1-5 1 17 1 32 1 9 1 3 1 5 1-29 1-66 1-43 1 5 1 22 1 27 1 24 1-14 1-59 1-47 1 12 1 33 1 3 1-15 1-4 1 26 1 18 1-2 1-2 1-24 1-46 1-49 1-26 1 0 1-5 1-2 1 20 1 9 1 0 1 9 1 11 1 24 1 30 1-15 1-37 1 2 1 25 1 32 1 59"/><path d="M0 406l1 21 1 17 1 7 1 12 1-5 1-16 1-1 1 4 1 11 1 24 1 30 1 62 1 54 1 34 1 49 1 40 1 11 1-10 1-18 1-55 1-69 1-37 1-57 1-73 1-20 1 37 1 24 1-45 1-41 1 7 1-41 1-87 1-20 1 62 1 81 1 58 1 23 1 8 1-1 1-10 1-31 1-26 1 24 1 53 1 22 1-14 1 2 1 48 1 65 1 27 1-22 1-71 1-53 1-15 1-10 1-21 1 1 1 22 1 23 1 20 1 37 1 47 1 37 1 20 1-8 1-23 1-42 1-32 1 11 1 30 1 9 1-2 1 15 1 5 1-17 1-19 1-24 1-28 1-9 1 14 1-1 1-19 1 11 1 23 1 3 1-7 1-5 1 10 1 23 1 25 1-8 1-52 1-49 1-24 1 8 1-6 1-24 1-7 1 19 1 25 1-4 1-15 1-15 1-15 1-3 1-7 1 13 1 48 1 63 1 80"/><path d="M0 464l1 31 1 36 1 19 1-8 1-33 1-21 1 34 1 68 1 52 1-1 1-43 1-33 1-25 1-30 1-12 1 32 1 38 1 4 1-19 1-27 1-12 1 27 1 16 1-43 1-56 1-7 1 16 1-14 1-4 1 25 1 32 1 54 1 32 1-55 1-40 1-4 1-23 1-12 1 26 1 44 1 28 1-6 1-17 1-1 1 3 1 20 1 22 1-10 1-28 1-16 1 37 1 73 1 25 1-30 1-26 1-19 1-29 1-38 1-29 1-8 1-6 1 6 1 34 1 33 1 36 1 44 1 38 1 47 1 34 1-4 1-39 1-33 1-34 1-23 1 24 1 35 1-25 1-65 1-52 1 0 1 30 1 4 1-33 1-55 1-30 1 16 1 30 1 28 1-19 1-66 1-53 1-13 1-8 1 33 1 28 1 6 1-3 1 19 1 39 1 26 1 2 1 11 1 42 1 11 1-19 1-2 1-6 1-12 1 4 1 53"/><path d="M0 561l1 14 1-9 1-16 1-8 1-11 1 8 1 28 1 22 1 0 1-21 1-17 1 20 1 50 1 65 1 27 1-41 1-70 1-43 1 3 1 9 1-22 1-22 1-2 1 9 1 24 1 14 1-17 1-28 1-61 1-106 1-71 1 30 1 40 1-18 1 4 1 41 1 14 1-3 1 16 1 47 1 36 1 6 1-4 1-40 1-55 1-12 1 8 1 8 1 5 1-9 1-11 1 9 1 29 1 9 1-15 1 9 1 17 1-7 1-4 1 20 1 29 1 48 1 26 1 20 1 35 1 28 1 4 1-5 1-7 1-15 1-16 1-14 1-12 1-9 1-20 1-40 1-7 1 23 1 9 1-31 1 1 1 47 1 44 1 29 1 16 1-15 1-36 1-12 1 13 1 2 1-60 1-80 1-31 1-11 1 7 1 14 1 8 1 27 1 53 1 65 1 35 1-9 1-22 1-31 1-24 1 3 1-12 1-56 1-5 1 105"/><path d="M0 601l1-9 1-32 1-28 1-19 1-38 1-12 1 45 1 41 1-20 1 14 1 17 1 62 1 21 1-37 1-65 1-83 1-39 1 4 1 21 1 82 1 81 1 13 1-55 1-70 1-51 1-32 1-21 1-12 1-27 1-9 1-2 1-24 1-33 1 35 1 89 1 77 1 11 1-18 1 0 1 36 1 32 1-32 1-48 1-9 1 4 1-20 1-32 1-38 1 15 1 78 1 92 1 47 1 29 1 12 1-1 1-10 1-36 1-31 1 26 1 33 1 1 1-2 1-8 1-6 1 11 1 25 1 33 1 16 1-3 1-16 1-28 1-19 1-6 1-12 1-33 1-43 1-15 1 39 1 55 1 24 1-3 1-1 1 4 1-38 1-97 1-66 1 6 1 29 1 12 1-3 1 17 1 45 1 40 1 8 1-19 1-46 1-51 1 1 1 57 1 70 1 40 1-14 1 6 1 41 1 6 1-1 1-59 1-23 1 29 1 36"/><path d="M0 527l1-10 1-31 1-17 1 28 1 26 1 1 1 2 1 16 1 24 1 40 1 41 1 14 1 24 1 49 1-7 1-57 1-42 1 1 1-4 1-44 1-55 1-38 1-29 1-37 1-28 1-32 1-13 1 24 1 17 1-39 1-60 1-12 1 19 1 21 1 66 1 106 1 82 1 23 1-3 1 6 1 22 1 32 1 13 1-27 1-52 1-44 1-25 1-13 1-5 1 15 1 42 1 52 1 25 1 2 1 11 1 10 1-21 1-15 1 35 1 4 1-7 1-50 1-18 1 23 1 36 1 13 1-18 1-7 1 31 1 43 1 19 1-13 1 1 1 20 1-14 1-45 1-48 1-53 1-36 1-17 1 1 1 35 1 39 1 24 1 6 1 5 1 20 1 5 1-17 1-25 1-34 1-14 1 8 1-2 1-9 1-14 1-19 1-1 1 27 1 37 1 43 1 53 1 37 1-13 1-46 1-38 1-3 1 17 1 22 1 115"/><path d="M0 596l1-33 1-28 1-4 1 3 1-5 1 17 1 13 1-6 1-4 1-5 1 6 1 10 1 1 1 6 1 32 1 27 1-18 1-28 1-19 1-43 1-83 1-63 1 3 1 26 1 60 1 69 1 32 1-16 1-23 1-12 1 10 1 12 1 13 1 39 1 14 1-42 1-58 1-15 1 25 1 5 1-22 1-34 1-35 1-34 1-28 1 0 1 24 1 25 1 19 1 34 1 34 1-14 1-12 1 46 1 23 1-42 1-17 1 36 1 20 1 16 1 32 1 13 1-16 1-36 1-36 1-14 1 0 1 4 1 4 1-1 1-30 1-33 1-20 1-8 1 19 1 54 1 76 1 37 1-9 1-15 1-3 1 15 1 30 1-3 1-26 1 10 1 14 1-34 1-26 1 25 1 7 1-33 1-37 1-28 1-7 1-10 1-6 1 9 1 9 1 16 1 53 1 47 1-3 1-44 1-63 1-43 1-54 1-12 1 36 1-12"/><path d="M0 516l1-25 1-13 1 6 1 18 1 15 1 27 1 9 1-7 1-8 1 7 1-5 1 16 1 52 1 45 1-5 1-27 1 5 1 14 1-17 1-8 1 8 1-18 1-28 1-43 1-40 1-22 1-17 1 1 1 17 1 30 1 22 1-2 1 12 1 29 1 6 1-24 1-53 1-44 1-21 1-9 1-17 1-8 1 44 1 54 1-5 1-32 1-5 1 22 1 30 1 51 1 54 1 17 1 3 1 7 1-21 1-47 1-33 1-12 1-3 1 3 1 19 1 23 1 11 1-7 1 5 1 22 1 17 1 4 1 0 1 6 1 8 1 16 1 16 1 2 1-3 1 2 1-10 1 3 1 7 1-31 1-49 1-26 1 22 1 54 1 22 1-27 1-23 1 10 1 13 1-6 1 9 1 20 1-12 1-15 1-21 1-46 1-18 1 6 1 46 1 54 1 27 1-4 1-29 1-18 1 3 1 7 1-9 1 8 1 52 1 66"/><path d="M0 550l1-52 1-2 1 28 1 23 1 26 1 39 1 8 1-32 1-14 1 45 1 68 1 46 1 24 1 17 1-13 1-17 1 0 1-9 1-63 1-95 1-60 1-20 1 0 1 19 1 31 1 41 1 24 1-9 1-9 1 17 1-8 1-65 1-73 1-56 1-25 1 55 1 70 1 38 1 25 1 2 1-40 1-46 1-13 1-21 1-22 1-12 1-24 1-9 1 32 1 26 1-22 1-9 1 42 1 64 1 64 1 34 1-10 1-25 1-47 1-35 1 19 1 65 1 64 1 59 1 37 1 13 1-68 1-35 1 10 1 3 1-14 1-23 1-10 1 22 1 24 1 7 1-19 1-38 1-32 1-10 1-11 1-11 1-21 1-50 1-51 1-2 1 35 1 11 1-21 1-23 1 8 1 41 1 17 1-26 1-9 1 31 1 43 1 41 1 39 1 28 1 3 1-9 1-4 1-3 1 4 1-16 1-42 1-25 1 6 1 3"/><path d="M0 578l1-4 1-26 1-36 1-48 1-79 1-1 1 63 1 106 1 43 1 40 1 66 1 34 1 1 1-5 1-18 1-35 1-44 1-35 1-38 1-32 1 6 1 35 1 20 1-9 1-12 1 3 1-21 1-33 1-25 1-50 1-35 1-17 1-9 1 5 1 1 1 42 1 79 1 15 1-37 1-31 1 7 1 7 1-10 1-13 1-5 1 1 1 8 1 9 1 18 1 43 1 30 1-6 1-3 1 8 1 11 1 3 1-32 1-57 1-37 1 5 1 30 1 27 1 52 1 92 1 67 1 29 1 11 1-20 1-6 1-6 1-25 1-35 1-35 1-24 1-3 1-25 1-26 1 19 1 10 1 1 1 17 1 5 1-23 1-25 1-4 1-22 1-48 1-36 1 13 1 41 1 14 1-29 1-34 1-10 1 11 1 10 1-2 1 4 1 6 1-16 1 3 1 55 1 34 1-38 1-48 1-29 1-33 1-21 1 63 1 103"/><path d="M0 642l1-6 1-20 1-54 1-65 1-54 1-12 1 22 1 80 1 81 1 66 1 39 1 24 1 44 1 48 1-8 1-77 1-102 1-29 1-3 1 38 1 40 1 7 1-10 1-13 1-32 1-39 1-39 1-49 1-69 1-61 1-35 1-23 1 17 1 73 1 89 1 43 1-11 1 9 1 50 1 37 1-22 1-53 1-12 1 9 1-16 1-31 1-28 1-13 1 0 1 21 1 38 1 22 1 3 1 4 1 30 1 59 1 42 1 11 1 0 1 1 1-9 1-40 1-23 1-8 1-10 1 11 1 23 1 9 1-12 1-32 1-46 1-32 1-3 1 16 1 20 1 10 1 3 1 3 1-8 1-11 1 10 1 55 1 53 1 7 1-26 1-18 1 6 1 15 1 1 1-9 1-10 1-7 1-24 1-26 1-7 1-14 1-28 1-12 1 3 1 10 1 16 1 26 1 25 1-1 1-22 1-4 1 1 1-15 1-23 1-1"/><path d="M0 594l1 37 1 11 1-20 1-27 1-5 1 18 1-9 1-30 1-3 1 18 1 11 1-2 1-9 1-2 1 36 1 48 1-8 1-38 1-68 1-58 1-39 1-19 1-5 1-9 1 20 1 50 1 2 1-56 1-32 1 25 1 26 1-9 1-42 1-42 1 3 1 53 1 76 1 62 1 28 1-18 1-32 1-15 1-19 1-24 1-21 1-25 1-12 1 24 1 60 1 51 1 5 1-20 1-6 1-3 1-42 1-32 1 9 1-6 1-40 1-32 1 9 1 35 1 43 1 46 1 45 1 34 1 4 1-26 1-17 1 3 1-6 1-3 1 20 1 31 1 22 1 21 1 3 1-36 1-6 1 12 1 2 1-17 1-10 1-11 1-32 1-15 1 0 1 1 1 10 1-6 1-31 1-18 1-3 1-13 1-36 1-56 1-37 1 5 1 18 1 22 1 17 1 22 1 32 1 18 1 12 1 42 1 64 1 68 1 64 1 34"/><path d="M0 552l1 13 1 7 1-9 1-9 1-2 1 6 1 25 1 47 1 43 1 6 1-19 1 12 1 29 1-3 1-16 1-20 1-14 1 19 1 23 1 7 1-14 1-23 1-32 1-55 1-51 1-9 1 12 1 3 1 0 1 10 1 26 1 9 1 1 1-13 1 2 1-12 1-18 1-25 1-23 1-18 1-29 1-16 1-19 1-22 1 15 1 44 1 37 1 10 1-11 1-13 1-18 1-24 1-12 1 7 1 11 1 3 1 11 1 29 1 28 1 13 1 7 1-4 1-23 1-18 1-31 1-16 1 44 1 68 1 42 1 5 1-2 1 3 1 5 1 5 1-10 1-19 1 7 1 11 1-14 1-28 1-12 1 20 1 49 1 47 1 24 1 19 1 12 1-19 1-50 1-55 1-23 1 21 1 18 1-17 1-20 1 7 1 11 1 9 1 36 1 66 1 51 1 10 1-6 1-37 1-73 1-57 1-26 1-10 1 19 1 51"/><path d="M0 513l1-19 1-29 1-37 1-24 1-8 1 22 1 31 1 30 1 62 1 65 1 11 1-2 1 11 1 3 1 19 1 42 1 8 1-37 1-26 1 17 1 0 1-43 1-69 1-86 1-65 1-30 1-5 1 18 1-7 1-73 1-55 1 8 1 28 1 40 1 35 1 55 1 54 1 36 1 13 1 2 1 5 1-3 1-24 1-23 1 16 1 29 1-13 1-11 1 29 1 26 1 4 1 4 1 20 1 13 1 12 1 5 1-5 1-26 1-19 1 3 1 6 1-3 1 10 1 30 1 25 1 26 1 23 1 15 1 20 1 15 1-23 1-62 1-55 1-16 1 13 1 24 1-8 1-38 1-31 1-29 1-11 1 28 1 31 1 4 1-23 1-24 1 11 1 14 1-19 1-28 1-10 1-6 1-1 1 8 1-6 1-13 1 3 1 17 1 23 1 13 1 13 1 36 1 50 1 28 1-2 1 3 1 25 1 19 1-3 1-18"/><path d="M0 487l1-7 1-9 1-15 1-19 1-31 1-8 1 32 1 17 1-15 1-24 1-18 1-18 1-1 1 35 1 58 1 60 1 33 1 18 1-4 1-6 1 10 1 1 1-5 1-36 1-69 1-49 1-14 1 11 1 14 1 3 1-19 1-49 1-64 1-58 1 1 1 50 1 16 1-13 1 37 1 95 1 99 1 17 1-54 1-27 1 4 1-5 1 0 1 28 1 50 1 60 1 36 1 14 1 5 1-9 1-22 1-27 1-18 1-1 1 17 1 11 1-20 1-23 1-1 1-3 1-6 1 10 1 36 1 37 1 15 1-12 1-25 1-14 1-9 1 0 1 33 1 33 1-11 1-24 1-20 1-41 1-59 1-30 1 29 1 36 1-21 1-56 1-23 1 8 1-5 1-35 1-24 1 8 1 19 1 13 1 17 1 16 1 2 1 15 1 42 1 19 1-28 1-35 1 12 1 43 1 25 1 19 1 46 1 54 1 28 1 18"/><path d="M0 505l1 23 1 65 1 58 1 21 1-17 1-41 1-40 1-13 1 2 1-3 1-24 1-39 1-48 1-18 1 13 1-19 1-3 1 37 1 53 1 17 1-4 1-11 1-23 1-29 1 13 1 21 1-37 1-10 1 12 1-45 1-45 1 29 1 67 1 68 1 73 1 73 1 16 1-56 1-85 1-70 1-34 1-13 1-41 1-53 1 6 1 49 1 46 1 12 1-8 1 25 1 51 1 21 1-21 1-25 1-18 1-22 1-4 1 8 1 33 1 28 1 10 1-9 1-3 1 8 1-14 1-19 1 9 1 12 1-1 1 3 1 5 1-8 1-2 1-1 1 6 1 29 1 23 1 16 1 9 1-8 1-13 1 9 1 10 1-15 1-28 1-34 1-38 1-21 1 10 1 34 1 38 1 4 1-10 1 11 1 9 1-20 1-45 1-7 1 37 1 20 1-5 1-8 1-33 1-61 1-55 1-35 1 3 1 34 1 23 1 19"/><path d="M0 492l1-53 1-46 1 29 1 82 1 51 1 26 1 41 1 15 1 7 1 13 1 43 1-13 1-87 1-68 1-38 1-36 1-25 1 3 1 38 1 44 1 16 1-14 1-19 1-20 1 13 1 24 1-6 1 10 1 16 1-29 1-67 1-89 1-71 1 22 1 122 1 93 1 13 1 19 1 32 1 32 1 13 1-19 1-25 1 3 1-1 1-56 1-69 1-4 1 61 1 35 1-29 1-36 1 3 1 11 1 3 1-7 1-25 1-53 1-34 1 4 1 32 1 27 1 28 1 4 1-15 1 18 1 49 1 45 1 16 1 6 1 3 1-10 1-24 1-15 1 16 1 20 1 9 1 12 1 19 1-6 1-40 1-13 1 38 1 32 1-6 1-28 1-39 1-28 1-14 1-9 1-6 1 11 1 20 1-18 1-33 1-15 1-13 1 19 1 43 1 0 1-29 1 6 1 35 1 13 1-11 1-2 1-20 1-37 1 24 1 62"/><path d="M0 527l1-6 1 1 1 6 1-2 1-20 1-11 1 6 1 13 1 9 1 1 1 10 1 14 1-10 1-13 1 24 1 18 1-20 1-28 1-13 1 3 1-12 1-45 1-36 1-4 1 3 1 24 1 38 1 4 1-17 1 5 1 18 1-4 1-24 1-22 1 0 1 24 1 44 1 25 1-15 1-26 1-1 1 11 1-9 1-33 1-44 1-56 1-58 1-12 1 44 1 72 1 78 1 53 1 23 1 10 1 16 1 7 1 10 1 10 1-14 1-17 1-4 1 7 1 22 1 21 1 11 1 9 1-7 1-10 1-5 1-1 1-4 1-15 1-34 1-22 1-2 1 8 1-12 1-33 1-23 1-9 1 2 1 22 1 26 1 9 1-23 1-58 1-52 1-22 1 1 1 17 1 2 1-16 1-2 1 22 1 36 1 30 1 28 1 36 1 38 1 22 1 2 1 9 1 18 1-9 1-26 1-15 1-9 1 3 1 27 1 14"/><path d="M0 520l1-14 1 16 1 19 1-10 1-23 1 21 1 70 1 63 1 1 1-50 1-29 1 15 1 24 1 17 1-14 1-39 1-31 1 3 1 47 1 51 1 16 1-5 1-17 1-20 1-3 1 8 1-9 1-33 1-43 1-42 1-16 1 10 1-10 1-23 1 19 1 40 1 29 1 22 1 4 1-23 1-17 1 4 1 21 1 43 1 42 1 24 1 19 1-5 1-48 1-69 1-28 1 12 1 20 1 9 1-26 1-52 1-32 1 11 1 43 1 42 1 17 1-15 1-43 1-29 1-1 1 8 1 15 1 49 1 54 1 14 1-9 1-3 1 0 1-14 1-34 1-25 1-6 1 5 1 3 1 6 1 29 1 23 1-7 1-24 1-11 1 6 1 6 1 5 1 15 1-14 1-53 1-38 1-24 1-42 1-29 1 0 1-8 1-12 1 16 1 29 1 19 1 34 1 35 1-4 1-12 1 19 1 28 1 14 1 13 1 15"/><path d="M0 449l1-6 1 21 1 22 1 9 1-4 1-7 1 10 1 39 1 27 1 8 1 24 1 38 1 20 1-2 1-5 1 29 1 59 1 20 1-33 1-25 1-30 1-37 1-56 1-53 1-10 1 21 1 8 1-18 1-27 1-2 1-2 1-28 1-38 1 0 1 47 1 19 1-46 1-28 1 24 1 2 1-41 1 17 1 80 1 67 1 33 1 2 1-20 1-24 1-7 1 2 1 1 1-10 1 6 1 27 1 23 1 14 1 4 1 4 1 16 1 23 1 17 1-9 1-13 1-12 1-13 1-17 1 0 1 26 1 57 1 49 1 2 1-32 1-34 1-27 1-17 1-8 1-13 1-11 1-29 1-51 1-52 1-14 1 32 1 37 1 16 1-10 1-3 1 31 1 31 1-11 1-30 1 12 1 35 1 14 1-4 1-8 1-7 1-3 1 5 1 34 1 51 1 38 1 5 1-36 1-45 1-21 1 1 1 23 1 29 1 10"/><path d="M0 527l1-23 1-19 1-4 1 18 1 29 1 32 1 15 1 11 1 28 1 23 1-3 1-13 1-5 1 19 1 39 1 22 1-4 1-6 1 4 1 12 1 2 1-25 1-51 1-58 1-43 1-10 1-7 1-29 1-9 1 20 1 23 1 17 1 29 1 35 1 39 1 50 1 32 1-8 1-34 1-22 1-27 1-53 1-69 1-76 1-57 1-23 1-12 1 11 1 24 1 19 1 41 1 60 1 49 1 28 1 23 1 19 1-8 1-38 1-46 1-21 1 22 1 65 1 69 1 1 1-39 1-10 1 31 1 52 1 58 1 22 1 9 1-24 1-12 1 0 1-6 1 5 1 3 1-18 1-37 1-50 1-26 1 17 1 30 1 17 1-4 1-15 1-4 1-2 1-24 1-22 1-16 1-13 1-11 1-13 1 4 1 8 1-14 1 2 1 38 1 39 1 2 1-27 1-42 1-53 1-45 1-36 1-40 1 5 1 72 1 126"/><path d="M0 617l1-14 1-18 1 5 1 6 1-12 1-15 1-12 1-6 1-20 1-28 1-25 1-43 1-13 1 48 1 62 1 32 1 19 1 16 1 17 1 6 1 7 1 16 1-1 1-18 1-24 1-28 1-19 1-12 1-29 1-43 1-34 1-24 1-19 1-18 1 24 1 65 1 58 1 21 1-6 1-23 1-23 1 10 1 16 1-5 1 14 1 19 1 3 1 1 1 12 1 10 1-14 1-31 1-13 1 12 1 30 1 28 1-3 1-40 1-48 1-19 1 6 1-10 1-13 1 23 1 56 1 71 1 46 1 1 1-14 1 16 1 40 1 21 1-11 1-16 1-29 1-54 1-67 1-73 1-22 1 12 1 33 1 24 1 3 1 9 1 26 1 25 1 13 1 6 1-16 1-23 1-6 1-16 1-24 1-2 1-13 1-29 1 0 1 39 1 32 1 10 1 16 1 21 1-6 1-38 1-41 1-35 1-32 1-31 1 7 1 34"/><path d="M0 445l1-34 1-26 1 9 1-9 1-21 1 38 1 83 1 36 1-12 1-12 1 4 1 26 1 19 1 11 1 27 1 11 1-32 1-3 1 47 1 25 1-28 1-55 1-45 1-19 1 8 1 17 1 5 1 12 1 31 1-1 1-20 1-7 1 0 1-7 1-6 1-10 1-19 1-13 1-18 1-10 1 27 1 33 1-13 1-35 1-15 1-33 1-42 1-3 1 22 1 30 1 35 1 49 1 49 1 27 1 22 1 31 1 0 1-58 1-60 1-9 1 29 1 26 1 15 1 19 1 38 1 48 1 13 1-32 1-54 1-48 1-41 1-26 1-22 1-44 1-10 1 24 1 33 1 68 1 72 1 43 1 32 1 9 1-29 1-35 1-31 1-35 1-28 1-9 1 0 1 17 1 25 1 3 1-24 1-43 1-31 1 0 1 27 1 71 1 89 1 54 1 35 1 23 1 4 1-53 1-50 1-35 1-45 1-35 1 18 1 30"/><path d="M0 476l1-17 1 21 1 17 1-4 1-16 1 10 1 32 1 9 1-25 1-23 1 0 1-8 1-3 1 13 1 21 1 37 1 28 1 6 1 21 1 42 1 21 1-31 1-55 1-39 1-27 1-30 1-36 1-43 1-58 1-40 1-25 1-36 1 13 1 91 1 108 1 53 1 17 1 20 1-18 1-78 1-59 1-10 1 8 1 18 1 32 1 32 1 19 1 1 1-24 1-12 1 3 1-2 1 37 1 62 1 38 1 32 1 26 1 20 1-7 1-29 1-8 1 44 1 69 1 42 1 5 1-37 1-30 1-41 1-31 1-12 1-14 1-21 1 0 1 30 1 28 1 8 1 3 1 1 1-12 1-26 1-26 1-9 1-23 1-56 1-57 1-46 1-19 1 22 1 39 1 30 1 14 1 24 1 37 1 3 1-31 1-12 1 14 1 24 1 10 1 13 1 31 1 31 1 4 1-49 1-46 1 13 1-7 1-63 1-26 1 74"/><path d="M0 561l1 2 1-44 1-51 1-24 1-5 1 0 1 13 1 42 1 14 1-12 1 19 1 25 1 4 1 17 1 26 1-2 1-14 1 5 1 3 1-5 1 22 1 32 1 9 1-19 1-12 1 6 1-13 1-38 1-27 1 3 1 18 1 1 1-17 1 4 1 25 1-6 1-48 1-32 1 6 1 6 1 4 1 8 1 8 1 19 1 31 1 32 1 12 1-2 1-2 1 24 1 21 1 1 1-12 1-18 1-23 1-19 1-6 1-2 1 0 1 7 1 16 1 18 1 7 1-3 1-5 1-12 1-14 1-3 1-1 1-27 1-44 1-15 1 1 1 46 1 61 1 64 1 31 1-6 1 4 1 11 1-3 1-58 1-65 1-54 1-40 1-36 1-19 1 10 1 25 1 5 1-11 1-7 1-9 1-7 1-4 1-7 1-8 1 28 1 91 1 65 1-3 1-13 1 14 1 14 1-2 1-4 1-8 1-14 1-5 1-4"/><path d="M0 537l1 23 1-3 1-19 1-19 1-14 1 20 1 58 1 69 1 27 1-10 1-18 1-14 1-4 1-21 1 8 1-5 1-64 1-76 1-38 1 7 1 30 1 26 1 0 1-18 1-15 1 8 1 20 1-1 1-39 1-70 1-45 1 9 1-18 1-50 1-14 1 15 1 29 1 54 1 55 1 40 1 19 1 11 1 43 1 48 1-24 1-78 1-48 1-9 1 0 1 11 1 8 1 4 1 10 1 12 1 24 1 33 1 28 1 31 1 36 1 28 1 6 1-26 1-43 1-26 1 0 1-19 1-48 1-53 1 1 1 17 1 64 1 44 1 8 1 3 1 9 1-8 1-36 1-30 1-4 1-21 1-32 1-2 1 17 1 0 1-24 1-3 1 19 1-9 1-39 1-7 1 57 1 54 1 0 1-15 1 2 1 0 1-7 1 10 1 24 1-3 1-22 1-10 1-5 1-25 1-20 1 6 1 1 1 14 1 52 1 67"/><path d="M0 418l1-27 1-8 1 5 1-12 1-28 1 7 1 58 1 72 1 37 1-1 1 8 1 45 1 37 1 11 1 34 1 49 1 6 1-57 1-79 1-29 1 15 1 17 1-23 1-93 1-79 1 0 1 15 1 12 1 36 1 40 1 6 1-5 1 23 1 35 1 6 1-35 1-46 1-24 1 9 1 37 1 30 1-8 1-29 1 0 1 25 1 17 1 21 1 7 1-30 1-35 1-1 1 38 1 29 1 0 1-3 1-6 1-22 1-20 1-29 1-22 1-3 1 16 1 37 1 48 1 38 1 26 1 31 1 32 1 8 1-23 1-43 1-53 1-53 1-39 1-22 1-8 1-15 1-4 1 22 1 14 1 13 1 46 1 70 1 43 1-21 1-56 1-29 1 3 1-7 1-12 1 11 1 0 1-64 1-89 1-42 1-4 1 15 1 45 1 52 1 54 1 51 1 33 1 5 1-45 1-56 1-21 1 6 1 0 1-34 1-21"/><path d="M0 471l1-30 1-10 1-2 1-6 1 5 1 16 1 13 1 11 1 8 1 23 1 54 1 52 1 4 1 1 1 60 1 75 1 2 1-33 1-70 1-54 1-44 1-31 1 20 1 49 1-1 1-42 1-59 1-31 1-5 1 10 1-10 1-20 1 9 1 17 1 12 1-14 1-46 1-2 1 76 1 73 1 0 1-21 1 17 1 44 1 49 1 21 1-9 1-19 1 5 1 32 1 16 1-16 1-13 1-1 1 20 1 9 1-60 1-98 1-44 1 16 1 30 1-3 1-5 1 19 1 12 1 0 1 3 1 11 1 16 1 2 1-14 1-4 1 14 1 13 1-8 1-25 1-27 1-21 1-22 1-8 1 21 1 43 1 44 1 12 1-39 1-50 1-11 1-4 1-36 1-40 1 1 1 31 1 37 1 25 1-16 1-29 1 9 1 48 1 51 1 46 1 48 1 41 1-5 1-40 1-20 1 5 1-7 1-22 1-22 1-3"/><path d="M0 471l1 16 1-8 1-9 1 15 1-2 1-21 1-14 1 19 1 23 1-18 1-25 1 27 1 68 1 58 1 44 1 22 1 11 1 20 1 5 1-17 1-43 1-50 1-17 1-7 1-16 1-8 1 1 1-7 1-40 1-69 1-47 1-1 1 6 1-20 1 0 1 30 1-5 1-43 1-28 1 42 1 66 1-2 1-48 1-39 1-21 1-10 1 1 1 3 1 24 1 33 1 27 1 13 1-4 1 7 1-4 1-6 1 0 1-9 1 6 1 48 1 58 1 25 1 7 1 16 1 29 1 36 1 21 1-3 1 8 1 9 1-22 1-39 1-28 1-9 1-10 1-17 1-27 1-16 1 17 1 46 1 55 1 38 1 8 1-4 1-17 1-46 1-42 1-12 1 6 1 5 1-13 1-32 1-23 1 23 1 51 1 24 1-6 1-2 1 0 1-3 1 5 1 8 1-9 1-47 1-41 1 12 1 48 1 45 1 23 1 38"/><path d="M0 537l1-12 1-37 1-46 1-13 1 12 1-8 1-26 1-3 1 42 1 57 1 38 1 11 1-18 1-51 1-53 1-16 1 17 1 39 1 30 1 27 1 29 1-1 1-15 1 3 1 17 1 6 1 3 1-8 1-49 1-30 1 53 1 73 1-3 1-4 1-44 1-41 1-24 1-10 1-16 1-19 1 12 1 17 1-35 1-29 1 6 1 32 1 42 1 6 1-20 1-16 1-1 1 4 1 7 1 22 1 22 1 28 1 49 1 27 1-19 1-37 1-17 1-13 1-25 1-26 1-20 1-9 1 45 1 38 1-20 1-34 1-13 1-7 1-19 1-16 1-7 1 14 1 8 1-4 1 11 1 15 1 16 1 27 1 38 1 30 1 12 1-8 1-20 1-38 1-33 1 4 1 22 1 14 1 11 1 2 1-20 1-9 1 15 1 14 1 7 1 22 1 25 1 17 1 11 1-23 1-50 1-24 1 9 1 25 1 65 1 99"/><path d="M0 552l1-52 1-16 1 31 1 42 1-2 1-31 1-7 1 36 1 55 1 40 1 4 1 4 1 29 1 15 1-1 1 27 1 29 1-7 1-16 1-49 1-60 1-103 1-44 1 2 1-27 1-59 1-43 1-18 1-8 1 39 1 58 1 39 1 18 1 11 1 55 1 50 1 10 1 19 1-3 1-40 1-44 1-41 1-5 1 51 1 42 1 2 1-12 1-14 1-33 1-26 1 2 1 9 1-3 1 17 1 54 1 40 1-25 1-59 1-8 1 10 1 30 1 6 1-14 1-12 1 20 1 66 1 50 1 7 1-5 1 21 1 7 1-60 1-85 1-45 1-13 1-14 1-15 1-1 1-5 1-31 1-4 1 54 1 52 1 21 1 2 1 6 1 27 1 23 1-25 1-39 1 6 1 35 1 16 1-20 1-27 1-20 1-27 1 2 1 24 1 29 1 68 1 91 1 54 1-8 1-47 1-69 1-44 1 32 1 74 1 59"/><path d="M0 658l1-18 1-18 1-2 1 11 1 5 1-11 1-50 1-40 1 13 1 39 1 45 1 61 1 44 1-2 1-24 1 1 1 29 1 5 1-16 1-25 1-80 1-119 1-39 1-15 1 32 1 5 1-1 1 11 1-9 1-31 1-41 1-8 1 47 1 90 1 64 1 53 1-8 1-6 1 36 1 27 1-20 1-22 1-19 1-14 1-7 1-29 1-50 1-33 1 16 1 8 1-23 1 11 1 30 1 34 1 43 1 5 1-30 1-45 1-57 1-14 1 32 1 31 1 19 1 26 1 40 1 25 1 4 1 0 1 2 1 11 1-6 1-31 1-15 1 11 1 23 1 5 1-19 1-16 1-31 1-56 1-29 1-7 1-15 1 6 1 2 1-19 1-20 1-25 1-26 1 15 1 30 1-7 1-17 1-15 1-20 1 17 1 47 1 35 1 41 1 37 1 28 1 42 1 34 1-16 1-45 1-14 1 19 1 5 1-11 1-19"/><path d="M0 438l1-14 1-1 1 12 1 25 1 33 1 52 1 60 1 25 1-25 1-26 1 26 1 38 1 18 1 1 1-8 1-2 1 20 1 34 1 11 1-41 1-41 1 12 1-5 1-72 1-69 1-48 1-43 1-5 1-8 1-39 1-29 1-36 1-54 1-10 1 76 1 91 1 22 1 7 1 38 1 49 1 8 1-47 1-61 1-40 1 3 1 49 1 69 1 37 1 0 1 10 1 13 1 9 1 34 1 40 1 26 1 13 1 0 1-7 1 8 1 39 1 26 1 11 1 25 1 12 1-5 1-4 1-14 1-36 1-26 1 14 1 12 1-23 1-36 1-28 1-19 1-3 1 3 1-7 1-15 1-13 1 18 1 66 1 59 1-16 1-72 1-68 1-24 1 20 1 33 1 19 1-28 1-62 1-24 1 33 1 51 1 10 1-21 1-22 1-4 1 40 1 66 1 58 1 18 1-26 1-41 1-16 1 16 1 33 1 33 1 2"/><path d="M0 497l1 5 1 2 1-10 1 1 1 4 1 24 1 35 1 5 1-20 1-25 1-1 1 17 1-2 1 21 1 46 1 26 1-6 1-40 1-76 1-58 1-36 1-17 1 12 1-11 1-43 1 4 1 60 1 25 1-22 1 3 1 54 1-2 1-87 1-34 1 48 1 31 1 14 1 39 1 6 1 9 1 59 1 46 1 8 1 3 1-14 1-34 1-18 1-1 1-16 1-18 1-5 1 3 1-14 1-25 1 9 1 40 1 24 1 4 1 14 1 48 1 42 1-29 1-52 1-13 1 12 1 14 1 27 1 38 1 11 1-12 1-12 1-15 1-23 1-18 1-41 1-20 1-6 1 31 1 47 1-3 1-33 1-11 1 28 1 11 1-32 1-37 1-18 1 3 1 14 1 16 1 16 1 4 1-19 1-37 1-43 1-31 1-11 1 10 1 9 1 8 1 58 1 44 1-28 1-60 1-37 1 3 1 4 1 1 1 51 1 71"/><path d="M0 499l1-11 1-41 1-50 1-28 1-18 1 17 1 53 1 35 1-7 1-39 1-2 1 81 1 114 1 65 1 37 1-39 1-41 1-12 1-25 1-34 1-1 1 22 1 10 1-28 1-32 1 0 1-18 1-51 1-16 1 52 1 68 1 6 1-45 1-60 1-51 1 15 1 36 1-15 1-60 1-28 1 18 1 25 1 20 1 40 1 41 1 38 1 45 1 18 1-5 1-13 1-30 1-19 1-16 1-28 1-19 1-5 1 0 1-19 1-49 1-56 1-5 1 26 1 52 1 66 1 37 1 4 1 25 1 37 1 15 1 9 1-4 1-26 1-34 1-20 1-6 1-4 1-30 1-53 1-10 1 35 1 37 1-1 1-26 1 7 1 15 1-18 1 13 1 33 1-3 1-19 1-17 1 11 1 26 1-2 1-10 1-12 1-35 1-10 1 17 1-7 1-25 1 0 1 28 1 6 1-15 1-2 1 27 1 40 1 37 1 38"/><path d="M0 422l1-5 1-18 1-18 1 11 1 20 1 32 1 59 1 66 1 18 1 14 1 48 1 17 1 0 1 25 1 14 1-17 1-37 1-13 1 37 1 47 1-13 1-77 1-84 1-66 1-45 1-21 1 7 1 30 1 42 1 30 1 14 1 12 1-14 1-27 1-12 1-58 1-88 1-16 1 54 1 32 1-19 1-6 1 7 1-2 1 22 1 29 1 26 1 23 1-21 1-35 1-5 1 5 1-14 1-21 1 6 1 39 1 56 1 52 1 28 1 17 1 12 1 10 1 26 1 16 1-34 1-57 1-30 1 13 1 38 1 41 1 25 1 2 1-11 1-19 1-11 1 3 1-12 1-42 1-33 1 9 1 34 1 20 1-9 1 1 1 34 1 29 1-13 1-47 1-39 1-23 1-35 1-41 1-8 1 6 1-1 1 1 1-1 1-8 1-22 1-31 1 5 1 31 1 41 1 9 1-2 1 28 1 25 1 14 1 9 1-1"/><path d="M0 421l1 15 1-6 1-18 1-17 1-5 1 12 1 12 1 25 1 29 1-9 1-38 1-26 1 13 1 30 1 6 1 4 1 23 1 33 1-2 1 19 1 53 1 31 1-5 1-11 1 10 1 33 1 33 1 11 1-45 1-58 1-144 1-119 1-64 1-34 1-19 1 20 1 36 1 95 1 66 1 21 1 39 1 56 1 13 1-25 1-6 1 29 1 33 1 8 1-23 1-39 1-8 1 24 1 11 1-21 1-34 1-14 1 19 1 22 1 10 1 6 1 13 1 14 1 6 1 4 1 27 1 37 1 8 1-10 1-7 1-15 1-26 1-19 1-1 1 6 1-14 1-20 1 22 1 36 1-13 1-49 1-20 1 3 1-2 1 5 1 10 1 10 1-7 1-28 1-23 1 3 1-3 1-20 1-14 1-12 1-5 1-4 1-23 1-29 1 25 1 54 1 78 1 77 1 59 1 13 1-12 1-11 1 26 1 20 1 17 1 47"/><path d="M0 593l1-30 1-51 1-47 1-21 1 10 1 11 1 15 1 30 1 20 1-1 1 1 1-16 1-15 1 37 1 23 1 28 1 26 1 4 1-26 1-42 1-29 1 4 1 38 1 25 1 16 1 20 1 0 1-26 1-37 1-7 1 25 1-23 1-76 1-39 1 24 1 8 1-9 1 19 1 42 1 42 1 32 1 12 1-14 1-27 1-13 1-6 1-12 1-12 1 1 1 2 1 1 1 22 1 34 1 6 1-35 1-40 1-7 1 39 1 60 1 44 1 30 1-3 1-35 1-27 1 3 1 24 1 10 1-11 1 1 1 14 1-10 1-22 1 12 1 25 1 5 1 4 1 33 1 30 1-2 1-15 1 3 1 5 1-39 1-45 1-8 1 14 1-17 1-46 1-20 1 8 1 26 1-20 1-58 1-60 1-19 1-4 1 14 1 28 1 13 1 7 1 8 1 15 1 18 1-31 1-78 1-49 1 9 1 40 1 54 1 83"/><path d="M0 578l1 16 1 9 1-3 1-8 1 5 1 28 1 13 1-2 1 3 1 5 1-6 1 5 1 41 1 26 1-2 1-20 1-42 1-49 1-39 1-18 1-11 1-48 1-55 1-16 1 9 1 25 1 17 1 1 1 5 1-15 1-83 1-126 1-68 1 15 1 64 1 55 1 49 1 63 1 37 1 10 1-13 1-31 1-2 1 62 1 57 1-13 1-46 1-25 1 4 1 7 1 4 1 36 1 60 1 51 1 31 1 2 1-16 1-8 1 8 1 0 1-29 1-24 1 9 1 12 1 14 1 1 1 4 1 32 1 16 1-15 1-13 1-10 1-38 1-36 1-10 1-2 1 5 1 23 1 3 1-53 1-61 1-29 1 15 1 37 1 43 1 19 1 4 1 0 1 8 1 31 1 9 1-44 1-47 1-26 1-25 1-21 1-23 1-23 1 18 1 44 1 39 1 8 1-8 1-2 1 15 1 18 1-11 1-20 1 28 1 85"/><path d="M0 595l1-8 1-7 1-22 1-46 1-48 1-10 1 13 1-10 1-32 1-18 1 13 1 55 1 17 1 0 1-28 1-3 1 30 1 9 1-4 1 13 1 12 1-14 1-47 1 3 1 31 1 90 1 26 1-22 1 2 1-2 1-44 1-58 1-26 1-49 1-43 1 73 1 148 1 46 1 24 1-30 1-35 1-27 1 13 1 44 1 8 1-69 1-86 1-53 1-7 1 29 1 41 1 12 1-23 1 3 1 48 1 41 1 29 1 20 1 10 1-4 1-32 1-35 1-17 1-1 1-7 1-21 1 0 1 41 1 42 1 8 1-23 1-17 1 13 1 20 1-2 1-1 1 23 1 16 1-4 1-22 1-23 1-3 1 5 1-1 1-22 1-29 1-33 1-17 1 17 1 12 1-28 1-55 1-42 1-3 1 23 1 13 1-1 1 24 1 31 1 32 1 56 1 49 1 14 1 3 1 7 1 32 1 29 1-5 1-20 1-19"/><path d="M0 596l1 0 1 2 1 17 1 16 1-2 1-8 1-16 1-41 1-63 1-41 1 0 1 45 1 63 1 51 1 21 1-5 1 7 1 14 1 1 1 6 1 17 1-4 1-33 1-49 1-35 1-30 1-49 1-57 1-62 1-55 1-21 1 26 1 33 1 8 1 41 1 44 1-4 1 7 1 11 1-18 1-3 1 19 1 18 1 15 1-13 1-28 1-9 1 24 1 33 1-20 1-13 1-23 1-10 1 8 1 57 1 77 1 44 1 2 1 10 1 39 1 4 1-32 1-43 1-44 1-30 1 12 1 44 1 38 1 29 1 39 1 40 1 10 1-35 1-50 1-37 1-15 1-3 1-24 1-25 1 9 1 28 1 46 1 21 1-30 1-42 1-41 1-30 1 2 1-6 1-3 1 23 1 11 1-7 1-13 1-46 1-58 1-32 1 36 1 55 1 51 1 31 1-8 1-16 1-2 1 19 1 42 1 37 1 59 1 69 1 32"/><path d="M0 542l1-8 1 30 1 29 1 2 1-6 1-4 1-21 1-10 1-25 1-42 1 2 1 57 1 65 1 34 1 0 1-22 1-41 1-40 1-34 1-40 1-23 1 9 1 19 1 8 1 24 1 8 1-67 1-83 1-42 1-13 1-3 1-3 1 34 1 83 1 65 1 9 1 14 1 31 1 9 1 20 1 35 1-9 1-57 1-34 1 28 1 33 1-2 1 21 1 53 1 1 1-38 1-11 1 1 1-12 1-9 1 4 1 28 1 44 1 18 1-24 1-20 1 6 1 9 1 17 1 35 1 33 1 4 1-26 1-30 1-19 1-25 1-20 1-7 1-10 1-3 1 33 1 56 1 36 1 4 1-25 1-52 1-38 1-7 1-6 1-33 1-26 1-16 1-29 1-26 1-3 1 3 1 24 1 39 1 21 1-11 1-39 1-41 1 12 1 53 1 13 1-33 1 1 1 49 1 35 1 5 1 5 1 13 1 22 1 35 1 15"/><path d="M0 581l1 20 1-1 1-15 1-14 1-12 1-30 1-16 1 24 1 29 1 11 1 3 1-11 1-17 1 10 1 21 1-9 1-36 1-43 1-42 1-3 1 45 1 40 1 16 1 2 1-5 1-19 1-14 1 15 1 9 1-8 1-23 1 0 1 31 1-13 1-54 1-37 1-10 1 22 1 43 1 44 1 48 1 33 1-6 1-13 1-1 1-6 1-9 1 7 1 14 1-13 1-29 1-22 1-3 1-1 1-26 1-46 1-28 1 15 1 21 1 5 1 2 1 7 1-2 1-19 1 1 1 24 1 19 1 35 1 32 1 11 1 5 1 13 1 19 1 16 1 24 1 38 1 14 1-20 1-29 1-24 1-16 1-7 1-8 1-35 1-55 1-38 1-24 1-21 1-1 1 30 1 25 1 5 1-11 1-9 1 8 1 1 1-5 1 23 1 33 1 30 1 24 1 5 1 28 1 13 1-17 1-26 1-5 1 17 1 17 1 14"/><path d="M0 538l1 27 1 17 1-5 1-17 1-2 1 24 1 15 1 11 1-2 1-28 1-22 1 1 1 18 1 22 1 32 1 20 1-18 1-42 1-41 1-13 1-2 1-9 1-23 1-51 1-58 1-30 1-13 1-10 1 7 1 1 1-29 1-27 1 7 1 17 1-2 1-15 1 31 1 66 1 62 1 26 1-14 1-46 1-53 1 5 1 48 1 19 1 9 1 49 1 43 1 14 1 27 1 43 1 20 1-13 1-13 1 2 1 0 1-4 1-7 1 0 1-33 1-12 1 25 1 30 1 30 1 22 1-3 1-28 1-13 1 11 1 3 1-24 1-27 1 4 1 28 1 36 1 26 1 16 1 8 1-12 1-11 1 10 1 11 1-20 1-60 1-52 1-8 1 29 1 35 1 7 1-26 1-35 1-23 1-21 1-22 1 9 1 25 1 26 1 46 1 30 1 5 1 8 1 14 1-16 1-43 1-22 1-6 1 9 1-6 1-25"/><path d="M0 444l1-35 1-14 1-4 1-14 1-36 1-6 1 31 1 30 1-2 1 12 1 45 1 32 1 24 1 39 1 46 1 4 1-3 1 17 1-7 1 0 1-8 1-54 1-64 1-38 1 9 1 25 1 9 1 20 1 28 1-9 1-48 1-53 1-9 1 26 1 27 1 10 1-72 1-83 1 32 1 100 1 38 1-6 1 11 1 31 1 20 1 7 1-1 1-4 1-40 1-62 1-35 1-11 1 27 1 22 1 7 1 15 1 7 1 1 1 4 1 20 1 31 1 26 1-10 1-17 1 14 1 30 1 17 1 21 1 29 1 16 1-15 1-66 1-64 1 4 1 51 1 40 1 5 1-21 1-15 1 5 1-3 1-22 1 8 1 37 1 8 1-39 1-57 1-22 1 21 1 16 1-20 1-31 1-13 1-10 1-2 1 16 1 7 1-12 1 8 1 37 1 19 1 7 1 25 1 23 1 33 1 63 1 59 1 13 1-8 1 45"/><path d="M0 429l1-42 1 0 1 45 1 27 1-12 1 2 1 39 1 68 1 55 1 3 1-42 1-37 1-6 1 2 1 15 1 19 1-12 1-41 1-42 1 10 1 53 1 37 1 24 1 18 1-17 1-62 1-83 1-45 1-25 1 23 1 67 1 42 1-3 1-22 1-33 1-13 1 55 1 47 1-21 1-53 1-38 1-16 1-8 1 26 1 56 1 27 1-7 1-28 1-46 1-11 1 30 1 21 1 21 1 41 1 43 1 21 1-21 1-47 1-33 1-1 1 21 1 15 1-2 1-25 1-27 1 6 1 28 1 37 1 14 1-15 1-28 1-26 1-12 1-8 1-4 1-1 1-1 1-7 1-16 1-57 1-15 1 83 1 82 1 6 1-51 1-32 1-2 1-34 1-66 1-26 1 20 1 8 1-7 1 28 1 39 1 12 1 13 1 24 1-10 1-20 1 21 1 18 1-39 1-34 1-40 1 11 1 35 1 1 1 17 1 33"/><path d="M0 559l1-18 1-12 1 10 1 12 1-7 1-8 1 0 1-2 1 2 1 0 1-11 1-14 1 6 1 18 1-2 1-19 1-12 1-2 1 6 1 11 1 4 1-6 1-11 1-11 1-3 1 1 1-10 1-20 1-8 1 3 1-3 1-6 1 7 1 21 1 61 1 88 1 59 1 46 1 44 1 50 1 49 1 42 1 37 1-7 1-45 1-60 1-81 1-65 1-64 1-45 1-21 1-24 1-18 1 7 1 12 1 3 1-1 1-6 1-13 1 3 1 17 1 13 1 2 1 4 1 4 1-9 1-3 1 6 1 1 1-1 1 0 1-3 1-8 1-9 1-2 1 5 1 5 1 5 1-5 1-6 1-8 1-12 1-10 1 5 1 10 1-7 1-21 1-8 1 6 1 11 1 6 1 0 1 5 1 10 1-1 1-13 1-4 1 13 1 18 1 6 1-11 1-13 1 8 1 14 1 7 1 8 1 1 1-12 1-8 1 8"/><path d="M0 539l1 15 1 4 1-7 1-14 1-8 1 8 1 14 1 10 1-3 1-13 1-12 1-7 1-3 1-2 1-5 1-6 1 4 1 7 1-2 1-8 1-8 1-9 1-8 1-12 1-14 1-21 1-34 1-35 1-29 1-42 1-59 1-47 1-11 1 23 1 71 1 69 1 62 1 67 1 28 1-2 1 10 1 4 1-11 1-11 1-8 1-1 1 9 1 10 1 0 1-4 1 4 1 10 1 9 1 5 1 2 1 0 1-3 1-4 1-1 1 2 1 4 1 7 1 5 1-2 1-5 1-5 1 3 1 11 1-3 1-9 1 3 1 5 1-5 1-10 1-5 1-7 1 1 1 14 1 4 1-3 1 3 1 12 1 6 1-7 1-8 1-4 1-8 1-10 1 4 1 14 1 6 1 3 1 12 1 9 1-7 1-11 1 6 1 17 1 6 1-6 1-9 1-3 1 5 1 9 1-4 1-13 1 8 1 24 1 7 1-12"/><path d="M0 522l1 11 1-1 1-7 1 1 1 11 1 10 1 4 1 5 1-1 1-14 1-7 1 15 1 15 1-3 1-9 1-4 1-5 1-10 1-9 1 8 1 18 1 13 1 7 1-10 1-27 1-21 1-7 1 0 1 1 1-8 1-10 1-3 1 0 1-4 1-20 1-45 1-53 1-38 1-29 1-34 1-27 1-19 1-7 1 31 1 60 1 57 1 55 1 49 1 20 1 11 1 20 1 16 1 3 1-12 1-15 1-5 1 10 1 5 1-6 1-1 1 2 1-2 1-1 1 5 1 11 1 11 1 2 1 3 1 10 1 10 1-2 1-15 1-5 1 9 1 5 1-1 1 0 1 0 1-5 1 1 1 13 1 10 1 1 1-2 1-5 1 0 1 3 1-9 1-6 1 15 1 17 1-2 1-7 1 0 1-6 1-17 1-9 1 6 1 4 1 1 1 3 1 1 1-2 1 2 1 0 1-7 1-6 1 3 1-3 1-14"/></g>
<rect x="374.5" y="26.5" width="310.0" height="226.0" fill="none" stroke="#3a3a3a" stroke-width="1"/>
<line x1="388.5" y1="252.5" x2="388.5" y2="249.5" stroke="#3a3a3a" stroke-width="1"/>
<line x1="388.5" y1="26.5" x2="388.5" y2="29.5" stroke="#3a3a3a" stroke-width="1"/>
<text x="388.59" y="269.4" font-size="11" text-anchor="middle" font-weight="normal" fill="#1a1a1a" >840</text>
<line x1="416.5" y1="252.5" x2="416.5" y2="249.5" stroke="#3a3a3a" stroke-width="1"/>
<line x1="416.5" y1="26.5" x2="416.5" y2="29.5" stroke="#3a3a3a" stroke-width="1"/>
<text x="416.77" y="269.4" font-size="11" text-anchor="middle" font-weight="normal" fill="#1a1a1a" >845</text>
<line x1="444.5" y1="252.5" x2="444.5" y2="249.5" stroke="#3a3a3a" stroke-width="1"/>
<line x1="444.5" y1="26.5" x2="444.5" y2="29.5" stroke="#3a3a3a" stroke-width="1"/>
<text x="444.95" y="269.4" font-size="11" text-anchor="middle" font-weight="normal" fill="#1a1a1a" >850</text>
<line x1="473.5" y1="252.5" x2="473.5" y2="249.5" stroke="#3a3a3a" stroke-width="1"/>
<line x1="473.5" y1="26.5" x2="473.5" y2="29.5" stroke="#3a3a3a" stroke-width="1"/>
<text x="473.14" y="269.4" font-size="11" text-anchor="middle" font-weight="normal" fill="#1a1a1a" >855</text>
<line x1="501.5" y1="252.5" x2="501.5" y2="249.5" stroke="#3a3a3a" stroke-width="1"/>
<line x1="501.5" y1="26.5" x2="501.5" y2="29.5" stroke="#3a3a3a" stroke-width="1"/>
<text x="501.32" y="269.4" font-size="11" text-anchor="middle" font-weight="normal" fill="#1a1a1a" >860</text>
<line x1="529.5" y1="252.5" x2="529.5" y2="249.5" stroke="#3a3a3a" stroke-width="1"/>
<line x1="529.5" y1="26.5" x2="529.5" y2="29.5" stroke="#3a3a3a" stroke-width="1"/>
<text x="529.5" y="269.4" font-size="11" text-anchor="middle" font-weight="normal" fill="#1a1a1a" >865</text>
<line x1="557.5" y1="252.5" x2="557.5" y2="249.5" stroke="#3a3a3a" stroke-width="1"/>
<line x1="557.5" y1="26.5" x2="557.5" y2="29.5" stroke="#3a3a3a" stroke-width="1"/>
<text x="557.68" y="269.4" font-size="11" text-anchor="middle" font-weight="normal" fill="#1a1a1a" >870</text>
<line x1="585.5" y1="252.5" x2="585.5" y2="249.5" stroke="#3a3a3a" stroke-width="1"/>
<line x1="585.5" y1="26.5" x2="585.5" y2="29.5" stroke="#3a3a3a" stroke-width="1"/>
<text x="585.86" y="269.4" font-size="11" text-anchor="middle" font-weight="normal" fill="#1a1a1a" >875</text>
<line x1="614.5" y1="252.5" x2="614.5" y2="249.5" stroke="#3a3a3a" stroke-width="1"/>
<line x1="614.5" y1="26.5" x2="614.5" y2="29.5" stroke="#3a3a3a" stroke-width="1"/>
<text x="614.05" y="269.4" font-size="11" text-anchor="middle" font-weight="normal" fill="#1a1a1a" >880</text>
<line x1="642.5" y1="252.5" x2="642.5" y2="249.5" stroke="#3a3a3a" stroke-width="1"/>
<line x1="642.5" y1="26.5" x2="642.5" y2="29.5" stroke="#3a3a3a" stroke-width="1"/>
<text x="642.23" y="269.4" font-size="11" text-anchor="middle" font-weight="normal" fill="#1a1a1a" >885</text>
<line x1="670.5" y1="252.5" x2="670.5" y2="249.5" stroke="#3a3a3a" stroke-width="1"/>
<line x1="670.5" y1="26.5" x2="670.5" y2="29.5" stroke="#3a3a3a" stroke-width="1"/>
<text x="670.41" y="269.4" font-size="11" text-anchor="middle" font-weight="normal" fill="#1a1a1a" >890</text>
<line x1="374.5" y1="252.5" x2="377.5" y2="252.5" stroke="#3a3a3a" stroke-width="1"/>
<line x1="684.5" y1="252.5" x2="681.5" y2="252.5" stroke="#3a3a3a" stroke-width="1"/>
<text x="370.3" y="256.4" font-size="11" text-anchor="end" font-weight="normal" fill="#1a1a1a" >−4</text>
<line x1="374.5" y1="224.5" x2="377.5" y2="224.5" stroke="#3a3a3a" stroke-width="1"/>
<line x1="684.5" y1="224.5" x2="681.5" y2="224.5" stroke="#3a3a3a" stroke-width="1"/>
<text x="370.3" y="228.15" font-size="11" text-anchor="end" font-weight="normal" fill="#1a1a1a" >−3</text>
<line x1="374.5" y1="196.5" x2="377.5" y2="196.5" stroke="#3a3a3a" stroke-width="1"/>
<line x1="684.5" y1="196.5" x2="681.5" y2="196.5" stroke="#3a3a3a" stroke-width="1"/>
<text x="370.3" y="199.9" font-size="11" text-anchor="end" font-weight="normal" fill="#1a1a1a" >−2</text>
<line x1="374.5" y1="167.5" x2="377.5" y2="167.5" stroke="#3a3a3a" stroke-width="1"/>
<line x1="684.5" y1="167.5" x2="681.5" y2="167.5" stroke="#3a3a3a" stroke-width="1"/>
<text x="370.3" y="171.65" font-size="11" text-anchor="end" font-weight="normal" fill="#1a1a1a" >−1</text>
<line x1="374.5" y1="139.5" x2="377.5" y2="139.5" stroke="#3a3a3a" stroke-width="1"/>
<line x1="684.5" y1="139.5" x2="681.5" y2="139.5" stroke="#3a3a3a" stroke-width="1"/>
<text x="370.3" y="143.4" font-size="11" text-anchor="end" font-weight="normal" fill="#1a1a1a" >0</text>
<line x1="374.5" y1="111.5" x2="377.5" y2="111.5" stroke="#3a3a3a" stroke-width="1"/>
<line x1="684.5" y1="111.5" x2="681.5" y2="111.5" stroke="#3a3a3a" stroke-width="1"/>
<text x="370.3" y="115.15" font-size="11" text-anchor="end" font-weight="normal" fill="#1a1a1a" >1</text>
<line x1="374.5" y1="82.5" x2="377.5" y2="82.5" stroke="#3a3a3a" stroke-width="1"/>
<line x1="684.5" y1="82.5" x2="681.5" y2="82.5" stroke="#3a3a3a" stroke-width="1"/>
<text x="370.3" y="86.9" font-size="11" text-anchor="end" font-weight="normal" fill="#1a1a1a" >2</text>
<line x1="374.5" y1="54.5" x2="377.5" y2="54.5" stroke="#3a3a3a" stroke-width="1"/>
<line x1="684.5" y1="54.5" x2="681.5" y2="54.5" stroke="#3a3a3a" stroke-width="1"/>
<text x="370.3" y="58.65" font-size="11" text-anchor="end" font-weight="normal" fill="#1a1a1a" >3</text>
<line x1="374.5" y1="26.5" x2="377.5" y2="26.5" stroke="#3a3a3a" stroke-width="1"/>
<line x1="684.5" y1="26.5" x2="681.5" y2="26.5" stroke="#3a3a3a" stroke-width="1"/>
<text x="370.3" y="30.4" font-size="11" text-anchor="end" font-weight="normal" fill="#1a1a1a" >4</text>
<text x="529.9" y="287.5" font-size="11.2" text-anchor="middle" font-weight="normal" fill="#1a1a1a" >Energy loss (eV)</text>
<text x="376.8" y="23" font-size="11" fill="#1a1a1a">x 10<tspan font-size="8" dy="-4.2">−3</tspan></text>
<text x="354.6" y="11.6" font-size="16" text-anchor="start" font-weight="bold" fill="#000" >b</text>
<path d="M186.7,99.2 L180.2,87 L184.8,87 L184.8,80.2 L188.6,80.2 L188.6,87 L193.2,87 Z" fill="#000"/>
<text x="182" y="68.8" font-size="11" fill="#1a1a1a">L<tspan font-size="8.5" dy="3.7">2</tspan></text>
<path d="M113.6,183.1 L107.2,195.8 L111.6,195.8 L111.6,202.8 L115.6,202.8 L115.6,195.8 L120,195.8 Z" fill="#000"/>
<text x="109" y="218" font-size="11" fill="#1a1a1a">L<tspan font-size="8.5" dy="3.7">3</tspan></text>
<path d="M572.3,104.2 L565.9,91.8 L570.4,91.8 L570.4,85 L574.2,85 L574.2,91.8 L578.7,91.8 Z" fill="#000"/>
<text x="568.7" y="75.2" font-size="11" fill="#1a1a1a">L<tspan font-size="8.5" dy="3.7">2</tspan></text>
<path d="M465.5,185.75 L459.2,198.3 L463.2,198.3 L463.2,205.4 L467.8,205.4 L467.8,198.3 L471.8,198.3 Z" fill="#000"/>
<text x="461.5" y="219.7" font-size="11" fill="#1a1a1a">L<tspan font-size="8.5" dy="3.7">3</tspan></text>
<rect x="60.5" y="332" width="223" height="266" fill="#fff" stroke="#2a2a2a" stroke-width="1.1"/>
<line x1="90.91" y1="598" x2="90.91" y2="593.2" stroke="#2a2a2a" stroke-width="1"/>
<line x1="90.91" y1="332" x2="90.91" y2="336.8" stroke="#2a2a2a" stroke-width="1"/>
<text x="90.91" y="614.6" font-size="11" text-anchor="middle" font-weight="normal" fill="#1a1a1a" >704</text>
<line x1="131.45" y1="598" x2="131.45" y2="593.2" stroke="#2a2a2a" stroke-width="1"/>
<line x1="131.45" y1="332" x2="131.45" y2="336.8" stroke="#2a2a2a" stroke-width="1"/>
<text x="131.45" y="614.6" font-size="11" text-anchor="middle" font-weight="normal" fill="#1a1a1a" >706</text>
<line x1="172" y1="598" x2="172" y2="593.2" stroke="#2a2a2a" stroke-width="1"/>
<line x1="172" y1="332" x2="172" y2="336.8" stroke="#2a2a2a" stroke-width="1"/>
<text x="172" y="614.6" font-size="11" text-anchor="middle" font-weight="normal" fill="#1a1a1a" >708</text>
<line x1="212.55" y1="598" x2="212.55" y2="593.2" stroke="#2a2a2a" stroke-width="1"/>
<line x1="212.55" y1="332" x2="212.55" y2="336.8" stroke="#2a2a2a" stroke-width="1"/>
<text x="212.55" y="614.6" font-size="11" text-anchor="middle" font-weight="normal" fill="#1a1a1a" >710</text>
<line x1="253.09" y1="598" x2="253.09" y2="593.2" stroke="#2a2a2a" stroke-width="1"/>
<line x1="253.09" y1="332" x2="253.09" y2="336.8" stroke="#2a2a2a" stroke-width="1"/>
<text x="253.09" y="614.6" font-size="11" text-anchor="middle" font-weight="normal" fill="#1a1a1a" >712</text>
<line x1="60.5" y1="568.44" x2="65.3" y2="568.44" stroke="#2a2a2a" stroke-width="1"/>
<line x1="283.5" y1="568.44" x2="278.7" y2="568.44" stroke="#2a2a2a" stroke-width="1"/>
<text x="55" y="572.34" font-size="11" text-anchor="end" font-weight="normal" fill="#1a1a1a" >714</text>
<line x1="60.5" y1="529.04" x2="65.3" y2="529.04" stroke="#2a2a2a" stroke-width="1"/>
<line x1="283.5" y1="529.04" x2="278.7" y2="529.04" stroke="#2a2a2a" stroke-width="1"/>
<text x="55" y="532.94" font-size="11" text-anchor="end" font-weight="normal" fill="#1a1a1a" >716</text>
<line x1="60.5" y1="489.63" x2="65.3" y2="489.63" stroke="#2a2a2a" stroke-width="1"/>
<line x1="283.5" y1="489.63" x2="278.7" y2="489.63" stroke="#2a2a2a" stroke-width="1"/>
<text x="55" y="493.53" font-size="11" text-anchor="end" font-weight="normal" fill="#1a1a1a" >718</text>
<line x1="60.5" y1="450.22" x2="65.3" y2="450.22" stroke="#2a2a2a" stroke-width="1"/>
<line x1="283.5" y1="450.22" x2="278.7" y2="450.22" stroke="#2a2a2a" stroke-width="1"/>
<text x="55" y="454.12" font-size="11" text-anchor="end" font-weight="normal" fill="#1a1a1a" >720</text>
<line x1="60.5" y1="410.81" x2="65.3" y2="410.81" stroke="#2a2a2a" stroke-width="1"/>
<line x1="283.5" y1="410.81" x2="278.7" y2="410.81" stroke="#2a2a2a" stroke-width="1"/>
<text x="55" y="414.71" font-size="11" text-anchor="end" font-weight="normal" fill="#1a1a1a" >722</text>
<line x1="60.5" y1="371.41" x2="65.3" y2="371.41" stroke="#2a2a2a" stroke-width="1"/>
<line x1="283.5" y1="371.41" x2="278.7" y2="371.41" stroke="#2a2a2a" stroke-width="1"/>
<text x="55" y="375.31" font-size="11" text-anchor="end" font-weight="normal" fill="#1a1a1a" >724</text>
<line x1="60.5" y1="332" x2="65.3" y2="332" stroke="#2a2a2a" stroke-width="1"/>
<line x1="283.5" y1="332" x2="278.7" y2="332" stroke="#2a2a2a" stroke-width="1"/>
<text x="55" y="335.9" font-size="11" text-anchor="end" font-weight="normal" fill="#1a1a1a" >726</text>
<g shape-rendering="crispEdges" transform="translate(65.600,337.000) scale(10.16190,9.85385)"><path fill="#c12f00" d="M0 0h1v1h-1zM11 1h1v1h-1zM10 5h1v1h-1z"/><path fill="#6f02ed" d="M1 0h1v1h-1z"/><path fill="#000000" d="M2 0h2v1h-2zM18 0h3v1h-3zM2 1h3v1h-3zM17 1h4v1h-4zM2 2h3v1h-3zM17 2h4v1h-4zM2 3h3v1h-3zM17 3h4v1h-4zM2 4h3v1h-3zM16 4h5v1h-5zM3 5h1v1h-1zM16 5h5v1h-5zM17 6h4v1h-4zM17 7h4v1h-4zM17 8h4v1h-4zM17 9h4v1h-4zM18 10h3v1h-3zM18 11h3v1h-3zM18 12h3v1h-3zM18 13h3v1h-3zM18 14h3v1h-3zM19 15h2v1h-2zM20 16h1v1h-1zM19 17h2v1h-2zM18 18h3v1h-3zM2 19h2v1h-2zM17 19h4v1h-4zM2 20h2v1h-2zM16 20h5v1h-5zM2 21h2v1h-2zM15 21h6v1h-6zM1 22h9v1h-9zM14 22h7v1h-7zM1 23h10v1h-10zM13 23h8v1h-8zM1 24h10v1h-10zM12 24h9v1h-9zM1 25h20v1h-20z"/><path fill="#4c0089" d="M4 0h1v1h-1z"/><path fill="#8004ff" d="M5 0h1v1h-1zM5 1h1v1h-1zM16 2h1v1h-1zM15 3h1v1h-1zM15 4h1v1h-1zM5 5h1v1h-1zM2 6h1v1h-1zM4 6h1v1h-1zM16 9h1v1h-1zM16 10h1v1h-1zM2 18h2v1h-2zM5 19h5v1h-5zM11 24h1v1h-1z"/><path fill="#9d0eaf" d="M6 0h1v1h-1zM14 5h1v1h-1zM3 13h1v1h-1zM3 14h1v1h-1zM11 19h1v1h-1z"/><path fill="#bd2a00" d="M7 0h2v1h-2zM9 1h1v1h-1zM14 1h1v1h-1zM14 2h1v1h-1zM9 3h1v1h-1zM11 3h2v1h-2zM12 4h1v1h-1zM9 5h1v1h-1zM13 5h1v1h-1zM15 9h1v1h-1zM15 12h1v1h-1zM9 17h1v1h-1zM15 17h1v1h-1zM18 17h1v1h-1zM0 19h1v1h-1zM11 21h1v1h-1z"/><path fill="#c63700" d="M9 0h1v1h-1zM0 1h1v1h-1zM13 1h1v1h-1zM0 2h1v1h-1zM11 2h1v1h-1zM0 3h1v1h-1zM0 4h1v1h-1zM12 5h1v1h-1zM6 6h1v1h-1zM5 10h1v1h-1zM5 15h1v1h-1zM10 16h1v1h-1zM14 16h1v1h-1zM0 17h1v1h-1zM11 17h2v1h-2zM6 18h1v1h-1zM16 18h1v1h-1zM14 20h1v1h-1zM12 21h1v1h-1z"/><path fill="#c73a00" d="M10 0h1v1h-1z"/><path fill="#d25000" d="M11 0h1v1h-1zM9 6h1v1h-1zM11 6h2v1h-2zM14 9h1v1h-1zM14 12h1v1h-1zM5 13h1v1h-1zM8 15h1v1h-1zM12 15h2v1h-2zM0 16h1v1h-1z"/><path fill="#d85f00" d="M12 0h1v1h-1zM6 7h1v1h-1zM8 14h1v1h-1zM13 14h1v1h-1zM0 15h1v1h-1zM6 15h2v1h-2zM11 15h1v1h-1zM13 21h1v1h-1z"/><path fill="#d55700" d="M13 0h1v1h-1zM14 10h1v1h-1zM14 11h1v1h-1zM9 15h1v1h-1zM0 18h1v1h-1z"/><path fill="#c93d00" d="M14 0h1v1h-1zM12 1h1v1h-1zM13 2h1v1h-1zM11 5h1v1h-1zM14 7h1v1h-1zM5 11h1v1h-1zM5 14h1v1h-1zM14 15h1v1h-1zM9 16h1v1h-1zM13 17h1v1h-1zM17 18h1v1h-1z"/><path fill="#ab174f" d="M15 0h1v1h-1zM13 4h1v1h-1zM15 13h1v1h-1zM15 14h1v1h-1zM4 15h1v1h-1zM15 15h1v1h-1zM5 18h1v1h-1zM0 21h1v1h-1z"/><path fill="#8505fd" d="M16 0h1v1h-1zM6 4h1v1h-1zM15 5h1v1h-1zM15 6h1v1h-1zM2 7h3v1h-3zM2 8h1v1h-1zM2 9h1v1h-1zM2 10h1v1h-1zM2 11h1v1h-1zM2 12h1v1h-1zM16 12h1v1h-1zM2 13h1v1h-1zM16 13h1v1h-1zM2 14h1v1h-1zM16 14h1v1h-1zM2 15h1v1h-1zM16 15h1v1h-1zM1 16h1v1h-1zM4 16h1v1h-1zM1 17h1v1h-1zM4 17h1v1h-1zM11 22h1v1h-1z"/><path fill="#39004f" d="M17 0h1v1h-1zM4 5h1v1h-1zM17 10h1v1h-1zM4 20h1v1h-1z"/><path fill="#7803fa" d="M1 1h1v1h-1zM1 2h1v1h-1zM1 3h1v1h-1zM1 4h1v1h-1zM17 15h1v1h-1z"/><path fill="#9209df" d="M6 1h1v1h-1zM6 2h1v1h-1zM15 2h1v1h-1zM7 3h2v1h-2zM14 4h1v1h-1zM4 8h1v1h-1zM5 17h1v1h-1zM11 20h1v1h-1z"/><path fill="#9b0dba" d="M7 1h2v1h-2zM3 15h1v1h-1zM16 16h1v1h-1z"/><path fill="#ba2600" d="M10 1h1v1h-1zM10 17h1v1h-1z"/><path fill="#8706fa" d="M15 1h1v1h-1zM6 3h1v1h-1zM16 11h1v1h-1zM10 19h1v1h-1zM0 22h1v1h-1z"/><path fill="#7202f3" d="M16 1h1v1h-1zM3 6h1v1h-1zM16 8h1v1h-1zM3 16h1v1h-1zM1 19h1v1h-1zM11 23h1v1h-1z"/><path fill="#7d04fe" d="M5 2h1v1h-1z"/><path fill="#970bce" d="M7 2h2v1h-2zM14 3h1v1h-1zM6 5h1v1h-1zM5 6h1v1h-1zM15 7h1v1h-1zM3 9h1v1h-1zM3 10h1v1h-1zM3 11h1v1h-1z"/><path fill="#c23200" d="M9 2h1v1h-1zM14 6h1v1h-1zM1 7h1v1h-1zM5 9h1v1h-1zM15 10h1v1h-1zM15 11h1v1h-1zM6 16h3v1h-3zM14 17h1v1h-1zM7 18h1v1h-1zM10 18h1v1h-1zM15 18h1v1h-1zM14 19h1v1h-1zM13 22h1v1h-1zM0 25h1v1h-1z"/><path fill="#bf2d00" d="M10 2h1v1h-1z"/><path fill="#ce4600" d="M12 2h1v1h-1zM0 5h1v1h-1zM7 6h2v1h-2zM10 6h1v1h-1zM13 6h1v1h-1zM14 8h1v1h-1zM5 12h1v1h-1zM14 13h1v1h-1zM11 16h3v1h-3zM11 18h4v1h-4zM15 19h2v1h-2z"/><path fill="#6c01e7" d="M5 3h1v1h-1zM16 7h1v1h-1zM17 11h1v1h-1zM17 12h1v1h-1zM17 13h1v1h-1zM17 14h1v1h-1zM9 20h1v1h-1zM1 21h1v1h-1zM9 21h1v1h-1z"/><path fill="#b42000" d="M10 3h1v1h-1zM13 3h1v1h-1zM9 4h1v1h-1zM7 5h2v1h-2zM5 7h1v1h-1zM1 8h1v1h-1zM1 9h1v1h-1zM1 10h1v1h-1zM4 11h1v1h-1zM4 12h1v1h-1zM1 13h1v1h-1zM1 14h1v1h-1zM12 19h1v1h-1zM13 20h1v1h-1z"/><path fill="#48007b" d="M16 3h1v1h-1zM18 15h1v1h-1zM10 22h1v1h-1z"/><path fill="#6301ce" d="M5 4h1v1h-1zM6 20h3v1h-3zM6 21h2v1h-2z"/><path fill="#8c07f3" d="M7 4h2v1h-2zM1 5h1v1h-1zM3 8h1v1h-1zM19 16h1v1h-1zM4 18h1v1h-1zM12 23h1v1h-1z"/><path fill="#a31289" d="M10 4h1v1h-1z"/><path fill="#b82400" d="M11 4h1v1h-1zM1 6h1v1h-1zM5 8h1v1h-1zM1 12h1v1h-1zM5 16h1v1h-1zM6 17h3v1h-3zM16 17h2v1h-2zM9 18h1v1h-1zM13 19h1v1h-1z"/><path fill="#5800af" d="M2 5h1v1h-1zM3 17h1v1h-1z"/><path fill="#dd6c00" d="M0 6h1v1h-1zM7 7h3v1h-3zM13 7h1v1h-1zM6 8h1v1h-1zM0 11h1v1h-1zM13 13h1v1h-1zM0 14h1v1h-1zM6 14h1v1h-1zM9 14h1v1h-1z"/><path fill="#510096" d="M16 6h1v1h-1zM2 17h1v1h-1zM1 20h1v1h-1z"/><path fill="#efae00" d="M0 7h1v1h-1zM10 9h2v1h-2zM12 10h1v1h-1zM8 11h1v1h-1zM6 12h1v1h-1zM10 12h1v1h-1zM9 13h1v1h-1z"/><path fill="#da6300" d="M10 7h1v1h-1zM10 14h1v1h-1zM12 14h1v1h-1z"/><path fill="#e48300" d="M11 7h1v1h-1zM7 8h2v1h-2zM10 8h1v1h-1zM12 8h1v1h-1zM13 9h1v1h-1zM6 13h1v1h-1zM10 13h1v1h-1z"/><path fill="#e17900" d="M12 7h1v1h-1zM13 8h1v1h-1zM6 9h1v1h-1zM6 10h1v1h-1zM6 11h1v1h-1zM0 12h1v1h-1zM13 12h1v1h-1zM0 13h1v1h-1zM12 13h1v1h-1zM7 14h1v1h-1zM15 20h1v1h-1z"/><path fill="#e78d00" d="M0 8h1v1h-1zM9 8h1v1h-1zM11 8h1v1h-1zM0 9h1v1h-1zM7 9h1v1h-1zM0 10h1v1h-1zM13 10h1v1h-1zM13 11h1v1h-1z"/><path fill="#a5137b" d="M15 8h1v1h-1zM4 10h1v1h-1zM1 15h1v1h-1z"/><path fill="#a11096" d="M4 9h1v1h-1zM1 11h1v1h-1zM12 22h1v1h-1z"/><path fill="#eb9d00" d="M8 9h1v1h-1zM12 9h1v1h-1zM7 10h1v1h-1zM7 11h1v1h-1zM7 13h2v1h-2z"/><path fill="#f2ba00" d="M9 9h1v1h-1zM12 11h1v1h-1zM7 12h2v1h-2z"/><path fill="#eea800" d="M8 10h1v1h-1z"/><path fill="#f5c700" d="M9 10h1v1h-1zM11 10h1v1h-1z"/><path fill="#f1b400" d="M10 10h1v1h-1z"/><path fill="#fcf000" d="M9 11h1v1h-1z"/><path fill="#f3c000" d="M10 11h1v1h-1z"/><path fill="#f9db00" d="M11 11h1v1h-1zM14 21h1v1h-1z"/><path fill="#990cc4" d="M3 12h1v1h-1zM17 16h1v1h-1zM0 20h1v1h-1z"/><path fill="#fae200" d="M9 12h1v1h-1z"/><path fill="#f6cd00" d="M11 12h1v1h-1z"/><path fill="#eca200" d="M12 12h1v1h-1z"/><path fill="#b11c20" d="M4 13h1v1h-1zM4 14h1v1h-1zM15 16h1v1h-1zM1 18h1v1h-1zM8 18h1v1h-1zM12 20h1v1h-1zM0 24h1v1h-1z"/><path fill="#e89200" d="M11 13h1v1h-1z"/><path fill="#e07400" d="M11 14h1v1h-1z"/><path fill="#cf4900" d="M14 14h1v1h-1zM10 15h1v1h-1z"/><path fill="#5f01c4" d="M2 16h1v1h-1z"/><path fill="#9008e7" d="M18 16h1v1h-1z"/><path fill="#5c01ba" d="M4 19h1v1h-1zM8 21h1v1h-1z"/><path fill="#6901df" d="M5 20h1v1h-1zM5 21h1v1h-1z"/><path fill="#7a03fd" d="M10 20h1v1h-1z"/><path fill="#3e005e" d="M4 21h1v1h-1z"/><path fill="#8906f7" d="M10 21h1v1h-1zM0 23h1v1h-1z"/></g><circle cx="172.1" cy="441.6" r="4.4" fill="#96e63a" stroke="#111" stroke-width="1.1"/>
<defs><linearGradient id="gc" x1="0" y1="1" x2="0" y2="0"><stop offset="0.000" stop-color="#000000"/><stop offset="0.025" stop-color="#280028"/><stop offset="0.050" stop-color="#39004f"/><stop offset="0.075" stop-color="#460074"/><stop offset="0.100" stop-color="#510096"/><stop offset="0.125" stop-color="#5a00b4"/><stop offset="0.150" stop-color="#6301ce"/><stop offset="0.175" stop-color="#6b01e3"/><stop offset="0.200" stop-color="#7202f3"/><stop offset="0.225" stop-color="#7903fc"/><stop offset="0.250" stop-color="#8004ff"/><stop offset="0.275" stop-color="#8605fc"/><stop offset="0.300" stop-color="#8c07f3"/><stop offset="0.325" stop-color="#9109e3"/><stop offset="0.350" stop-color="#970bce"/><stop offset="0.375" stop-color="#9c0db4"/><stop offset="0.400" stop-color="#a11096"/><stop offset="0.425" stop-color="#a61474"/><stop offset="0.450" stop-color="#ab174f"/><stop offset="0.475" stop-color="#b01b28"/><stop offset="0.500" stop-color="#b42000"/><stop offset="0.525" stop-color="#b92500"/><stop offset="0.550" stop-color="#bd2a00"/><stop offset="0.575" stop-color="#c13000"/><stop offset="0.600" stop-color="#c63700"/><stop offset="0.625" stop-color="#ca3e00"/><stop offset="0.650" stop-color="#ce4600"/><stop offset="0.675" stop-color="#d24e00"/><stop offset="0.700" stop-color="#d55700"/><stop offset="0.725" stop-color="#d96100"/><stop offset="0.750" stop-color="#dd6c00"/><stop offset="0.775" stop-color="#e07700"/><stop offset="0.800" stop-color="#e48300"/><stop offset="0.825" stop-color="#e88f00"/><stop offset="0.850" stop-color="#eb9d00"/><stop offset="0.875" stop-color="#efab00"/><stop offset="0.900" stop-color="#f2ba00"/><stop offset="0.925" stop-color="#f5ca00"/><stop offset="0.950" stop-color="#f9db00"/><stop offset="0.975" stop-color="#fcec00"/><stop offset="1.000" stop-color="#ffff00"/></linearGradient></defs>
<rect x="289.2" y="332" width="11.6" height="265.8" fill="url(#gc)" stroke="#555" stroke-width="0.4"/>
<text x="305.8" y="602.3" font-size="11" text-anchor="start" font-weight="normal" fill="#1a1a1a" >175</text>
<line x1="289.2" y1="559.83" x2="300.8" y2="559.83" stroke="rgba(0,0,0,0.3)" stroke-width="0.8"/>
<line x1="289.2" y1="559.83" x2="291.7" y2="559.83" stroke="rgba(0,0,0,0.3)" stroke-width="0.8"/>
<line x1="300.8" y1="559.83" x2="298.3" y2="559.83" stroke="rgba(0,0,0,0.3)" stroke-width="0.8"/>
<text x="305.8" y="564.33" font-size="11" text-anchor="start" font-weight="normal" fill="#1a1a1a" >180</text>
<line x1="289.2" y1="521.86" x2="300.8" y2="521.86" stroke="rgba(0,0,0,0.3)" stroke-width="0.8"/>
<line x1="289.2" y1="521.86" x2="291.7" y2="521.86" stroke="rgba(0,0,0,0.3)" stroke-width="0.8"/>
<line x1="300.8" y1="521.86" x2="298.3" y2="521.86" stroke="rgba(0,0,0,0.3)" stroke-width="0.8"/>
<text x="305.8" y="526.36" font-size="11" text-anchor="start" font-weight="normal" fill="#1a1a1a" >185</text>
<line x1="289.2" y1="483.89" x2="300.8" y2="483.89" stroke="rgba(0,0,0,0.3)" stroke-width="0.8"/>
<line x1="289.2" y1="483.89" x2="291.7" y2="483.89" stroke="rgba(0,0,0,0.3)" stroke-width="0.8"/>
<line x1="300.8" y1="483.89" x2="298.3" y2="483.89" stroke="rgba(0,0,0,0.3)" stroke-width="0.8"/>
<text x="305.8" y="488.39" font-size="11" text-anchor="start" font-weight="normal" fill="#1a1a1a" >190</text>
<line x1="289.2" y1="445.91" x2="300.8" y2="445.91" stroke="rgba(0,0,0,0.3)" stroke-width="0.8"/>
<line x1="289.2" y1="445.91" x2="291.7" y2="445.91" stroke="rgba(0,0,0,0.3)" stroke-width="0.8"/>
<line x1="300.8" y1="445.91" x2="298.3" y2="445.91" stroke="rgba(0,0,0,0.3)" stroke-width="0.8"/>
<text x="305.8" y="450.41" font-size="11" text-anchor="start" font-weight="normal" fill="#1a1a1a" >195</text>
<line x1="289.2" y1="407.94" x2="300.8" y2="407.94" stroke="rgba(0,0,0,0.3)" stroke-width="0.8"/>
<line x1="289.2" y1="407.94" x2="291.7" y2="407.94" stroke="rgba(0,0,0,0.3)" stroke-width="0.8"/>
<line x1="300.8" y1="407.94" x2="298.3" y2="407.94" stroke="rgba(0,0,0,0.3)" stroke-width="0.8"/>
<text x="305.8" y="412.44" font-size="11" text-anchor="start" font-weight="normal" fill="#1a1a1a" >200</text>
<line x1="289.2" y1="369.97" x2="300.8" y2="369.97" stroke="rgba(0,0,0,0.3)" stroke-width="0.8"/>
<line x1="289.2" y1="369.97" x2="291.7" y2="369.97" stroke="rgba(0,0,0,0.3)" stroke-width="0.8"/>
<line x1="300.8" y1="369.97" x2="298.3" y2="369.97" stroke="rgba(0,0,0,0.3)" stroke-width="0.8"/>
<text x="305.8" y="374.47" font-size="11" text-anchor="start" font-weight="normal" fill="#1a1a1a" >205</text>
<text x="305.8" y="336.5" font-size="11" text-anchor="start" font-weight="normal" fill="#1a1a1a" >210</text>
<text x="-0.3" y="321.6" font-size="16" text-anchor="start" font-weight="bold" fill="#000" >c</text>
<text transform="translate(24.6,465) rotate(-90)" font-size="11.3" text-anchor="middle" fill="#1a1a1a">L<tspan font-size="8.5" dy="3.2">2</tspan><tspan dy="-3.2"> edge energy</tspan></text>
<text transform="translate(342.9,464.9) rotate(-90)" font-size="11.3" text-anchor="middle" fill="#1a1a1a">Norm of extracted spectrum</text>
<text x="174.1" y="633.9" font-size="11.3" text-anchor="middle" fill="#1a1a1a">L<tspan font-size="8.5" dy="3.2">3</tspan><tspan dy="-3.2"> edge energy</tspan></text>
<rect x="408.6" y="331.6" width="202.5" height="265.8" fill="#fff" stroke="#2a2a2a" stroke-width="1.1"/>
<line x1="421.26" y1="597.4" x2="421.26" y2="594" stroke="#2a2a2a" stroke-width="1"/>
<line x1="421.26" y1="331.6" x2="421.26" y2="335" stroke="#2a2a2a" stroke-width="1"/>
<text x="421.26" y="614.6" font-size="11" text-anchor="middle" font-weight="normal" fill="#1a1a1a" >846</text>
<line x1="446.57" y1="597.4" x2="446.57" y2="594" stroke="#2a2a2a" stroke-width="1"/>
<line x1="446.57" y1="331.6" x2="446.57" y2="335" stroke="#2a2a2a" stroke-width="1"/>
<text x="446.57" y="614.6" font-size="11" text-anchor="middle" font-weight="normal" fill="#1a1a1a" >848</text>
<line x1="471.88" y1="597.4" x2="471.88" y2="594" stroke="#2a2a2a" stroke-width="1"/>
<line x1="471.88" y1="331.6" x2="471.88" y2="335" stroke="#2a2a2a" stroke-width="1"/>
<text x="471.88" y="614.6" font-size="11" text-anchor="middle" font-weight="normal" fill="#1a1a1a" >850</text>
<line x1="497.19" y1="597.4" x2="497.19" y2="594" stroke="#2a2a2a" stroke-width="1"/>
<line x1="497.19" y1="331.6" x2="497.19" y2="335" stroke="#2a2a2a" stroke-width="1"/>
<text x="497.19" y="614.6" font-size="11" text-anchor="middle" font-weight="normal" fill="#1a1a1a" >852</text>
<line x1="522.51" y1="597.4" x2="522.51" y2="594" stroke="#2a2a2a" stroke-width="1"/>
<line x1="522.51" y1="331.6" x2="522.51" y2="335" stroke="#2a2a2a" stroke-width="1"/>
<text x="522.51" y="614.6" font-size="11" text-anchor="middle" font-weight="normal" fill="#1a1a1a" >854</text>
<line x1="547.82" y1="597.4" x2="547.82" y2="594" stroke="#2a2a2a" stroke-width="1"/>
<line x1="547.82" y1="331.6" x2="547.82" y2="335" stroke="#2a2a2a" stroke-width="1"/>
<text x="547.82" y="614.6" font-size="11" text-anchor="middle" font-weight="normal" fill="#1a1a1a" >856</text>
<line x1="573.13" y1="597.4" x2="573.13" y2="594" stroke="#2a2a2a" stroke-width="1"/>
<line x1="573.13" y1="331.6" x2="573.13" y2="335" stroke="#2a2a2a" stroke-width="1"/>
<text x="573.13" y="614.6" font-size="11" text-anchor="middle" font-weight="normal" fill="#1a1a1a" >858</text>
<line x1="598.44" y1="597.4" x2="598.44" y2="594" stroke="#2a2a2a" stroke-width="1"/>
<line x1="598.44" y1="331.6" x2="598.44" y2="335" stroke="#2a2a2a" stroke-width="1"/>
<text x="598.44" y="614.6" font-size="11" text-anchor="middle" font-weight="normal" fill="#1a1a1a" >860</text>
<line x1="408.6" y1="597.4" x2="412" y2="597.4" stroke="#2a2a2a" stroke-width="1"/>
<line x1="611.1" y1="597.4" x2="607.7" y2="597.4" stroke="#2a2a2a" stroke-width="1"/>
<text x="403.1" y="601.3" font-size="11" text-anchor="end" font-weight="normal" fill="#1a1a1a" >865</text>
<line x1="408.6" y1="530.95" x2="412" y2="530.95" stroke="#2a2a2a" stroke-width="1"/>
<line x1="611.1" y1="530.95" x2="607.7" y2="530.95" stroke="#2a2a2a" stroke-width="1"/>
<text x="403.1" y="534.85" font-size="11" text-anchor="end" font-weight="normal" fill="#1a1a1a" >870</text>
<line x1="408.6" y1="464.5" x2="412" y2="464.5" stroke="#2a2a2a" stroke-width="1"/>
<line x1="611.1" y1="464.5" x2="607.7" y2="464.5" stroke="#2a2a2a" stroke-width="1"/>
<text x="403.1" y="468.4" font-size="11" text-anchor="end" font-weight="normal" fill="#1a1a1a" >875</text>
<line x1="408.6" y1="398.05" x2="412" y2="398.05" stroke="#2a2a2a" stroke-width="1"/>
<line x1="611.1" y1="398.05" x2="607.7" y2="398.05" stroke="#2a2a2a" stroke-width="1"/>
<text x="403.1" y="401.95" font-size="11" text-anchor="end" font-weight="normal" fill="#1a1a1a" >880</text>
<line x1="408.6" y1="331.6" x2="412" y2="331.6" stroke="#2a2a2a" stroke-width="1"/>
<line x1="611.1" y1="331.6" x2="607.7" y2="331.6" stroke="#2a2a2a" stroke-width="1"/>
<text x="403.1" y="335.5" font-size="11" text-anchor="end" font-weight="normal" fill="#1a1a1a" >885</text>
<g shape-rendering="crispEdges" transform="translate(411.900,335.000) scale(6.31613,6.63590)"><path fill="#000000" d="M0 0h1v1h-1zM26 24h5v1h-5zM25 25h6v1h-6zM24 26h7v1h-7zM23 27h8v1h-8zM23 28h8v1h-8zM23 29h8v1h-8zM8 30h2v1h-2zM23 30h8v1h-8zM8 31h2v1h-2zM23 31h8v1h-8zM8 32h2v1h-2zM23 32h8v1h-8zM8 33h2v1h-2zM23 33h8v1h-8zM7 34h4v1h-4zM23 34h8v1h-8zM7 35h4v1h-4zM23 35h8v1h-8zM7 36h4v1h-4zM23 36h8v1h-8zM8 37h1v1h-1zM23 37h8v1h-8zM23 38h8v1h-8z"/><path fill="#240020" d="M1 0h1v1h-1zM0 2h1v1h-1zM28 23h1v1h-1zM7 37h1v1h-1z"/><path fill="#33003f" d="M2 0h1v1h-1zM1 3h1v1h-1zM0 4h1v1h-1zM29 22h1v1h-1zM24 24h1v1h-1zM8 25h2v1h-2zM22 27h1v1h-1zM22 28h1v1h-1zM22 29h1v1h-1zM22 30h1v1h-1zM22 31h1v1h-1zM22 32h1v1h-1zM22 33h1v1h-1zM22 34h1v1h-1zM22 35h1v1h-1zM22 36h1v1h-1zM10 37h1v1h-1zM7 38h1v1h-1z"/><path fill="#3e005e" d="M3 0h1v1h-1zM2 3h1v1h-1zM0 5h1v1h-1zM28 22h1v1h-1zM8 23h2v1h-2zM7 25h1v1h-1zM10 25h1v1h-1zM11 26h1v1h-1zM11 27h1v1h-1zM11 28h1v1h-1zM11 29h1v1h-1zM12 30h1v1h-1zM12 31h1v1h-1zM12 32h1v1h-1zM12 33h1v1h-1zM6 34h1v1h-1zM6 35h1v1h-1zM6 36h1v1h-1zM12 37h1v1h-1zM10 38h1v1h-1z"/><path fill="#4c0089" d="M4 0h1v1h-1zM4 1h1v1h-1zM3 4h1v1h-1zM3 5h1v1h-1zM2 6h1v1h-1zM0 7h2v1h-2zM27 22h1v1h-1zM11 25h1v1h-1zM21 26h1v1h-1zM6 38h1v1h-1zM13 38h8v1h-8z"/><path fill="#5800af" d="M5 0h1v1h-1zM5 1h1v1h-1zM4 6h1v1h-1zM2 8h1v1h-1zM0 9h2v1h-2zM8 21h1v1h-1zM26 22h1v1h-1zM6 23h1v1h-1zM12 24h1v1h-1zM13 25h2v1h-2z"/><path fill="#6601d7" d="M6 0h1v1h-1zM6 1h1v1h-1zM5 8h1v1h-1zM4 10h1v1h-1zM2 11h1v1h-1zM8 19h1v1h-1zM9 20h1v1h-1zM6 21h1v1h-1zM27 21h1v1h-1zM12 22h1v1h-1zM13 23h1v1h-1zM20 24h1v1h-1z"/><path fill="#7803fa" d="M7 0h1v1h-1zM7 1h1v1h-1zM7 2h1v1h-1zM7 3h1v1h-1zM7 4h1v1h-1zM7 5h1v1h-1zM7 6h1v1h-1zM7 7h1v1h-1zM6 12h1v1h-1zM6 13h1v1h-1zM6 14h1v1h-1zM0 15h7v1h-7zM4 16h4v1h-4zM5 17h1v1h-1zM9 18h1v1h-1zM5 19h1v1h-1zM30 19h1v1h-1zM5 20h1v1h-1zM27 20h1v1h-1zM5 21h1v1h-1zM22 22h1v1h-1zM17 23h3v1h-3z"/><path fill="#8004ff" d="M8 0h1v1h-1zM8 1h1v1h-1zM0 18h4v1h-4zM28 19h1v1h-1zM4 20h1v1h-1zM11 20h1v1h-1zM25 20h1v1h-1zM4 21h1v1h-1zM12 21h1v1h-1zM21 21h2v1h-2zM4 22h1v1h-1zM15 22h5v1h-5zM4 25h1v1h-1zM4 26h1v1h-1zM4 27h1v1h-1zM4 28h1v1h-1zM4 29h1v1h-1zM4 30h1v1h-1zM4 31h1v1h-1zM4 32h1v1h-1zM4 33h1v1h-1zM4 34h1v1h-1zM4 35h1v1h-1zM4 36h1v1h-1zM4 37h1v1h-1zM4 38h1v1h-1z"/><path fill="#970bce" d="M9 0h1v1h-1zM14 16h1v1h-1z"/><path fill="#b42000" d="M10 0h1v1h-1zM30 6h1v1h-1zM11 8h1v1h-1zM29 10h2v1h-2zM12 11h1v1h-1zM27 12h1v1h-1zM23 14h1v1h-1zM16 15h1v1h-1zM21 15h1v1h-1z"/><path fill="#c12f00" d="M11 0h1v1h-1zM29 3h1v1h-1zM29 4h1v1h-1zM12 8h1v1h-1zM26 10h1v1h-1zM24 12h1v1h-1zM17 14h3v1h-3z"/><path fill="#c63700" d="M12 0h1v1h-1zM12 1h1v1h-1zM12 2h1v1h-1zM12 3h1v1h-1zM12 4h1v1h-1zM28 6h1v1h-1zM13 9h1v1h-1zM25 10h1v1h-1zM14 11h1v1h-1zM24 11h1v1h-1zM22 12h1v1h-1zM16 13h1v1h-1zM20 13h1v1h-1z"/><path fill="#ce4600" d="M13 0h1v1h-1zM13 1h1v1h-1zM13 2h1v1h-1zM13 3h1v1h-1zM13 4h1v1h-1zM27 6h1v1h-1zM21 11h1v1h-1zM17 12h1v1h-1zM19 12h1v1h-1z"/><path fill="#d55700" d="M14 0h1v1h-1zM14 1h1v1h-1zM14 2h1v1h-1zM14 3h1v1h-1zM14 4h1v1h-1zM14 5h1v1h-1zM26 5h1v1h-1zM26 6h1v1h-1zM24 9h1v1h-1zM20 10h1v1h-1zM18 11h1v1h-1z"/><path fill="#da6300" d="M15 0h1v1h-1zM15 1h1v1h-1zM15 2h1v1h-1zM15 3h1v1h-1zM15 4h1v1h-1zM25 5h1v1h-1zM24 8h1v1h-1zM22 9h1v1h-1zM18 10h1v1h-1z"/><path fill="#e17900" d="M16 0h1v1h-1zM23 0h1v1h-1zM16 1h1v1h-1zM23 1h1v1h-1zM16 2h1v1h-1zM23 2h1v1h-1zM22 5h1v1h-1zM22 6h1v1h-1zM17 8h1v1h-1zM21 8h1v1h-1z"/><path fill="#eb9d00" d="M17 0h1v1h-1zM21 0h1v1h-1zM19 6h1v1h-1z"/><path fill="#f2ba00" d="M18 0h1v1h-1zM20 0h1v1h-1zM18 1h1v1h-1zM20 1h1v1h-1zM19 3h1v1h-1zM19 4h1v1h-1z"/><path fill="#f5c700" d="M19 0h1v1h-1zM19 1h1v1h-1z"/><path fill="#e48300" d="M22 0h1v1h-1zM22 1h1v1h-1zM22 2h1v1h-1zM17 6h1v1h-1zM21 6h1v1h-1zM18 8h3v1h-3z"/><path fill="#e07400" d="M24 0h1v1h-1zM24 1h1v1h-1zM16 3h1v1h-1zM23 3h1v1h-1zM16 4h1v1h-1zM23 4h1v1h-1zM22 7h1v1h-1z"/><path fill="#dd6c00" d="M25 0h1v1h-1zM25 1h1v1h-1zM24 5h1v1h-1zM16 7h1v1h-1zM23 7h1v1h-1zM21 9h1v1h-1z"/><path fill="#d85f00" d="M26 0h1v1h-1zM26 1h1v1h-1zM26 2h1v1h-1zM15 5h1v1h-1zM15 6h1v1h-1zM25 6h1v1h-1zM15 7h1v1h-1zM25 7h1v1h-1zM16 9h1v1h-1zM19 10h1v1h-1z"/><path fill="#d25000" d="M27 0h1v1h-1zM27 1h1v1h-1zM27 2h1v1h-1zM14 7h1v1h-1zM14 8h1v1h-1zM26 8h1v1h-1zM15 9h1v1h-1zM25 9h1v1h-1zM21 10h1v1h-1zM17 11h1v1h-1zM19 11h1v1h-1z"/><path fill="#ca4000" d="M28 0h1v1h-1zM28 1h1v1h-1zM13 8h1v1h-1zM27 8h1v1h-1zM14 10h1v1h-1zM22 11h1v1h-1zM16 12h1v1h-1zM20 12h1v1h-1z"/><path fill="#c23200" d="M29 0h1v1h-1zM29 1h1v1h-1zM29 2h1v1h-1zM12 6h1v1h-1zM12 7h1v1h-1zM28 8h1v1h-1zM13 10h1v1h-1zM25 11h1v1h-1zM14 12h1v1h-1zM23 12h1v1h-1zM15 13h1v1h-1zM21 13h1v1h-1z"/><path fill="#bd2a00" d="M30 0h1v1h-1zM11 4h1v1h-1zM27 10h1v1h-1zM26 11h1v1h-1zM25 12h1v1h-1zM14 13h1v1h-1zM15 14h1v1h-1zM21 14h1v1h-1z"/><path fill="#1a0010" d="M0 1h1v1h-1zM29 23h2v1h-2zM25 24h1v1h-1zM24 25h1v1h-1zM23 26h1v1h-1z"/><path fill="#2c0030" d="M1 1h1v1h-1zM1 2h1v1h-1zM0 3h1v1h-1zM30 22h1v1h-1zM27 23h1v1h-1zM23 25h1v1h-1zM8 26h2v1h-2zM8 27h2v1h-2zM8 28h2v1h-2zM8 29h2v1h-2zM7 30h1v1h-1zM10 30h1v1h-1zM7 31h1v1h-1zM10 31h1v1h-1zM7 32h1v1h-1zM10 32h1v1h-1zM7 33h1v1h-1zM10 33h1v1h-1zM11 34h1v1h-1zM11 35h1v1h-1zM11 36h1v1h-1zM9 37h1v1h-1zM22 37h1v1h-1zM8 38h1v1h-1zM22 38h1v1h-1z"/><path fill="#39004f" d="M2 1h1v1h-1zM2 2h1v1h-1zM1 4h1v1h-1zM26 23h1v1h-1zM8 24h2v1h-2zM7 26h1v1h-1zM10 26h1v1h-1zM22 26h1v1h-1zM7 27h1v1h-1zM10 27h1v1h-1zM7 28h1v1h-1zM10 28h1v1h-1zM7 29h1v1h-1zM10 29h1v1h-1zM11 30h1v1h-1zM11 31h1v1h-1zM11 32h1v1h-1zM11 33h1v1h-1zM12 34h1v1h-1zM12 35h1v1h-1zM12 36h1v1h-1zM11 37h1v1h-1zM9 38h1v1h-1z"/><path fill="#43006d" d="M3 1h1v1h-1zM3 2h1v1h-1zM2 4h1v1h-1zM1 5h1v1h-1zM0 6h1v1h-1zM7 24h1v1h-1zM10 24h1v1h-1zM23 24h1v1h-1zM22 25h1v1h-1zM12 26h1v1h-1zM12 27h1v1h-1zM12 28h1v1h-1zM21 28h1v1h-1zM12 29h1v1h-1zM21 29h1v1h-1zM13 30h7v1h-7zM21 30h1v1h-1zM13 31h7v1h-7zM21 31h1v1h-1zM13 32h7v1h-7zM21 32h1v1h-1zM13 33h7v1h-7zM21 33h1v1h-1zM13 34h7v1h-7zM21 34h1v1h-1zM13 35h7v1h-7zM21 35h1v1h-1zM13 36h7v1h-7zM21 36h1v1h-1zM21 37h1v1h-1zM11 38h1v1h-1zM21 38h1v1h-1z"/><path fill="#950ad7" d="M9 1h1v1h-1zM9 2h1v1h-1zM30 13h1v1h-1zM26 15h1v1h-1zM24 16h1v1h-1zM18 17h1v1h-1zM22 17h1v1h-1z"/><path fill="#b21e10" d="M10 1h1v1h-1zM10 2h1v1h-1zM13 13h1v1h-1zM25 13h1v1h-1z"/><path fill="#bf2d00" d="M11 1h1v1h-1zM11 2h1v1h-1zM11 3h1v1h-1zM29 5h1v1h-1zM13 11h1v1h-1zM22 13h1v1h-1zM16 14h1v1h-1zM20 14h1v1h-1z"/><path fill="#ea9700" d="M17 1h1v1h-1zM21 1h1v1h-1zM17 2h1v1h-1zM21 2h1v1h-1zM17 3h1v1h-1zM21 3h1v1h-1zM18 6h1v1h-1zM20 6h1v1h-1z"/><path fill="#bb2800" d="M30 1h1v1h-1zM30 2h1v1h-1zM30 3h1v1h-1zM11 5h1v1h-1zM29 6h1v1h-1zM12 9h1v1h-1zM28 9h1v1h-1zM23 13h1v1h-1z"/><path fill="#510096" d="M4 2h1v1h-1zM4 3h1v1h-1zM3 6h1v1h-1zM2 7h1v1h-1zM0 8h1v1h-1zM29 21h1v1h-1zM7 22h1v1h-1zM10 22h1v1h-1zM11 24h1v1h-1zM6 25h1v1h-1zM6 26h1v1h-1zM6 27h1v1h-1zM15 27h6v1h-6zM6 28h1v1h-1zM6 29h1v1h-1z"/><path fill="#5c01ba" d="M5 2h1v1h-1zM5 3h1v1h-1zM5 4h1v1h-1zM4 7h1v1h-1zM3 8h1v1h-1zM2 9h1v1h-1zM7 21h1v1h-1zM28 21h1v1h-1zM6 22h1v1h-1zM11 22h1v1h-1zM13 24h1v1h-1zM20 25h1v1h-1z"/><path fill="#6901df" d="M6 2h1v1h-1zM6 3h1v1h-1zM6 4h1v1h-1zM5 9h1v1h-1zM3 11h1v1h-1zM0 12h2v1h-2zM7 19h1v1h-1zM22 23h1v1h-1zM15 24h5v1h-5z"/><path fill="#8204fe" d="M8 2h1v1h-1zM8 3h1v1h-1zM8 4h1v1h-1zM8 5h1v1h-1zM8 6h1v1h-1zM8 7h1v1h-1zM8 8h1v1h-1zM8 9h1v1h-1zM8 10h1v1h-1zM8 11h1v1h-1zM8 12h1v1h-1zM8 13h1v1h-1zM8 14h1v1h-1zM8 15h1v1h-1zM9 17h1v1h-1zM30 18h1v1h-1zM0 19h4v1h-4zM27 19h1v1h-1zM0 20h4v1h-4zM23 20h2v1h-2zM0 21h4v1h-4zM13 21h8v1h-8zM3 22h1v1h-1zM3 23h1v1h-1zM3 24h1v1h-1z"/><path fill="#f1b400" d="M18 2h1v1h-1zM20 2h1v1h-1z"/><path fill="#f3c000" d="M19 2h1v1h-1z"/><path fill="#de7000" d="M24 2h1v1h-1zM24 3h1v1h-1zM24 4h1v1h-1zM16 5h1v1h-1zM23 5h1v1h-1zM16 6h1v1h-1zM23 6h1v1h-1zM22 8h1v1h-1zM18 9h3v1h-3z"/><path fill="#db6700" d="M25 2h1v1h-1zM25 3h1v1h-1zM25 4h1v1h-1zM24 6h1v1h-1zM24 7h1v1h-1zM16 8h1v1h-1zM23 8h1v1h-1zM17 9h1v1h-1z"/><path fill="#c93d00" d="M28 2h1v1h-1zM28 3h1v1h-1zM28 4h1v1h-1zM24 10h1v1h-1zM21 12h1v1h-1zM18 13h1v1h-1z"/><path fill="#48007b" d="M3 3h1v1h-1zM2 5h1v1h-1zM1 6h1v1h-1zM30 21h1v1h-1zM8 22h2v1h-2zM7 23h1v1h-1zM10 23h1v1h-1zM25 23h1v1h-1zM13 26h2v1h-2zM13 27h2v1h-2zM21 27h1v1h-1zM13 28h8v1h-8zM13 29h8v1h-8zM6 30h1v1h-1zM20 30h1v1h-1zM6 31h1v1h-1zM20 31h1v1h-1zM6 32h1v1h-1zM20 32h1v1h-1zM6 33h1v1h-1zM20 33h1v1h-1zM20 34h1v1h-1zM20 35h1v1h-1zM20 36h1v1h-1zM6 37h1v1h-1zM13 37h8v1h-8zM12 38h1v1h-1z"/><path fill="#9209df" d="M9 3h1v1h-1zM9 4h1v1h-1zM10 12h1v1h-1zM11 14h1v1h-1zM28 14h1v1h-1zM12 15h1v1h-1zM17 17h1v1h-1zM19 18h1v1h-1z"/><path fill="#b11c20" d="M10 3h1v1h-1zM10 4h1v1h-1zM30 7h1v1h-1zM11 9h1v1h-1zM29 9h1v1h-1zM28 11h1v1h-1zM15 15h1v1h-1zM19 16h1v1h-1z"/><path fill="#efae00" d="M18 3h1v1h-1zM20 3h1v1h-1zM18 4h1v1h-1zM20 4h1v1h-1zM19 5h1v1h-1z"/><path fill="#e37e00" d="M22 3h1v1h-1zM22 4h1v1h-1zM17 7h1v1h-1zM21 7h1v1h-1z"/><path fill="#d75b00" d="M26 3h1v1h-1zM26 4h1v1h-1zM15 8h1v1h-1zM25 8h1v1h-1zM23 9h1v1h-1zM17 10h1v1h-1z"/><path fill="#d14d00" d="M27 3h1v1h-1zM27 4h1v1h-1z"/><path fill="#5500a3" d="M4 4h1v1h-1zM4 5h1v1h-1zM3 7h1v1h-1zM1 8h1v1h-1zM11 23h1v1h-1zM24 23h1v1h-1zM6 24h1v1h-1zM22 24h1v1h-1zM12 25h1v1h-1zM21 25h1v1h-1zM15 26h6v1h-6z"/><path fill="#e89200" d="M17 4h1v1h-1zM21 4h1v1h-1z"/><path fill="#ba2600" d="M30 4h1v1h-1zM29 7h1v1h-1zM13 12h1v1h-1zM26 12h1v1h-1zM22 14h1v1h-1zM19 15h1v1h-1z"/><path fill="#5f01c4" d="M5 5h1v1h-1zM5 6h1v1h-1zM4 8h1v1h-1zM3 9h1v1h-1zM0 10h2v1h-2zM8 20h1v1h-1zM9 21h1v1h-1zM12 23h1v1h-1zM23 23h1v1h-1zM14 24h1v1h-1zM21 24h1v1h-1zM15 25h5v1h-5z"/><path fill="#6c01e7" d="M6 5h1v1h-1zM6 6h1v1h-1zM5 10h1v1h-1zM4 11h1v1h-1zM2 12h2v1h-2zM6 20h1v1h-1zM29 20h1v1h-1zM10 21h1v1h-1zM24 22h1v1h-1z"/><path fill="#9008e7" d="M9 5h1v1h-1zM9 6h1v1h-1zM10 13h1v1h-1zM27 15h1v1h-1zM13 16h1v1h-1zM25 16h1v1h-1zM16 17h1v1h-1zM23 17h1v1h-1zM20 18h1v1h-1z"/><path fill="#af1a30" d="M10 5h1v1h-1zM10 6h1v1h-1zM30 8h1v1h-1zM12 12h1v1h-1zM24 14h1v1h-1zM22 15h1v1h-1z"/><path fill="#c43400" d="M12 5h1v1h-1zM28 7h1v1h-1zM27 9h1v1h-1z"/><path fill="#cc4300" d="M13 5h1v1h-1zM13 6h1v1h-1zM13 7h1v1h-1zM27 7h1v1h-1zM26 9h1v1h-1zM23 10h1v1h-1zM15 11h1v1h-1z"/><path fill="#e78d00" d="M17 5h1v1h-1zM21 5h1v1h-1zM18 7h3v1h-3z"/><path fill="#eca200" d="M18 5h1v1h-1zM20 5h1v1h-1z"/><path fill="#cf4900" d="M27 5h1v1h-1zM14 9h1v1h-1zM15 10h1v1h-1zM22 10h1v1h-1zM16 11h1v1h-1zM20 11h1v1h-1zM18 12h1v1h-1z"/><path fill="#c73a00" d="M28 5h1v1h-1zM23 11h1v1h-1zM15 12h1v1h-1zM17 13h1v1h-1zM19 13h1v1h-1z"/><path fill="#b82400" d="M30 5h1v1h-1zM11 6h1v1h-1zM29 8h1v1h-1zM12 10h1v1h-1zM28 10h1v1h-1zM27 11h1v1h-1zM24 13h1v1h-1zM14 14h1v1h-1zM18 15h1v1h-1zM20 15h1v1h-1z"/><path fill="#d45400" d="M14 6h1v1h-1zM26 7h1v1h-1zM16 10h1v1h-1z"/><path fill="#6301ce" d="M5 7h1v1h-1zM4 9h1v1h-1zM2 10h2v1h-2zM0 11h2v1h-2zM7 20h1v1h-1zM30 20h1v1h-1zM25 22h1v1h-1z"/><path fill="#6f02ed" d="M6 7h1v1h-1zM6 8h1v1h-1zM5 11h1v1h-1zM4 12h1v1h-1zM0 13h4v1h-4zM7 18h2v1h-2zM9 19h1v1h-1zM26 21h1v1h-1zM13 22h1v1h-1zM21 23h1v1h-1z"/><path fill="#8e08ed" d="M9 7h1v1h-1zM9 8h1v1h-1zM29 14h1v1h-1zM15 17h1v1h-1zM21 18h1v1h-1z"/><path fill="#ad193f" d="M10 7h1v1h-1zM10 8h1v1h-1zM26 13h1v1h-1zM20 16h1v1h-1z"/><path fill="#b62200" d="M11 7h1v1h-1zM17 15h1v1h-1z"/><path fill="#7a03fd" d="M7 8h1v1h-1zM7 9h1v1h-1zM7 10h1v1h-1zM0 16h4v1h-4zM4 17h1v1h-1zM8 17h1v1h-1zM5 18h1v1h-1zM11 21h1v1h-1zM24 21h1v1h-1zM21 22h1v1h-1z"/><path fill="#7202f3" d="M6 9h1v1h-1zM5 12h1v1h-1zM4 13h1v1h-1zM0 14h2v1h-2zM6 19h1v1h-1zM10 20h1v1h-1zM28 20h1v1h-1zM23 22h1v1h-1zM5 23h1v1h-1zM5 24h1v1h-1zM5 25h1v1h-1zM5 26h1v1h-1zM5 27h1v1h-1zM5 28h1v1h-1zM5 29h1v1h-1zM5 30h1v1h-1zM5 31h1v1h-1zM5 32h1v1h-1zM5 33h1v1h-1zM5 34h1v1h-1zM5 35h1v1h-1zM5 36h1v1h-1zM5 37h1v1h-1z"/><path fill="#8c07f3" d="M9 9h1v1h-1zM9 10h1v1h-1zM9 11h1v1h-1zM9 12h1v1h-1zM10 14h1v1h-1zM30 14h1v1h-1zM11 15h1v1h-1zM28 15h1v1h-1zM12 16h1v1h-1zM26 16h1v1h-1zM14 17h1v1h-1zM24 17h1v1h-1zM22 18h1v1h-1zM0 24h1v1h-1z"/><path fill="#ab174f" d="M10 9h1v1h-1zM11 10h1v1h-1zM29 11h1v1h-1zM28 12h1v1h-1zM13 14h1v1h-1z"/><path fill="#a9165e" d="M30 9h1v1h-1zM30 11h1v1h-1zM14 15h1v1h-1zM23 15h1v1h-1z"/><path fill="#7502f7" d="M6 10h1v1h-1zM6 11h1v1h-1zM5 13h1v1h-1zM2 14h4v1h-4zM6 17h2v1h-2zM6 18h1v1h-1zM25 21h1v1h-1zM5 22h1v1h-1zM14 23h3v1h-3zM20 23h1v1h-1zM5 38h1v1h-1z"/><path fill="#9d0eaf" d="M10 10h1v1h-1zM11 12h1v1h-1zM30 12h1v1h-1zM12 14h1v1h-1zM13 15h1v1h-1zM15 16h1v1h-1zM20 17h1v1h-1z"/><path fill="#7d04fe" d="M7 11h1v1h-1zM7 12h1v1h-1zM7 13h1v1h-1zM7 14h1v1h-1zM7 15h1v1h-1zM8 16h1v1h-1zM0 17h4v1h-4zM4 18h1v1h-1zM4 19h1v1h-1zM29 19h1v1h-1zM26 20h1v1h-1zM23 21h1v1h-1zM14 22h1v1h-1zM20 22h1v1h-1zM4 23h1v1h-1zM4 24h1v1h-1z"/><path fill="#990cc4" d="M10 11h1v1h-1zM11 13h1v1h-1zM29 13h1v1h-1zM27 14h1v1h-1zM21 17h1v1h-1zM0 25h1v1h-1zM0 26h1v1h-1zM0 27h1v1h-1zM0 28h1v1h-1zM0 29h1v1h-1zM0 30h1v1h-1zM0 31h1v1h-1zM0 32h1v1h-1zM0 33h1v1h-1zM0 34h1v1h-1zM0 35h1v1h-1zM0 36h1v1h-1zM0 37h1v1h-1zM0 38h1v1h-1z"/><path fill="#a5137b" d="M11 11h1v1h-1zM12 13h1v1h-1zM17 16h1v1h-1z"/><path fill="#a11096" d="M29 12h1v1h-1zM26 14h1v1h-1zM24 15h1v1h-1zM16 16h1v1h-1zM22 16h1v1h-1zM19 17h1v1h-1z"/><path fill="#8906f7" d="M9 13h1v1h-1zM9 14h1v1h-1zM29 15h1v1h-1zM27 16h1v1h-1zM13 17h1v1h-1zM25 17h1v1h-1zM23 18h1v1h-1zM19 19h2v1h-2zM1 25h1v1h-1zM1 26h1v1h-1zM1 27h1v1h-1zM1 28h1v1h-1zM1 29h1v1h-1zM1 30h1v1h-1zM1 31h1v1h-1zM1 32h1v1h-1zM1 33h1v1h-1zM1 34h1v1h-1zM1 35h1v1h-1zM1 36h1v1h-1zM1 37h1v1h-1zM1 38h1v1h-1z"/><path fill="#a7146d" d="M27 13h1v1h-1zM25 14h1v1h-1zM18 16h1v1h-1zM21 16h1v1h-1z"/><path fill="#9f0fa3" d="M28 13h1v1h-1z"/><path fill="#8706fa" d="M9 15h2v1h-2zM30 15h1v1h-1zM11 16h1v1h-1zM28 16h1v1h-1zM12 17h1v1h-1zM26 17h2v1h-2zM15 18h4v1h-4zM24 18h2v1h-2zM21 19h3v1h-3zM0 23h1v1h-1z"/><path fill="#9b0dba" d="M25 15h1v1h-1zM23 16h1v1h-1z"/><path fill="#8505fd" d="M9 16h2v1h-2zM29 16h2v1h-2zM10 17h2v1h-2zM28 17h3v1h-3zM10 18h5v1h-5zM26 18h4v1h-4zM10 19h9v1h-9zM24 19h3v1h-3zM12 20h11v1h-11zM0 22h3v1h-3zM1 23h2v1h-2zM1 24h2v1h-2zM2 25h2v1h-2zM2 26h2v1h-2zM2 27h2v1h-2zM2 28h2v1h-2zM2 29h2v1h-2zM2 30h2v1h-2zM2 31h2v1h-2zM2 32h2v1h-2zM2 33h2v1h-2zM2 34h2v1h-2zM2 35h2v1h-2zM2 36h2v1h-2zM2 37h2v1h-2zM2 38h2v1h-2z"/></g><circle cx="525.1" cy="513.3" r="4.6" fill="#8fe619" stroke="#fff" stroke-width="1.2"/>
<defs><linearGradient id="gd" x1="0" y1="1" x2="0" y2="0"><stop offset="0.000" stop-color="#000000"/><stop offset="0.025" stop-color="#280028"/><stop offset="0.050" stop-color="#39004f"/><stop offset="0.075" stop-color="#460074"/><stop offset="0.100" stop-color="#510096"/><stop offset="0.125" stop-color="#5a00b4"/><stop offset="0.150" stop-color="#6301ce"/><stop offset="0.175" stop-color="#6b01e3"/><stop offset="0.200" stop-color="#7202f3"/><stop offset="0.225" stop-color="#7903fc"/><stop offset="0.250" stop-color="#8004ff"/><stop offset="0.275" stop-color="#8605fc"/><stop offset="0.300" stop-color="#8c07f3"/><stop offset="0.325" stop-color="#9109e3"/><stop offset="0.350" stop-color="#970bce"/><stop offset="0.375" stop-color="#9c0db4"/><stop offset="0.400" stop-color="#a11096"/><stop offset="0.425" stop-color="#a61474"/><stop offset="0.450" stop-color="#ab174f"/><stop offset="0.475" stop-color="#b01b28"/><stop offset="0.500" stop-color="#b42000"/><stop offset="0.525" stop-color="#b92500"/><stop offset="0.550" stop-color="#bd2a00"/><stop offset="0.575" stop-color="#c13000"/><stop offset="0.600" stop-color="#c63700"/><stop offset="0.625" stop-color="#ca3e00"/><stop offset="0.650" stop-color="#ce4600"/><stop offset="0.675" stop-color="#d24e00"/><stop offset="0.700" stop-color="#d55700"/><stop offset="0.725" stop-color="#d96100"/><stop offset="0.750" stop-color="#dd6c00"/><stop offset="0.775" stop-color="#e07700"/><stop offset="0.800" stop-color="#e48300"/><stop offset="0.825" stop-color="#e88f00"/><stop offset="0.850" stop-color="#eb9d00"/><stop offset="0.875" stop-color="#efab00"/><stop offset="0.900" stop-color="#f2ba00"/><stop offset="0.925" stop-color="#f5ca00"/><stop offset="0.950" stop-color="#f9db00"/><stop offset="0.975" stop-color="#fcec00"/><stop offset="1.000" stop-color="#ffff00"/></linearGradient></defs>
<rect x="615.6" y="331.4" width="10.9" height="266.2" fill="url(#gd)" stroke="#555" stroke-width="0.4"/>
<text x="631.5" y="602.1" font-size="11" text-anchor="start" font-weight="normal" fill="#1a1a1a" >30</text>
<line x1="615.6" y1="549.2" x2="626.5" y2="549.2" stroke="rgba(0,0,0,0.3)" stroke-width="0.8"/>
<line x1="615.6" y1="549.2" x2="618.1" y2="549.2" stroke="rgba(0,0,0,0.3)" stroke-width="0.8"/>
<line x1="626.5" y1="549.2" x2="624" y2="549.2" stroke="rgba(0,0,0,0.3)" stroke-width="0.8"/>
<text x="631.5" y="553.7" font-size="11" text-anchor="start" font-weight="normal" fill="#1a1a1a" >40</text>
<line x1="615.6" y1="500.8" x2="626.5" y2="500.8" stroke="rgba(0,0,0,0.3)" stroke-width="0.8"/>
<line x1="615.6" y1="500.8" x2="618.1" y2="500.8" stroke="rgba(0,0,0,0.3)" stroke-width="0.8"/>
<line x1="626.5" y1="500.8" x2="624" y2="500.8" stroke="rgba(0,0,0,0.3)" stroke-width="0.8"/>
<text x="631.5" y="505.3" font-size="11" text-anchor="start" font-weight="normal" fill="#1a1a1a" >50</text>
<line x1="615.6" y1="452.4" x2="626.5" y2="452.4" stroke="rgba(0,0,0,0.3)" stroke-width="0.8"/>
<line x1="615.6" y1="452.4" x2="618.1" y2="452.4" stroke="rgba(0,0,0,0.3)" stroke-width="0.8"/>
<line x1="626.5" y1="452.4" x2="624" y2="452.4" stroke="rgba(0,0,0,0.3)" stroke-width="0.8"/>
<text x="631.5" y="456.9" font-size="11" text-anchor="start" font-weight="normal" fill="#1a1a1a" >60</text>
<line x1="615.6" y1="404" x2="626.5" y2="404" stroke="rgba(0,0,0,0.3)" stroke-width="0.8"/>
<line x1="615.6" y1="404" x2="618.1" y2="404" stroke="rgba(0,0,0,0.3)" stroke-width="0.8"/>
<line x1="626.5" y1="404" x2="624" y2="404" stroke="rgba(0,0,0,0.3)" stroke-width="0.8"/>
<text x="631.5" y="408.5" font-size="11" text-anchor="start" font-weight="normal" fill="#1a1a1a" >70</text>
<line x1="615.6" y1="355.6" x2="626.5" y2="355.6" stroke="rgba(0,0,0,0.3)" stroke-width="0.8"/>
<line x1="615.6" y1="355.6" x2="618.1" y2="355.6" stroke="rgba(0,0,0,0.3)" stroke-width="0.8"/>
<line x1="626.5" y1="355.6" x2="624" y2="355.6" stroke="rgba(0,0,0,0.3)" stroke-width="0.8"/>
<text x="631.5" y="360.1" font-size="11" text-anchor="start" font-weight="normal" fill="#1a1a1a" >80</text>
<text x="363.4" y="324.5" font-size="16" text-anchor="start" font-weight="bold" fill="#000" >d</text>
<text transform="translate(373.8,464.5) rotate(-90)" font-size="11.3" text-anchor="middle" fill="#1a1a1a">L<tspan font-size="8.5" dy="3.2">2</tspan><tspan dy="-3.2"> edge energy</tspan></text>
<text transform="translate(666.2,464.5) rotate(-90)" font-size="11.3" text-anchor="middle" fill="#1a1a1a">Norm of extracted spectrum</text>
<text x="509.85" y="633.9" font-size="11.3" text-anchor="middle" fill="#1a1a1a">L<tspan font-size="8.5" dy="3.2">3</tspan><tspan dy="-3.2"> edge energy</tspan></text></svg></body></html>
